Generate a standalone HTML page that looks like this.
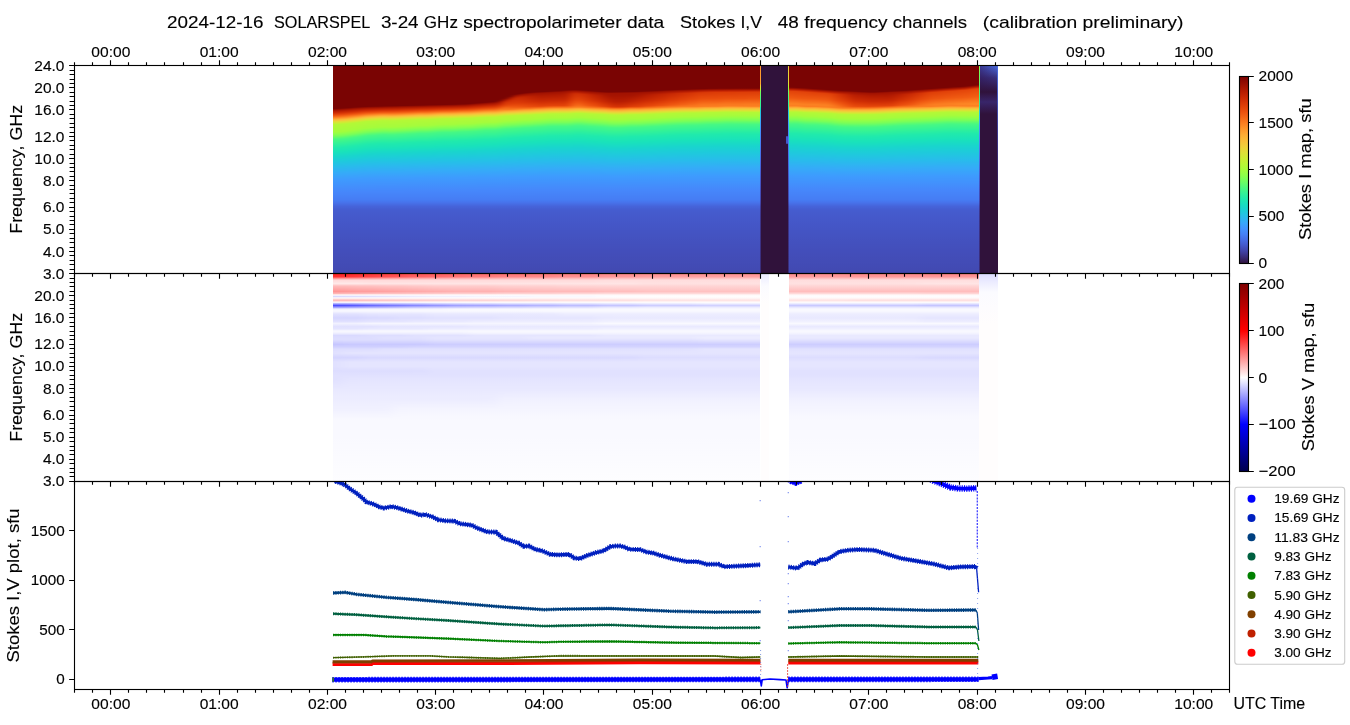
<!DOCTYPE html><html><head><meta charset="utf-8"><title>SOLARSPEL 2024-12-16</title>
<style>html,body{margin:0;padding:0;background:#fff}#f{position:relative;width:1350px;height:725px;overflow:hidden;background:#fff}.hm{position:absolute;left:0;width:1350px;height:207px}.hm i{position:absolute;top:0;height:100%;display:block}.hs{position:absolute;top:0;height:100%;overflow:hidden}.hs div{position:absolute;top:0;height:100%}svg{position:absolute;left:0;top:0;display:block}text{font-family:"Liberation Sans",sans-serif}</style></head><body><div id="f">
<div class="hm" style="top:66px"><svg width="0" height="0" style="position:absolute"><filter id="hb" x="0" y="0" width="1" height="1" color-interpolation-filters="sRGB"><feGaussianBlur stdDeviation="2.6 0"/></filter></svg><div class="hs" style="left:333px;width:427px"><div style="left:-10px;width:447px;filter:url(#hb)"><i style="left:0px;width:15px;background:linear-gradient(#7a0403 -0.8px,#7a0403 42.7px,#8e0a01 43.4px,#a11201 44.1px,#b91e02 45.4px,#cc2b04 46.8px,#dd3d08 48.1px,#ec530f 49.4px,#f76f1a 50.8px,#fd8a26 51.9px,#fea431 53px,#faba39 53.9px,#f1cb3a 54.9px,#e1dd37 55.8px,#cdec34 57.2px,#b4f836 58.5px,#a4fc3c 66px,#8fff49 68px,#79fe59 70px,#5dfc6f 71.8px,#46f884 73.5px,#32f298 77.6px,#20eaac 81.6px,#19e2bb 86.3px,#19d5cd 91px,#1fc9dd 95.8px,#28bceb 100.7px,#35abf8 107.1px,#3e9bfe 113.4px,#4687fb 126px,#467df4 133.6px,#4771e9 137px,#4664da 140.2px,#455ccf 144px,#4559cb 150px,#4454c3 166px,#434eba 186px,#4249b1 207.5px)"></i><i style="left:15px;width:5px;background:linear-gradient(#7a0403 -0.8px,#7a0403 42.3px,#8e0a01 43px,#a11201 43.7px,#b91e02 45.1px,#cc2b04 46.4px,#dd3d08 47.8px,#ec530f 49.1px,#f76f1a 50.5px,#fd8a26 51.6px,#fea431 52.7px,#faba39 53.6px,#f1cb3a 54.6px,#e1dd37 55.5px,#cdec34 56.8px,#b4f836 58.2px,#a4fc3c 65.6px,#8fff49 67.6px,#79fe59 69.6px,#5dfc6f 71.4px,#46f884 73.1px,#32f298 77.2px,#20eaac 81.3px,#19e2bb 86px,#19d5cd 90.7px,#1fc9dd 95.6px,#28bceb 100.5px,#35abf8 106.9px,#3e9bfe 113.3px,#4687fb 125.9px,#467df4 133.6px,#4771e9 137px,#4664da 140.2px,#455ccf 144px,#4559cb 150px,#4454c3 166px,#434eba 186px,#4249b1 207.5px)"></i><i style="left:20px;width:5px;background:linear-gradient(#7a0403 -0.8px,#7a0403 42px,#8e0a01 42.7px,#a11201 43.4px,#b91e02 44.7px,#cc2b04 46.1px,#dd3d08 47.4px,#ec530f 48.8px,#f76f1a 50.1px,#fd8a26 51.3px,#fea431 52.4px,#faba39 53.3px,#f1cb3a 54.3px,#e1dd37 55.2px,#cdec34 56.5px,#b4f836 57.9px,#a4fc3c 65.2px,#8fff49 67.2px,#79fe59 69.2px,#5dfc6f 70.9px,#46f884 72.7px,#32f298 76.8px,#20eaac 80.9px,#19e2bb 85.7px,#19d5cd 90.4px,#1fc9dd 95.4px,#28bceb 100.3px,#35abf8 106.8px,#3e9bfe 113.2px,#4687fb 125.9px,#467df4 133.6px,#4771e9 137px,#4664da 140.2px,#455ccf 144px,#4559cb 150px,#4454c3 166px,#434eba 186px,#4249b1 207.5px)"></i><i style="left:25px;width:5px;background:linear-gradient(#7a0403 -0.8px,#7a0403 41.6px,#8e0a01 42.3px,#a11201 43px,#b91e02 44.3px,#cc2b04 45.7px,#dd3d08 47px,#ec530f 48.3px,#f76f1a 49.6px,#fd8a26 50.8px,#fea431 51.9px,#faba39 52.8px,#f1cb3a 53.7px,#e1dd37 54.7px,#cdec34 56px,#b4f836 57.3px,#a4fc3c 64.4px,#8fff49 66.4px,#79fe59 68.5px,#5dfc6f 70.2px,#46f884 72px,#32f298 76.1px,#20eaac 80.3px,#19e2bb 85.1px,#19d5cd 89.9px,#1fc9dd 95px,#28bceb 100px,#35abf8 106.5px,#3e9bfe 113.1px,#4687fb 125.8px,#467df4 133.6px,#4771e9 137px,#4664da 140.2px,#455ccf 144px,#4559cb 150px,#4454c3 166px,#434eba 186px,#4249b1 207.5px)"></i><i style="left:30px;width:5px;background:linear-gradient(#7a0403 -0.8px,#7a0403 41.2px,#8e0a01 41.9px,#a11201 42.6px,#b91e02 43.9px,#cc2b04 45.3px,#dd3d08 46.6px,#ec530f 47.9px,#f76f1a 49.2px,#fd8a26 50.3px,#fea431 51.4px,#faba39 52.3px,#f1cb3a 53.3px,#e1dd37 54.2px,#cdec34 55.5px,#b4f836 56.8px,#a4fc3c 63.8px,#8fff49 65.8px,#79fe59 67.9px,#5dfc6f 69.6px,#46f884 71.4px,#32f298 75.6px,#20eaac 79.7px,#19e2bb 84.6px,#19d5cd 89.5px,#1fc9dd 94.6px,#28bceb 99.8px,#35abf8 106.4px,#3e9bfe 112.9px,#4687fb 125.7px,#467df4 133.6px,#4771e9 137px,#4664da 140.2px,#455ccf 144px,#4559cb 150px,#4454c3 166px,#434eba 186px,#4249b1 207.5px)"></i><i style="left:35px;width:5px;background:linear-gradient(#7a0403 -0.8px,#7a0403 40.9px,#8e0a01 41.6px,#a11201 42.3px,#b91e02 43.6px,#cc2b04 44.8px,#dd3d08 46.1px,#ec530f 47.4px,#f76f1a 48.7px,#fd8a26 49.8px,#fea431 50.9px,#faba39 51.8px,#f1cb3a 52.7px,#e1dd37 53.7px,#cdec34 55px,#b4f836 56.3px,#a4fc3c 63px,#8fff49 65.1px,#79fe59 67.1px,#5dfc6f 68.9px,#46f884 70.7px,#32f298 74.9px,#20eaac 79.1px,#19e2bb 84px,#19d5cd 89px,#1fc9dd 94.2px,#28bceb 99.5px,#35abf8 106.1px,#3e9bfe 112.8px,#4687fb 125.6px,#467df4 133.6px,#4771e9 137px,#4664da 140.2px,#455ccf 144px,#4559cb 150px,#4454c3 166px,#434eba 186px,#4249b1 207.5px)"></i><i style="left:40px;width:5px;background:linear-gradient(#7a0403 -0.8px,#7a0403 40.6px,#8e0a01 41.3px,#a11201 42px,#b91e02 43.2px,#cc2b04 44.4px,#dd3d08 45.7px,#ec530f 46.9px,#f76f1a 48.2px,#fd8a26 49.2px,#fea431 50.2px,#faba39 51.2px,#f1cb3a 52.1px,#e1dd37 53px,#cdec34 54.3px,#b4f836 55.6px,#a4fc3c 62.2px,#8fff49 64.2px,#79fe59 66.3px,#5dfc6f 68.1px,#46f884 69.9px,#32f298 74.1px,#20eaac 78.3px,#19e2bb 83.3px,#19d5cd 88.4px,#1fc9dd 93.7px,#28bceb 99.1px,#35abf8 105.8px,#3e9bfe 112.6px,#4687fb 125.5px,#467df4 133.6px,#4771e9 137px,#4664da 140.2px,#455ccf 144px,#4559cb 150px,#4454c3 166px,#434eba 186px,#4249b1 207.5px)"></i><i style="left:45px;width:5px;background:linear-gradient(#7a0403 -0.8px,#7a0403 40.4px,#8e0a01 41.1px,#a11201 41.8px,#b91e02 43px,#cc2b04 44.3px,#dd3d08 45.5px,#ec530f 46.7px,#f76f1a 47.9px,#fd8a26 48.9px,#fea431 50px,#faba39 50.9px,#f1cb3a 51.8px,#e1dd37 52.8px,#cdec34 54px,#b4f836 55.3px,#a4fc3c 61.8px,#8fff49 63.8px,#79fe59 65.9px,#5dfc6f 67.7px,#46f884 69.5px,#32f298 73.8px,#20eaac 78px,#19e2bb 83px,#19d5cd 88.1px,#1fc9dd 93.5px,#28bceb 98.9px,#35abf8 105.7px,#3e9bfe 112.5px,#4687fb 125.5px,#467df4 133.6px,#4771e9 137px,#4664da 140.2px,#455ccf 144px,#4559cb 150px,#4454c3 166px,#434eba 186px,#4249b1 207.5px)"></i><i style="left:50px;width:5px;background:linear-gradient(#7a0403 -0.8px,#7a0403 40.3px,#8e0a01 41px,#a11201 41.7px,#b91e02 42.9px,#cc2b04 44.1px,#dd3d08 45.3px,#ec530f 46.5px,#f76f1a 47.7px,#fd8a26 48.7px,#fea431 49.7px,#faba39 50.6px,#f1cb3a 51.6px,#e1dd37 52.5px,#cdec34 53.8px,#b4f836 55px,#a4fc3c 61.4px,#8fff49 63.5px,#79fe59 65.6px,#5dfc6f 67.4px,#46f884 69.2px,#32f298 73.5px,#20eaac 77.7px,#19e2bb 82.8px,#19d5cd 87.9px,#1fc9dd 93.3px,#28bceb 98.8px,#35abf8 105.6px,#3e9bfe 112.4px,#4687fb 125.4px,#467df4 133.6px,#4771e9 137px,#4664da 140.2px,#455ccf 144px,#4559cb 150px,#4454c3 166px,#434eba 186px,#4249b1 207.5px)"></i><i style="left:55px;width:5px;background:linear-gradient(#7a0403 -0.8px,#7a0403 40.2px,#8e0a01 40.9px,#a11201 41.6px,#b91e02 42.7px,#cc2b04 43.9px,#dd3d08 45.1px,#ec530f 46.3px,#f76f1a 47.4px,#fd8a26 48.4px,#fea431 49.4px,#faba39 50.3px,#f1cb3a 51.3px,#e1dd37 52.2px,#cdec34 53.5px,#b4f836 54.7px,#a4fc3c 61px,#8fff49 63.1px,#79fe59 65.2px,#5dfc6f 67px,#46f884 68.8px,#32f298 73.1px,#20eaac 77.3px,#19e2bb 82.5px,#19d5cd 87.6px,#1fc9dd 93.1px,#28bceb 98.6px,#35abf8 105.5px,#3e9bfe 112.3px,#4687fb 125.4px,#467df4 133.6px,#4771e9 137px,#4664da 140.2px,#455ccf 144px,#4559cb 150px,#4454c3 166px,#434eba 186px,#4249b1 207.5px)"></i><i style="left:60px;width:5px;background:linear-gradient(#7a0403 -0.8px,#7a0403 40px,#8e0a01 40.7px,#a11201 41.4px,#b91e02 42.6px,#cc2b04 43.8px,#dd3d08 45px,#ec530f 46.2px,#f76f1a 47.4px,#fd8a26 48.3px,#fea431 49.3px,#faba39 50.3px,#f1cb3a 51.2px,#e1dd37 52.1px,#cdec34 53.4px,#b4f836 54.6px,#a4fc3c 60.9px,#8fff49 63px,#79fe59 65px,#5dfc6f 66.9px,#46f884 68.7px,#32f298 73px,#20eaac 77.3px,#19e2bb 82.4px,#19d5cd 87.5px,#1fc9dd 93px,#28bceb 98.6px,#35abf8 105.4px,#3e9bfe 112.3px,#4687fb 125.4px,#467df4 133.6px,#4771e9 137px,#4664da 140.2px,#455ccf 144px,#4559cb 150px,#4454c3 166px,#434eba 186px,#4249b1 207.5px)"></i><i style="left:65px;width:5px;background:linear-gradient(#7a0403 -0.8px,#7a0403 39.9px,#8e0a01 40.6px,#a11201 41.3px,#b91e02 42.5px,#cc2b04 43.7px,#dd3d08 45px,#ec530f 46.2px,#f76f1a 47.4px,#fd8a26 48.4px,#fea431 49.5px,#faba39 50.4px,#f1cb3a 51.3px,#e1dd37 52.3px,#cdec34 53.5px,#b4f836 54.8px,#a4fc3c 61.1px,#8fff49 63.2px,#79fe59 65.2px,#5dfc6f 67.1px,#46f884 68.9px,#32f298 73.2px,#20eaac 77.4px,#19e2bb 82.5px,#19d5cd 87.6px,#1fc9dd 93.1px,#28bceb 98.6px,#35abf8 105.5px,#3e9bfe 112.4px,#4687fb 125.4px,#467df4 133.6px,#4771e9 137px,#4664da 140.2px,#455ccf 144px,#4559cb 150px,#4454c3 166px,#434eba 186px,#4249b1 207.5px)"></i><i style="left:70px;width:5px;background:linear-gradient(#7a0403 -0.8px,#7a0403 39.8px,#8e0a01 40.5px,#a11201 41.2px,#b91e02 42.4px,#cc2b04 43.6px,#dd3d08 44.9px,#ec530f 46.1px,#f76f1a 47.3px,#fd8a26 48.4px,#fea431 49.4px,#faba39 50.3px,#f1cb3a 51.2px,#e1dd37 52.2px,#cdec34 53.4px,#b4f836 54.7px,#a4fc3c 61px,#8fff49 63px,#79fe59 65.1px,#5dfc6f 66.9px,#46f884 68.8px,#32f298 73px,#20eaac 77.3px,#19e2bb 82.4px,#19d5cd 87.5px,#1fc9dd 93.1px,#28bceb 98.6px,#35abf8 105.5px,#3e9bfe 112.3px,#4687fb 125.4px,#467df4 133.6px,#4771e9 137px,#4664da 140.2px,#455ccf 144px,#4559cb 150px,#4454c3 166px,#434eba 186px,#4249b1 207.5px)"></i><i style="left:75px;width:5px;background:linear-gradient(#7a0403 -0.8px,#7a0403 39.6px,#8e0a01 40.3px,#a11201 41px,#b91e02 42.3px,#cc2b04 43.5px,#dd3d08 44.7px,#ec530f 45.9px,#f76f1a 47.2px,#fd8a26 48.2px,#fea431 49.2px,#faba39 50.1px,#f1cb3a 51.1px,#e1dd37 52px,#cdec34 53.2px,#b4f836 54.5px,#a4fc3c 60.7px,#8fff49 62.8px,#79fe59 64.9px,#5dfc6f 66.7px,#46f884 68.5px,#32f298 72.8px,#20eaac 77.1px,#19e2bb 82.2px,#19d5cd 87.4px,#1fc9dd 92.9px,#28bceb 98.5px,#35abf8 105.4px,#3e9bfe 112.3px,#4687fb 125.3px,#467df4 133.6px,#4771e9 137px,#4664da 140.2px,#455ccf 144px,#4559cb 150px,#4454c3 166px,#434eba 186px,#4249b1 207.5px)"></i><i style="left:80px;width:5px;background:linear-gradient(#7a0403 -0.8px,#7a0403 39.5px,#8e0a01 40.2px,#a11201 40.9px,#b91e02 42.1px,#cc2b04 43.3px,#dd3d08 44.5px,#ec530f 45.8px,#f76f1a 47px,#fd8a26 48px,#fea431 49px,#faba39 49.9px,#f1cb3a 50.8px,#e1dd37 51.8px,#cdec34 53px,#b4f836 54.3px,#a4fc3c 60.4px,#8fff49 62.5px,#79fe59 64.6px,#5dfc6f 66.4px,#46f884 68.2px,#32f298 72.5px,#20eaac 76.8px,#19e2bb 82px,#19d5cd 87.1px,#1fc9dd 92.8px,#28bceb 98.4px,#35abf8 105.3px,#3e9bfe 112.2px,#4687fb 125.3px,#467df4 133.6px,#4771e9 137px,#4664da 140.2px,#455ccf 144px,#4559cb 150px,#4454c3 166px,#434eba 186px,#4249b1 207.5px)"></i><i style="left:85px;width:5px;background:linear-gradient(#7a0403 -0.8px,#7a0403 39.4px,#8e0a01 40.1px,#a11201 40.8px,#b91e02 42px,#cc2b04 43.2px,#dd3d08 44.4px,#ec530f 45.6px,#f76f1a 46.8px,#fd8a26 47.8px,#fea431 48.8px,#faba39 49.7px,#f1cb3a 50.7px,#e1dd37 51.6px,#cdec34 52.8px,#b4f836 54.1px,#a4fc3c 60.1px,#8fff49 62.2px,#79fe59 64.3px,#5dfc6f 66.2px,#46f884 68px,#32f298 72.3px,#20eaac 76.6px,#19e2bb 81.8px,#19d5cd 87px,#1fc9dd 92.6px,#28bceb 98.2px,#35abf8 105.2px,#3e9bfe 112.2px,#4687fb 125.3px,#467df4 133.6px,#4771e9 137px,#4664da 140.2px,#455ccf 144px,#4559cb 150px,#4454c3 166px,#434eba 186px,#4249b1 207.5px)"></i><i style="left:90px;width:5px;background:linear-gradient(#7a0403 -0.8px,#7a0403 39.3px,#8e0a01 40px,#a11201 40.7px,#b91e02 41.9px,#cc2b04 43.1px,#dd3d08 44.2px,#ec530f 45.4px,#f76f1a 46.6px,#fd8a26 47.6px,#fea431 48.6px,#faba39 49.5px,#f1cb3a 50.5px,#e1dd37 51.4px,#cdec34 52.6px,#b4f836 53.9px,#a4fc3c 59.9px,#8fff49 62px,#79fe59 64px,#5dfc6f 65.9px,#46f884 67.7px,#32f298 72.1px,#20eaac 76.4px,#19e2bb 81.6px,#19d5cd 86.8px,#1fc9dd 92.5px,#28bceb 98.1px,#35abf8 105.1px,#3e9bfe 112.1px,#4687fb 125.2px,#467df4 133.6px,#4771e9 137px,#4664da 140.2px,#455ccf 144px,#4559cb 150px,#4454c3 166px,#434eba 186px,#4249b1 207.5px)"></i><i style="left:95px;width:5px;background:linear-gradient(#7a0403 -0.8px,#7a0403 39.2px,#8e0a01 39.9px,#a11201 40.6px,#b91e02 41.7px,#cc2b04 42.9px,#dd3d08 44px,#ec530f 45.2px,#f76f1a 46.4px,#fd8a26 47.3px,#fea431 48.3px,#faba39 49.2px,#f1cb3a 50.2px,#e1dd37 51.1px,#cdec34 52.3px,#b4f836 53.6px,#a4fc3c 59.5px,#8fff49 61.6px,#79fe59 63.7px,#5dfc6f 65.5px,#46f884 67.4px,#32f298 71.7px,#20eaac 76px,#19e2bb 81.3px,#19d5cd 86.5px,#1fc9dd 92.2px,#28bceb 98px,#35abf8 105px,#3e9bfe 112px,#4687fb 125.2px,#467df4 133.6px,#4771e9 137px,#4664da 140.2px,#455ccf 144px,#4559cb 150px,#4454c3 166px,#434eba 186px,#4249b1 207.5px)"></i><i style="left:100px;width:5px;background:linear-gradient(#7a0403 -0.8px,#7a0403 39.1px,#8e0a01 39.8px,#a11201 40.5px,#b91e02 41.6px,#cc2b04 42.8px,#dd3d08 44px,#ec530f 45.2px,#f76f1a 46.4px,#fd8a26 47.4px,#fea431 48.4px,#faba39 49.3px,#f1cb3a 50.3px,#e1dd37 51.2px,#cdec34 52.4px,#b4f836 53.7px,#a4fc3c 59.6px,#8fff49 61.7px,#79fe59 63.8px,#5dfc6f 65.6px,#46f884 67.5px,#32f298 71.8px,#20eaac 76.1px,#19e2bb 81.4px,#19d5cd 86.6px,#1fc9dd 92.3px,#28bceb 98px,#35abf8 105px,#3e9bfe 112px,#4687fb 125.2px,#467df4 133.6px,#4771e9 137px,#4664da 140.2px,#455ccf 144px,#4559cb 150px,#4454c3 166px,#434eba 186px,#4249b1 207.5px)"></i><i style="left:105px;width:5px;background:linear-gradient(#7a0403 -0.8px,#7a0403 38.9px,#8e0a01 39.6px,#a11201 40.3px,#b91e02 41.5px,#cc2b04 42.7px,#dd3d08 43.9px,#ec530f 45px,#f76f1a 46.2px,#fd8a26 47.2px,#fea431 48.2px,#faba39 49.1px,#f1cb3a 50px,#e1dd37 51px,#cdec34 52.2px,#b4f836 53.4px,#a4fc3c 59.3px,#8fff49 61.4px,#79fe59 63.5px,#5dfc6f 65.3px,#46f884 67.2px,#32f298 71.5px,#20eaac 75.9px,#19e2bb 81.1px,#19d5cd 86.4px,#1fc9dd 92.1px,#28bceb 97.9px,#35abf8 104.9px,#3e9bfe 112px,#4687fb 125.2px,#467df4 133.6px,#4771e9 137px,#4664da 140.2px,#455ccf 144px,#4559cb 150px,#4454c3 166px,#434eba 186px,#4249b1 207.5px)"></i><i style="left:110px;width:5px;background:linear-gradient(#7a0403 -0.8px,#7a0403 38.8px,#8e0a01 39.5px,#a11201 40.2px,#b91e02 41.4px,#cc2b04 42.5px,#dd3d08 43.7px,#ec530f 44.8px,#f76f1a 46px,#fd8a26 46.9px,#fea431 47.9px,#faba39 48.8px,#f1cb3a 49.7px,#e1dd37 50.7px,#cdec34 51.9px,#b4f836 53.1px,#a4fc3c 58.9px,#8fff49 61px,#79fe59 63.1px,#5dfc6f 64.9px,#46f884 66.8px,#32f298 71.2px,#20eaac 75.5px,#19e2bb 80.8px,#19d5cd 86.1px,#1fc9dd 91.9px,#28bceb 97.7px,#35abf8 104.8px,#3e9bfe 111.9px,#4687fb 125.1px,#467df4 133.6px,#4771e9 137px,#4664da 140.2px,#455ccf 144px,#4559cb 150px,#4454c3 166px,#434eba 186px,#4249b1 207.5px)"></i><i style="left:115px;width:5px;background:linear-gradient(#7a0403 -0.8px,#7a0403 38.7px,#8e0a01 39.4px,#a11201 40.1px,#b91e02 41.2px,#cc2b04 42.3px,#dd3d08 43.5px,#ec530f 44.6px,#f76f1a 45.8px,#fd8a26 46.7px,#fea431 47.6px,#faba39 48.6px,#f1cb3a 49.5px,#e1dd37 50.4px,#cdec34 51.7px,#b4f836 52.9px,#a4fc3c 58.6px,#8fff49 60.7px,#79fe59 62.8px,#5dfc6f 64.7px,#46f884 66.5px,#32f298 70.9px,#20eaac 75.3px,#19e2bb 80.6px,#19d5cd 85.9px,#1fc9dd 91.7px,#28bceb 97.6px,#35abf8 104.7px,#3e9bfe 111.8px,#4687fb 125.1px,#467df4 133.6px,#4771e9 137px,#4664da 140.2px,#455ccf 144px,#4559cb 150px,#4454c3 166px,#434eba 186px,#4249b1 207.5px)"></i><i style="left:120px;width:5px;background:linear-gradient(#7a0403 -0.8px,#7a0403 38.5px,#8e0a01 39.2px,#a11201 39.9px,#b91e02 41.1px,#cc2b04 42.2px,#dd3d08 43.4px,#ec530f 44.5px,#f76f1a 45.7px,#fd8a26 46.6px,#fea431 47.6px,#faba39 48.5px,#f1cb3a 49.4px,#e1dd37 50.4px,#cdec34 51.6px,#b4f836 52.8px,#a4fc3c 58.4px,#8fff49 60.5px,#79fe59 62.7px,#5dfc6f 64.5px,#46f884 66.4px,#32f298 70.8px,#20eaac 75.2px,#19e2bb 80.5px,#19d5cd 85.8px,#1fc9dd 91.7px,#28bceb 97.5px,#35abf8 104.7px,#3e9bfe 111.8px,#4687fb 125.1px,#467df4 133.6px,#4771e9 137px,#4664da 140.2px,#455ccf 144px,#4559cb 150px,#4454c3 166px,#434eba 186px,#4249b1 207.5px)"></i><i style="left:125px;width:5px;background:linear-gradient(#7a0403 -0.8px,#7a0403 38.4px,#8e0a01 39.1px,#a11201 39.8px,#b91e02 41px,#cc2b04 42.1px,#dd3d08 43.3px,#ec530f 44.4px,#f76f1a 45.6px,#fd8a26 46.6px,#fea431 47.5px,#faba39 48.5px,#f1cb3a 49.4px,#e1dd37 50.3px,#cdec34 51.5px,#b4f836 52.7px,#a4fc3c 58.4px,#8fff49 60.5px,#79fe59 62.6px,#5dfc6f 64.5px,#46f884 66.4px,#32f298 70.7px,#20eaac 75.1px,#19e2bb 80.4px,#19d5cd 85.8px,#1fc9dd 91.6px,#28bceb 97.5px,#35abf8 104.6px,#3e9bfe 111.8px,#4687fb 125px,#467df4 133.6px,#4771e9 137px,#4664da 140.2px,#455ccf 144px,#4559cb 150px,#4454c3 166px,#434eba 186px,#4249b1 207.5px)"></i><i style="left:130px;width:5px;background:linear-gradient(#7a0403 -0.8px,#7a0403 38.3px,#8e0a01 39px,#a11201 39.7px,#b91e02 40.8px,#cc2b04 42px,#dd3d08 43.2px,#ec530f 44.3px,#f76f1a 45.5px,#fd8a26 46.5px,#fea431 47.4px,#faba39 48.4px,#f1cb3a 49.3px,#e1dd37 50.2px,#cdec34 51.4px,#b4f836 52.6px,#a4fc3c 58.2px,#8fff49 60.4px,#79fe59 62.5px,#5dfc6f 64.4px,#46f884 66.2px,#32f298 70.6px,#20eaac 75px,#19e2bb 80.3px,#19d5cd 85.7px,#1fc9dd 91.6px,#28bceb 97.5px,#35abf8 104.6px,#3e9bfe 111.8px,#4687fb 125px,#467df4 133.6px,#4771e9 137px,#4664da 140.2px,#455ccf 144px,#4559cb 150px,#4454c3 166px,#434eba 186px,#4249b1 207.5px)"></i><i style="left:135px;width:5px;background:linear-gradient(#7a0403 -0.8px,#7a0403 38.1px,#8e0a01 38.8px,#a11201 39.5px,#b91e02 40.7px,#cc2b04 41.8px,#dd3d08 43px,#ec530f 44.1px,#f76f1a 45.2px,#fd8a26 46.2px,#fea431 47.1px,#faba39 48.1px,#f1cb3a 49px,#e1dd37 49.9px,#cdec34 51.1px,#b4f836 52.3px,#a4fc3c 57.8px,#8fff49 60px,#79fe59 62.1px,#5dfc6f 64px,#46f884 65.9px,#32f298 70.3px,#20eaac 74.7px,#19e2bb 80px,#19d5cd 85.4px,#1fc9dd 91.3px,#28bceb 97.3px,#35abf8 104.5px,#3e9bfe 111.7px,#4687fb 125px,#467df4 133.6px,#4771e9 137px,#4664da 140.2px,#455ccf 144px,#4559cb 150px,#4454c3 166px,#434eba 186px,#4249b1 207.5px)"></i><i style="left:140px;width:5px;background:linear-gradient(#7a0403 -0.8px,#7a0403 38px,#8e0a01 38.7px,#a11201 39.4px,#b91e02 40.6px,#cc2b04 41.7px,#dd3d08 42.9px,#ec530f 44px,#f76f1a 45.1px,#fd8a26 46.1px,#fea431 47.1px,#faba39 48px,#f1cb3a 48.9px,#e1dd37 49.9px,#cdec34 51.1px,#b4f836 52.2px,#a4fc3c 57.7px,#8fff49 59.9px,#79fe59 62px,#5dfc6f 63.9px,#46f884 65.8px,#32f298 70.2px,#20eaac 74.6px,#19e2bb 79.9px,#19d5cd 85.3px,#1fc9dd 91.3px,#28bceb 97.2px,#35abf8 104.4px,#3e9bfe 111.6px,#4687fb 125px,#467df4 133.6px,#4771e9 137px,#4664da 140.2px,#455ccf 144px,#4559cb 150px,#4454c3 166px,#434eba 186px,#4249b1 207.5px)"></i><i style="left:145px;width:5px;background:linear-gradient(#7a0403 -0.8px,#7a0403 37.6px,#8e0a01 38.3px,#a11201 39px,#b91e02 40.2px,#cc2b04 41.4px,#dd3d08 42.6px,#ec530f 43.8px,#f76f1a 45px,#fd8a26 46px,#fea431 47px,#faba39 47.9px,#f1cb3a 48.8px,#e1dd37 49.8px,#cdec34 51px,#b4f836 52.2px,#a4fc3c 57.6px,#8fff49 59.8px,#79fe59 61.9px,#5dfc6f 63.8px,#46f884 65.6px,#32f298 70.1px,#20eaac 74.5px,#19e2bb 79.9px,#19d5cd 85.2px,#1fc9dd 91.2px,#28bceb 97.2px,#35abf8 104.4px,#3e9bfe 111.6px,#4687fb 125px,#467df4 133.6px,#4771e9 137px,#4664da 140.2px,#455ccf 144px,#4559cb 150px,#4454c3 166px,#434eba 186px,#4249b1 207.5px)"></i><i style="left:150px;width:5px;background:linear-gradient(#7a0403 -0.8px,#7a0403 37.2px,#8e0a01 37.9px,#a11201 38.6px,#b91e02 39.8px,#cc2b04 41px,#dd3d08 42.3px,#ec530f 43.5px,#f76f1a 44.7px,#fd8a26 45.7px,#fea431 46.7px,#faba39 47.6px,#f1cb3a 48.5px,#e1dd37 49.5px,#cdec34 50.7px,#b4f836 51.8px,#a4fc3c 57.2px,#8fff49 59.3px,#79fe59 61.5px,#5dfc6f 63.4px,#46f884 65.3px,#32f298 69.7px,#20eaac 74.1px,#19e2bb 79.5px,#19d5cd 85px,#1fc9dd 91px,#28bceb 97px,#35abf8 104.3px,#3e9bfe 111.5px,#4687fb 124.9px,#467df4 133.6px,#4771e9 137px,#4664da 140.2px,#455ccf 144px,#4559cb 150px,#4454c3 166px,#434eba 186px,#4249b1 207.5px)"></i><i style="left:155px;width:5px;background:linear-gradient(#7a0403 -0.8px,#7a0403 36.8px,#8e0a01 37.5px,#a11201 38.2px,#b91e02 39.5px,#cc2b04 40.7px,#dd3d08 41.9px,#ec530f 43.1px,#f76f1a 44.3px,#fd8a26 45.4px,#fea431 46.4px,#faba39 47.3px,#f1cb3a 48.3px,#e1dd37 49.2px,#cdec34 50.4px,#b4f836 51.5px,#a4fc3c 56.8px,#8fff49 58.9px,#79fe59 61.1px,#5dfc6f 63px,#46f884 64.9px,#32f298 69.3px,#20eaac 73.8px,#19e2bb 79.2px,#19d5cd 84.7px,#1fc9dd 90.8px,#28bceb 96.8px,#35abf8 104.1px,#3e9bfe 111.4px,#4687fb 124.8px,#467df4 133.6px,#4771e9 137px,#4664da 140.2px,#455ccf 144px,#4559cb 150px,#4454c3 166px,#434eba 186px,#4249b1 207.5px)"></i><i style="left:160px;width:5px;background:linear-gradient(#7a0403 -0.8px,#7a0403 36.4px,#8e0a01 37.1px,#a11201 37.8px,#b91e02 39.1px,#cc2b04 40.3px,#dd3d08 41.6px,#ec530f 42.8px,#f76f1a 44.1px,#fd8a26 45.1px,#fea431 46.1px,#faba39 47.1px,#f1cb3a 48px,#e1dd37 48.9px,#cdec34 50.1px,#b4f836 51.3px,#a4fc3c 56.4px,#8fff49 58.6px,#79fe59 60.7px,#5dfc6f 62.6px,#46f884 64.5px,#32f298 69px,#20eaac 73.5px,#19e2bb 79px,#19d5cd 84.4px,#1fc9dd 90.6px,#28bceb 96.7px,#35abf8 104px,#3e9bfe 111.4px,#4687fb 124.8px,#467df4 133.6px,#4771e9 137px,#4664da 140.2px,#455ccf 144px,#4559cb 150px,#4454c3 166px,#434eba 186px,#4249b1 207.5px)"></i><i style="left:165px;width:5px;background:linear-gradient(#7a0403 -0.8px,#7a0403 36px,#8e0a01 36.7px,#a11201 37.4px,#b91e02 38.7px,#cc2b04 40px,#dd3d08 41.3px,#ec530f 42.6px,#f76f1a 43.9px,#fd8a26 44.9px,#fea431 46px,#faba39 46.9px,#f1cb3a 47.9px,#e1dd37 48.8px,#cdec34 50px,#b4f836 51.2px,#a4fc3c 56.3px,#8fff49 58.4px,#79fe59 60.6px,#5dfc6f 62.5px,#46f884 64.4px,#32f298 68.9px,#20eaac 73.3px,#19e2bb 78.8px,#19d5cd 84.3px,#1fc9dd 90.5px,#28bceb 96.6px,#35abf8 104px,#3e9bfe 111.3px,#4687fb 124.8px,#467df4 133.6px,#4771e9 137px,#4664da 140.2px,#455ccf 144px,#4559cb 150px,#4454c3 166px,#434eba 186px,#4249b1 207.5px)"></i><i style="left:170px;width:5px;background:linear-gradient(#7a0403 -0.8px,#7a0403 35.6px,#8e0a01 36.3px,#a11201 37px,#b91e02 38.4px,#cc2b04 39.7px,#dd3d08 41.1px,#ec530f 42.4px,#f76f1a 43.8px,#fd8a26 44.9px,#fea431 46px,#faba39 46.9px,#f1cb3a 47.9px,#e1dd37 48.8px,#cdec34 50px,#b4f836 51.2px,#a4fc3c 56.3px,#8fff49 58.4px,#79fe59 60.6px,#5dfc6f 62.5px,#46f884 64.4px,#32f298 68.9px,#20eaac 73.3px,#19e2bb 78.8px,#19d5cd 84.3px,#1fc9dd 90.5px,#28bceb 96.6px,#35abf8 104px,#3e9bfe 111.3px,#4687fb 124.8px,#467df4 133.6px,#4771e9 137px,#4664da 140.2px,#455ccf 144px,#4559cb 150px,#4454c3 166px,#434eba 186px,#4249b1 207.5px)"></i><i style="left:175px;width:5px;background:linear-gradient(#7a0403 -0.8px,#7a0403 34.2px,#8e0a01 34.9px,#a11201 35.6px,#b91e02 37px,#cc2b04 38.5px,#dd3d08 40px,#ec530f 41.5px,#f76f1a 43px,#fd8a26 44.2px,#fea431 45.5px,#faba39 46.4px,#f1cb3a 47.3px,#e1dd37 48.3px,#cdec34 49.4px,#b4f836 50.6px,#a4fc3c 55.5px,#8fff49 57.7px,#79fe59 59.8px,#5dfc6f 61.8px,#46f884 63.7px,#32f298 68.2px,#20eaac 72.7px,#19e2bb 78.2px,#19d5cd 83.8px,#1fc9dd 90.1px,#28bceb 96.3px,#35abf8 103.7px,#3e9bfe 111.2px,#4687fb 124.7px,#467df4 133.6px,#4771e9 137px,#4664da 140.2px,#455ccf 144px,#4559cb 150px,#4454c3 166px,#434eba 186px,#4249b1 207.5px)"></i><i style="left:180px;width:5px;background:linear-gradient(#7a0403 -0.8px,#7a0403 32.2px,#8e0a01 32.9px,#a11201 33.6px,#bc2002 34.9px,#d23105 36.2px,#e4450a 39.3px,#ed5510 40.6px,#f56918 41.8px,#fb7e21 43.8px,#fe932a 44.4px,#fea431 45px,#faba39 46px,#f1cb3a 46.9px,#e1dd37 47.8px,#cdec34 49px,#b4f836 50.1px,#a4fc3c 54.9px,#8fff49 57.1px,#79fe59 59.3px,#5dfc6f 61.2px,#46f884 63.1px,#32f298 67.7px,#20eaac 72.2px,#19e2bb 77.8px,#19d5cd 83.4px,#1fc9dd 89.7px,#28bceb 96.1px,#35abf8 103.6px,#3e9bfe 111px,#4687fb 124.6px,#467df4 133.6px,#4771e9 137px,#4664da 140.2px,#455ccf 144px,#4559cb 150px,#4454c3 166px,#434eba 186px,#4249b1 207.5px)"></i><i style="left:185px;width:5px;background:linear-gradient(#7a0403 -0.8px,#7a0403 30.3px,#8e0a01 31px,#a11201 31.7px,#b91e02 33px,#ce2d04 34.3px,#e14109 38.3px,#eb500e 40px,#f36315 41.7px,#fb7e21 43.7px,#fe932a 44.3px,#fea431 44.9px,#faba39 45.8px,#f1cb3a 46.7px,#e1dd37 47.7px,#cdec34 48.8px,#b4f836 49.9px,#a4fc3c 54.7px,#8fff49 56.9px,#79fe59 59px,#5dfc6f 61px,#46f884 62.9px,#32f298 67.4px,#20eaac 72px,#19e2bb 77.6px,#19d5cd 83.2px,#1fc9dd 89.6px,#28bceb 96px,#35abf8 103.5px,#3e9bfe 111px,#4687fb 124.6px,#467df4 133.6px,#4771e9 137px,#4664da 140.2px,#455ccf 144px,#4559cb 150px,#4454c3 166px,#434eba 186px,#4249b1 207.5px)"></i><i style="left:190px;width:5px;background:linear-gradient(#7a0403 -0.8px,#7a0403 28.4px,#8e0a01 29.1px,#a11201 29.8px,#b91e02 31.1px,#cc2b04 32.4px,#dd3d08 37.2px,#e84b0c 39.3px,#f15d13 41.4px,#fb7e21 43.4px,#fe932a 44px,#fea431 44.6px,#faba39 45.6px,#f1cb3a 46.5px,#e1dd37 47.4px,#cdec34 48.6px,#b4f836 49.7px,#a4fc3c 54.4px,#8fff49 56.6px,#79fe59 58.7px,#5dfc6f 60.7px,#46f884 62.6px,#32f298 67.2px,#20eaac 71.7px,#19e2bb 77.4px,#19d5cd 83px,#1fc9dd 89.4px,#28bceb 95.8px,#35abf8 103.4px,#3e9bfe 110.9px,#4687fb 124.5px,#467df4 133.6px,#4771e9 137px,#4664da 140.2px,#455ccf 144px,#4559cb 150px,#4454c3 166px,#434eba 186px,#4249b1 207.5px)"></i><i style="left:195px;width:5px;background:linear-gradient(#7a0403 -0.8px,#7a0403 27.5px,#8e0a01 28.2px,#a11201 28.9px,#b71d02 30.2px,#c82803 31.5px,#da3907 36.6px,#e5470b 38.9px,#ef5811 41.1px,#f66c19 42.1px,#fb7e21 43.1px,#fe932a 43.7px,#fea431 44.3px,#faba39 45.3px,#f1cb3a 46.2px,#e1dd37 47.1px,#cdec34 48.3px,#b4f836 49.4px,#a4fc3c 53.9px,#8fff49 56.1px,#79fe59 58.3px,#5dfc6f 60.3px,#46f884 62.2px,#32f298 66.8px,#20eaac 71.3px,#19e2bb 77px,#19d5cd 82.7px,#1fc9dd 89.2px,#28bceb 95.6px,#35abf8 103.2px,#3e9bfe 110.8px,#4687fb 124.5px,#467df4 133.6px,#4771e9 137px,#4664da 140.2px,#455ccf 144px,#4559cb 150px,#4454c3 166px,#434eba 186px,#4249b1 207.5px)"></i><i style="left:200px;width:5px;background:linear-gradient(#7a0403 -0.8px,#7a0403 26.9px,#8e0a01 27.6px,#a11201 28.3px,#b21a01 29.6px,#c32503 30.9px,#d63506 36.2px,#e2430a 38.5px,#ec530f 40.9px,#f56918 41.9px,#fb7e21 42.9px,#fe932a 43.5px,#fea431 44.1px,#faba39 45px,#f1cb3a 45.9px,#e1dd37 46.9px,#cdec34 48px,#b4f836 49.1px,#a4fc3c 53.6px,#8fff49 55.8px,#79fe59 58px,#5dfc6f 59.9px,#46f884 61.8px,#32f298 66.4px,#20eaac 71px,#19e2bb 76.7px,#19d5cd 82.5px,#1fc9dd 89px,#28bceb 95.5px,#35abf8 103.1px,#3e9bfe 110.8px,#4687fb 124.4px,#467df4 133.6px,#4771e9 137px,#4664da 140.2px,#455ccf 144px,#4559cb 150px,#4454c3 166px,#434eba 186px,#4249b1 207.5px)"></i><i style="left:205px;width:5px;background:linear-gradient(#7a0403 -0.8px,#7a0403 26.4px,#8e0a01 27.1px,#a11201 27.8px,#bc2002 30.4px,#d23105 35.9px,#df3f08 38.4px,#ea4e0d 40.8px,#f46617 41.8px,#fb7e21 42.8px,#fe932a 43.4px,#fea431 44px,#faba39 44.9px,#f1cb3a 45.9px,#e1dd37 46.8px,#cdec34 47.9px,#b4f836 49px,#a4fc3c 53.5px,#8fff49 55.7px,#79fe59 57.9px,#5dfc6f 59.8px,#46f884 61.8px,#32f298 66.3px,#20eaac 70.9px,#19e2bb 76.7px,#19d5cd 82.4px,#1fc9dd 88.9px,#28bceb 95.5px,#35abf8 103.1px,#3e9bfe 110.7px,#4687fb 124.4px,#467df4 133.6px,#4771e9 137px,#4664da 140.2px,#455ccf 144px,#4559cb 150px,#4454c3 166px,#434eba 186px,#4249b1 207.5px)"></i><i style="left:210px;width:5px;background:linear-gradient(#7a0403 -0.8px,#7a0403 26px,#8e0a01 26.7px,#a11201 27.4px,#b71d02 30px,#ce2d04 35.5px,#dc3b07 38px,#e7490c 40.4px,#f36315 41.4px,#fb7e21 42.4px,#fe932a 43px,#fea431 43.6px,#faba39 44.6px,#f1cb3a 45.5px,#e1dd37 46.4px,#cdec34 47.5px,#b4f836 48.6px,#a4fc3c 53px,#8fff49 55.2px,#79fe59 57.4px,#5dfc6f 59.3px,#46f884 61.3px,#32f298 65.9px,#20eaac 70.5px,#19e2bb 76.3px,#19d5cd 82px,#1fc9dd 88.6px,#28bceb 95.2px,#35abf8 102.9px,#3e9bfe 110.6px,#4687fb 124.4px,#467df4 133.6px,#4771e9 137px,#4664da 140.2px,#455ccf 144px,#4559cb 150px,#4454c3 166px,#434eba 186px,#4249b1 207.5px)"></i><i style="left:215px;width:5px;background:linear-gradient(#7a0403 -0.8px,#7a0403 25.8px,#8e0a01 26.5px,#a11201 27.2px,#b21a01 29.8px,#ca2a04 35.3px,#d83706 37.8px,#e4450a 40.3px,#f26014 41.3px,#fb7e21 42.3px,#fe932a 42.9px,#fea431 43.5px,#faba39 44.4px,#f1cb3a 45.4px,#e1dd37 46.3px,#cdec34 47.4px,#b4f836 48.5px,#a4fc3c 52.8px,#8fff49 55px,#79fe59 57.2px,#5dfc6f 59.2px,#46f884 61.1px,#32f298 65.8px,#20eaac 70.4px,#19e2bb 76.2px,#19d5cd 81.9px,#1fc9dd 88.5px,#28bceb 95.2px,#35abf8 102.9px,#3e9bfe 110.6px,#4687fb 124.3px,#467df4 133.6px,#4771e9 137px,#4664da 140.2px,#455ccf 144px,#4559cb 150px,#4454c3 166px,#434eba 186px,#4249b1 207.5px)"></i><i style="left:220px;width:5px;background:linear-gradient(#7a0403 -0.8px,#7a0403 25.5px,#8e0a01 26.2px,#a11201 26.9px,#b21a01 29.5px,#ca2a04 35.1px,#d83706 37.6px,#e4450a 40px,#f26014 41px,#fb7e21 42px,#fe932a 42.6px,#fea431 43.2px,#faba39 44.2px,#f1cb3a 45.1px,#e1dd37 46px,#cdec34 47.1px,#b4f836 48.2px,#a4fc3c 52.4px,#8fff49 54.6px,#79fe59 56.8px,#5dfc6f 58.8px,#46f884 60.8px,#32f298 65.4px,#20eaac 70.1px,#19e2bb 75.9px,#19d5cd 81.7px,#1fc9dd 88.3px,#28bceb 95px,#35abf8 102.8px,#3e9bfe 110.5px,#4687fb 124.3px,#467df4 133.6px,#4771e9 137px,#4664da 140.2px,#455ccf 144px,#4559cb 150px,#4454c3 166px,#434eba 186px,#4249b1 207.5px)"></i><i style="left:225px;width:5px;background:linear-gradient(#7a0403 -0.8px,#7a0403 25.3px,#8e0a01 26px,#a11201 26.7px,#b21a01 29.3px,#ca2a04 34.8px,#d83706 37.3px,#e4450a 39.8px,#f26014 40.8px,#fb7e21 41.8px,#fe932a 42.4px,#fea431 43px,#faba39 43.9px,#f1cb3a 44.8px,#e1dd37 45.8px,#cdec34 46.8px,#b4f836 47.9px,#a4fc3c 52px,#8fff49 54.2px,#79fe59 56.5px,#5dfc6f 58.4px,#46f884 60.4px,#32f298 65.1px,#20eaac 69.7px,#19e2bb 75.6px,#19d5cd 81.4px,#1fc9dd 88.1px,#28bceb 94.8px,#35abf8 102.6px,#3e9bfe 110.4px,#4687fb 124.3px,#467df4 133.6px,#4771e9 137px,#4664da 140.2px,#455ccf 144px,#4559cb 150px,#4454c3 166px,#434eba 186px,#4249b1 207.5px)"></i><i style="left:230px;width:5px;background:linear-gradient(#7a0403 -0.8px,#7a0403 25px,#8e0a01 25.7px,#a11201 26.4px,#b21a01 29px,#ca2a04 34.7px,#d83706 37.2px,#e4450a 39.7px,#f26014 40.7px,#fb7e21 41.7px,#fe932a 42.3px,#fea431 42.9px,#faba39 43.8px,#f1cb3a 44.8px,#e1dd37 45.7px,#cdec34 46.8px,#b4f836 47.9px,#a4fc3c 52px,#8fff49 54.2px,#79fe59 56.4px,#5dfc6f 58.4px,#46f884 60.3px,#32f298 65px,#20eaac 69.7px,#19e2bb 75.5px,#19d5cd 81.3px,#1fc9dd 88.1px,#28bceb 94.8px,#35abf8 102.6px,#3e9bfe 110.4px,#4687fb 124.2px,#467df4 133.6px,#4771e9 137px,#4664da 140.2px,#455ccf 144px,#4559cb 150px,#4454c3 166px,#434eba 186px,#4249b1 207.5px)"></i><i style="left:235px;width:5px;background:linear-gradient(#7a0403 -0.8px,#7a0403 24.8px,#8e0a01 25.5px,#a11201 26.2px,#b21a01 28.8px,#ca2a04 34.5px,#d83706 37.1px,#e4450a 39.7px,#f26014 40.7px,#fb7e21 41.7px,#fe932a 42.3px,#fea431 42.9px,#faba39 43.8px,#f1cb3a 44.8px,#e1dd37 45.7px,#cdec34 46.8px,#b4f836 47.9px,#a4fc3c 51.9px,#8fff49 54.2px,#79fe59 56.4px,#5dfc6f 58.4px,#46f884 60.3px,#32f298 65px,#20eaac 69.7px,#19e2bb 75.5px,#19d5cd 81.3px,#1fc9dd 88.1px,#28bceb 94.8px,#35abf8 102.6px,#3e9bfe 110.4px,#4687fb 124.2px,#467df4 133.6px,#4771e9 137px,#4664da 140.2px,#455ccf 144px,#4559cb 150px,#4454c3 166px,#434eba 186px,#4249b1 207.5px)"></i><i style="left:240px;width:5px;background:linear-gradient(#7a0403 -0.8px,#7a0403 24.3px,#8e0a01 25px,#a11201 25.7px,#b41b01 28.3px,#ca2a04 34.3px,#d83706 37px,#e4450a 39.7px,#f26014 40.7px,#fb7e21 41.7px,#fe932a 42.3px,#fea431 42.9px,#faba39 43.9px,#f1cb3a 44.8px,#e1dd37 45.7px,#cdec34 46.8px,#b4f836 47.9px,#a4fc3c 52px,#8fff49 54.2px,#79fe59 56.4px,#5dfc6f 58.4px,#46f884 60.4px,#32f298 65px,#20eaac 69.7px,#19e2bb 75.5px,#19d5cd 81.4px,#1fc9dd 88.1px,#28bceb 94.8px,#35abf8 102.6px,#3e9bfe 110.4px,#4687fb 124.2px,#467df4 133.6px,#4771e9 137px,#4664da 140.2px,#455ccf 144px,#4559cb 150px,#4454c3 166px,#434eba 186px,#4249b1 207.5px)"></i><i style="left:245px;width:5px;background:linear-gradient(#7a0403 -0.8px,#7a0403 23.9px,#8e0a01 24.6px,#a11201 25.3px,#b41b01 26.6px,#c32503 27.9px,#d83706 34.1px,#e4450a 36.8px,#ed5510 39.6px,#f56918 40.6px,#fb7e21 41.6px,#fe932a 42.2px,#fea431 42.8px,#faba39 43.7px,#f1cb3a 44.7px,#e1dd37 45.6px,#cdec34 46.7px,#b4f836 47.8px,#a4fc3c 51.8px,#8fff49 54.1px,#79fe59 56.3px,#5dfc6f 58.2px,#46f884 60.2px,#32f298 64.9px,#20eaac 69.6px,#19e2bb 75.4px,#19d5cd 81.3px,#1fc9dd 88px,#28bceb 94.8px,#35abf8 102.6px,#3e9bfe 110.4px,#4687fb 124.2px,#467df4 133.6px,#4771e9 137px,#4664da 140.2px,#455ccf 144px,#4559cb 150px,#4454c3 166px,#434eba 186px,#4249b1 207.5px)"></i><i style="left:250px;width:5px;background:linear-gradient(#7a0403 -0.8px,#7a0403 23.7px,#8e0a01 24.4px,#a11201 25.1px,#bc2002 26.4px,#d02f05 27.7px,#e2430a 33.8px,#ec530f 36.5px,#f46617 39.2px,#fb7e21 41.2px,#fe932a 41.8px,#fea431 42.4px,#faba39 43.4px,#f1cb3a 44.3px,#e1dd37 45.2px,#cdec34 46.3px,#b4f836 47.4px,#a4fc3c 51.3px,#8fff49 53.5px,#79fe59 55.8px,#5dfc6f 57.7px,#46f884 59.7px,#32f298 64.4px,#20eaac 69.1px,#19e2bb 75px,#19d5cd 80.9px,#1fc9dd 87.7px,#28bceb 94.5px,#35abf8 102.4px,#3e9bfe 110.3px,#4687fb 124.2px,#467df4 133.6px,#4771e9 137px,#4664da 140.2px,#455ccf 144px,#4559cb 150px,#4454c3 166px,#434eba 186px,#4249b1 207.5px)"></i><i style="left:255px;width:5px;background:linear-gradient(#7a0403 -0.8px,#7a0403 24.1px,#8e0a01 24.8px,#a11201 25.5px,#bc2002 26.8px,#d02f05 28.1px,#e2430a 33.9px,#ec530f 36.6px,#f46617 39.2px,#fb7e21 41.2px,#fe932a 41.8px,#fea431 42.4px,#faba39 43.3px,#f1cb3a 44.3px,#e1dd37 45.2px,#cdec34 46.3px,#b4f836 47.4px,#a4fc3c 51.3px,#8fff49 53.5px,#79fe59 55.7px,#5dfc6f 57.7px,#46f884 59.7px,#32f298 64.4px,#20eaac 69.1px,#19e2bb 75px,#19d5cd 80.9px,#1fc9dd 87.7px,#28bceb 94.5px,#35abf8 102.4px,#3e9bfe 110.3px,#4687fb 124.2px,#467df4 133.6px,#4771e9 137px,#4664da 140.2px,#455ccf 144px,#4559cb 150px,#4454c3 166px,#434eba 186px,#4249b1 207.5px)"></i><i style="left:260px;width:5px;background:linear-gradient(#7a0403 -0.8px,#7a0403 24.4px,#8e0a01 25.1px,#a11201 25.8px,#b71d02 27.1px,#cc2b04 28.4px,#dd3d08 34.3px,#e84b0c 36.9px,#f15d13 39.5px,#fb7e21 41.5px,#fe932a 42.1px,#fea431 42.7px,#faba39 43.6px,#f1cb3a 44.6px,#e1dd37 45.5px,#cdec34 46.6px,#b4f836 47.7px,#a4fc3c 51.7px,#8fff49 53.9px,#79fe59 56.1px,#5dfc6f 58.1px,#46f884 60.1px,#32f298 64.7px,#20eaac 69.4px,#19e2bb 75.3px,#19d5cd 81.2px,#1fc9dd 87.9px,#28bceb 94.7px,#35abf8 102.5px,#3e9bfe 110.4px,#4687fb 124.2px,#467df4 133.6px,#4771e9 137px,#4664da 140.2px,#455ccf 144px,#4559cb 150px,#4454c3 166px,#434eba 186px,#4249b1 207.5px)"></i><i style="left:265px;width:5px;background:linear-gradient(#7a0403 -0.8px,#7a0403 24.8px,#8e0a01 25.5px,#a11201 26.2px,#b41b01 27.5px,#c52603 28.8px,#d83706 34.6px,#e4450a 37.2px,#ed5510 39.8px,#f56918 40.8px,#fb7e21 41.8px,#fe932a 42.4px,#fea431 43px,#faba39 43.9px,#f1cb3a 44.8px,#e1dd37 45.8px,#cdec34 46.8px,#b4f836 47.9px,#a4fc3c 52px,#8fff49 54.2px,#79fe59 56.5px,#5dfc6f 58.4px,#46f884 60.4px,#32f298 65.1px,#20eaac 69.7px,#19e2bb 75.6px,#19d5cd 81.4px,#1fc9dd 88.1px,#28bceb 94.8px,#35abf8 102.6px,#3e9bfe 110.4px,#4687fb 124.3px,#467df4 133.6px,#4771e9 137px,#4664da 140.2px,#455ccf 144px,#4559cb 150px,#4454c3 166px,#434eba 186px,#4249b1 207.5px)"></i><i style="left:270px;width:5px;background:linear-gradient(#7a0403 -0.8px,#7a0403 25.2px,#8e0a01 25.9px,#a11201 26.6px,#be2102 29.2px,#d23105 34.9px,#e14109 37.4px,#eb500e 40px,#f46617 41px,#fb7e21 42px,#fe932a 42.6px,#fea431 43.2px,#faba39 44.1px,#f1cb3a 45px,#e1dd37 46px,#cdec34 47.1px,#b4f836 48.2px,#a4fc3c 52.3px,#8fff49 54.5px,#79fe59 56.8px,#5dfc6f 58.7px,#46f884 60.7px,#32f298 65.3px,#20eaac 70px,#19e2bb 75.8px,#19d5cd 81.6px,#1fc9dd 88.3px,#28bceb 95px,#35abf8 102.7px,#3e9bfe 110.5px,#4687fb 124.3px,#467df4 133.6px,#4771e9 137px,#4664da 140.2px,#455ccf 144px,#4559cb 150px,#4454c3 166px,#434eba 186px,#4249b1 207.5px)"></i><i style="left:275px;width:5px;background:linear-gradient(#7a0403 -0.8px,#7a0403 25.5px,#8e0a01 26.2px,#a11201 26.9px,#b71d02 29.5px,#cc2b04 35.1px,#da3907 37.7px,#e5470b 40.2px,#f26014 41.2px,#fb7e21 42.2px,#fe932a 42.8px,#fea431 43.4px,#faba39 44.3px,#f1cb3a 45.2px,#e1dd37 46.2px,#cdec34 47.2px,#b4f836 48.3px,#a4fc3c 52.6px,#8fff49 54.8px,#79fe59 57px,#5dfc6f 59px,#46f884 60.9px,#32f298 65.6px,#20eaac 70.2px,#19e2bb 76px,#19d5cd 81.8px,#1fc9dd 88.4px,#28bceb 95.1px,#35abf8 102.8px,#3e9bfe 110.5px,#4687fb 124.3px,#467df4 133.6px,#4771e9 137px,#4664da 140.2px,#455ccf 144px,#4559cb 150px,#4454c3 166px,#434eba 186px,#4249b1 207.5px)"></i><i style="left:280px;width:5px;background:linear-gradient(#7a0403 -0.8px,#7a0403 25.9px,#8e0a01 26.6px,#a11201 27.3px,#af1801 29.9px,#c52603 35.5px,#d43305 37.9px,#e14109 40.4px,#ec530f 41.1px,#f56918 41.7px,#fb7e21 42.4px,#fe932a 43px,#fea431 43.6px,#faba39 44.5px,#f1cb3a 45.5px,#e1dd37 46.4px,#cdec34 47.5px,#b4f836 48.6px,#a4fc3c 52.9px,#8fff49 55.1px,#79fe59 57.3px,#5dfc6f 59.3px,#46f884 61.3px,#32f298 65.9px,#20eaac 70.5px,#19e2bb 76.3px,#19d5cd 82px,#1fc9dd 88.6px,#28bceb 95.2px,#35abf8 102.9px,#3e9bfe 110.6px,#4687fb 124.4px,#467df4 133.6px,#4771e9 137px,#4664da 140.2px,#455ccf 144px,#4559cb 150px,#4454c3 166px,#434eba 186px,#4249b1 207.5px)"></i><i style="left:285px;width:5px;background:linear-gradient(#7a0403 -0.8px,#7a0403 26px,#8e0a01 26.7px,#a11201 27.4px,#a71401 30px,#be2102 35.7px,#ce2d04 38.3px,#dc3b07 40.8px,#ea4e0d 41.5px,#f46617 42.1px,#fb7e21 42.8px,#fe932a 43.4px,#fea431 44px,#faba39 44.9px,#f1cb3a 45.9px,#e1dd37 46.8px,#cdec34 47.9px,#b4f836 49px,#a4fc3c 53.5px,#8fff49 55.7px,#79fe59 57.9px,#5dfc6f 59.8px,#46f884 61.8px,#32f298 66.4px,#20eaac 71px,#19e2bb 76.7px,#19d5cd 82.4px,#1fc9dd 88.9px,#28bceb 95.5px,#35abf8 103.1px,#3e9bfe 110.7px,#4687fb 124.4px,#467df4 133.6px,#4771e9 137px,#4664da 140.2px,#455ccf 144px,#4559cb 150px,#4454c3 166px,#434eba 186px,#4249b1 207.5px)"></i><i style="left:290px;width:5px;background:linear-gradient(#7a0403 -0.8px,#7a0403 25.9px,#8e0a01 26.6px,#a11201 27.3px,#a71401 29.9px,#b71d02 35.7px,#c82803 38.3px,#d63506 40.9px,#e7490c 41.6px,#f36315 42.2px,#fb7e21 42.9px,#fe932a 43.5px,#fea431 44.1px,#faba39 45px,#f1cb3a 46px,#e1dd37 46.9px,#cdec34 48px,#b4f836 49.1px,#a4fc3c 53.6px,#8fff49 55.8px,#79fe59 58px,#5dfc6f 60px,#46f884 61.9px,#32f298 66.5px,#20eaac 71.1px,#19e2bb 76.8px,#19d5cd 82.5px,#1fc9dd 89px,#28bceb 95.5px,#35abf8 103.1px,#3e9bfe 110.8px,#4687fb 124.5px,#467df4 133.6px,#4771e9 137px,#4664da 140.2px,#455ccf 144px,#4559cb 150px,#4454c3 166px,#434eba 186px,#4249b1 207.5px)"></i><i style="left:295px;width:5px;background:linear-gradient(#7a0403 -0.8px,#7a0403 25.8px,#8e0a01 26.5px,#a11201 27.2px,#a71401 29.8px,#b71d02 35.6px,#c82803 38.3px,#d63506 40.9px,#e7490c 41.6px,#f36315 42.2px,#fb7e21 42.9px,#fe932a 43.5px,#fea431 44.1px,#faba39 45px,#f1cb3a 46px,#e1dd37 46.9px,#cdec34 48px,#b4f836 49.1px,#a4fc3c 53.6px,#8fff49 55.8px,#79fe59 58px,#5dfc6f 59.9px,#46f884 61.9px,#32f298 66.5px,#20eaac 71.1px,#19e2bb 76.8px,#19d5cd 82.5px,#1fc9dd 89px,#28bceb 95.5px,#35abf8 103.1px,#3e9bfe 110.8px,#4687fb 124.4px,#467df4 133.6px,#4771e9 137px,#4664da 140.2px,#455ccf 144px,#4559cb 150px,#4454c3 166px,#434eba 186px,#4249b1 207.5px)"></i><i style="left:300px;width:5px;background:linear-gradient(#7a0403 -0.8px,#7a0403 25.7px,#8e0a01 26.4px,#a11201 27.1px,#a71401 29.7px,#b91e02 35.5px,#ca2a04 38.1px,#d83706 40.7px,#e84b0c 41.4px,#f36315 42px,#fb7e21 42.7px,#fe932a 43.3px,#fea431 43.9px,#faba39 44.8px,#f1cb3a 45.8px,#e1dd37 46.7px,#cdec34 47.8px,#b4f836 48.9px,#a4fc3c 53.4px,#8fff49 55.6px,#79fe59 57.8px,#5dfc6f 59.7px,#46f884 61.6px,#32f298 66.2px,#20eaac 70.9px,#19e2bb 76.6px,#19d5cd 82.3px,#1fc9dd 88.9px,#28bceb 95.4px,#35abf8 103.1px,#3e9bfe 110.7px,#4687fb 124.4px,#467df4 133.6px,#4771e9 137px,#4664da 140.2px,#455ccf 144px,#4559cb 150px,#4454c3 166px,#434eba 186px,#4249b1 207.5px)"></i><i style="left:305px;width:5px;background:linear-gradient(#7a0403 -0.8px,#7a0403 25.6px,#8e0a01 26.3px,#a11201 27px,#a71401 29.6px,#be2102 35.3px,#ce2d04 37.9px,#dc3b07 40.4px,#ea4e0d 41.1px,#f46617 41.8px,#fb7e21 42.4px,#fe932a 43px,#fea431 43.6px,#faba39 44.6px,#f1cb3a 45.5px,#e1dd37 46.4px,#cdec34 47.6px,#b4f836 48.7px,#a4fc3c 53px,#8fff49 55.2px,#79fe59 57.4px,#5dfc6f 59.3px,#46f884 61.3px,#32f298 65.9px,#20eaac 70.5px,#19e2bb 76.3px,#19d5cd 82.1px,#1fc9dd 88.7px,#28bceb 95.3px,#35abf8 102.9px,#3e9bfe 110.6px,#4687fb 124.4px,#467df4 133.6px,#4771e9 137px,#4664da 140.2px,#455ccf 144px,#4559cb 150px,#4454c3 166px,#434eba 186px,#4249b1 207.5px)"></i><i style="left:310px;width:5px;background:linear-gradient(#7a0403 -0.8px,#7a0403 25.5px,#8e0a01 26.2px,#a11201 26.9px,#a91601 29.5px,#c32503 35.2px,#d23105 37.8px,#df3f08 40.4px,#eb500e 41.1px,#f46617 41.8px,#fb7e21 42.4px,#fe932a 43px,#fea431 43.6px,#faba39 44.6px,#f1cb3a 45.5px,#e1dd37 46.4px,#cdec34 47.5px,#b4f836 48.6px,#a4fc3c 53px,#8fff49 55.2px,#79fe59 57.4px,#5dfc6f 59.3px,#46f884 61.3px,#32f298 65.9px,#20eaac 70.5px,#19e2bb 76.3px,#19d5cd 82px,#1fc9dd 88.6px,#28bceb 95.2px,#35abf8 102.9px,#3e9bfe 110.6px,#4687fb 124.4px,#467df4 133.6px,#4771e9 137px,#4664da 140.2px,#455ccf 144px,#4559cb 150px,#4454c3 166px,#434eba 186px,#4249b1 207.5px)"></i><i style="left:315px;width:5px;background:linear-gradient(#7a0403 -0.8px,#7a0403 25.3px,#8e0a01 26px,#a11201 26.7px,#af1801 29.3px,#c82803 35.2px,#d63506 37.8px,#e2430a 40.4px,#f15d13 41.4px,#fb7e21 42.4px,#fe932a 43px,#fea431 43.6px,#faba39 44.5px,#f1cb3a 45.5px,#e1dd37 46.4px,#cdec34 47.5px,#b4f836 48.6px,#a4fc3c 52.9px,#8fff49 55.1px,#79fe59 57.3px,#5dfc6f 59.3px,#46f884 61.2px,#32f298 65.8px,#20eaac 70.5px,#19e2bb 76.2px,#19d5cd 82px,#1fc9dd 88.6px,#28bceb 95.2px,#35abf8 102.9px,#3e9bfe 110.6px,#4687fb 124.4px,#467df4 133.6px,#4771e9 137px,#4664da 140.2px,#455ccf 144px,#4559cb 150px,#4454c3 166px,#434eba 186px,#4249b1 207.5px)"></i><i style="left:320px;width:5px;background:linear-gradient(#7a0403 -0.8px,#7a0403 25.1px,#8e0a01 25.8px,#a11201 26.5px,#b41b01 29.1px,#cc2b04 34.9px,#da3907 37.5px,#e5470b 40.1px,#f26014 41.1px,#fb7e21 42.1px,#fe932a 42.7px,#fea431 43.3px,#faba39 44.3px,#f1cb3a 45.2px,#e1dd37 46.1px,#cdec34 47.2px,#b4f836 48.3px,#a4fc3c 52.6px,#8fff49 54.8px,#79fe59 57px,#5dfc6f 58.9px,#46f884 60.9px,#32f298 65.5px,#20eaac 70.2px,#19e2bb 76px,#19d5cd 81.8px,#1fc9dd 88.4px,#28bceb 95.1px,#35abf8 102.8px,#3e9bfe 110.5px,#4687fb 124.3px,#467df4 133.6px,#4771e9 137px,#4664da 140.2px,#455ccf 144px,#4559cb 150px,#4454c3 166px,#434eba 186px,#4249b1 207.5px)"></i><i style="left:325px;width:5px;background:linear-gradient(#7a0403 -0.8px,#7a0403 24.9px,#8e0a01 25.6px,#a11201 26.3px,#b91e02 28.9px,#ce2d04 34.7px,#dc3b07 37.4px,#e7490c 40px,#f36315 41px,#fb7e21 42px,#fe932a 42.6px,#fea431 43.2px,#faba39 44.1px,#f1cb3a 45.1px,#e1dd37 46px,#cdec34 47.1px,#b4f836 48.2px,#a4fc3c 52.4px,#8fff49 54.6px,#79fe59 56.8px,#5dfc6f 58.7px,#46f884 60.7px,#32f298 65.4px,#20eaac 70px,#19e2bb 75.8px,#19d5cd 81.6px,#1fc9dd 88.3px,#28bceb 95px,#35abf8 102.7px,#3e9bfe 110.5px,#4687fb 124.3px,#467df4 133.6px,#4771e9 137px,#4664da 140.2px,#455ccf 144px,#4559cb 150px,#4454c3 166px,#434eba 186px,#4249b1 207.5px)"></i><i style="left:330px;width:5px;background:linear-gradient(#7a0403 -0.8px,#7a0403 24.6px,#8e0a01 25.3px,#a11201 26px,#bc2002 28.6px,#d23105 34.5px,#df3f08 37.2px,#ea4e0d 39.8px,#f46617 40.8px,#fb7e21 41.8px,#fe932a 42.4px,#fea431 43px,#faba39 44px,#f1cb3a 44.9px,#e1dd37 45.8px,#cdec34 46.9px,#b4f836 48px,#a4fc3c 52.1px,#8fff49 54.4px,#79fe59 56.6px,#5dfc6f 58.5px,#46f884 60.5px,#32f298 65.2px,#20eaac 69.8px,#19e2bb 75.6px,#19d5cd 81.5px,#1fc9dd 88.2px,#28bceb 94.9px,#35abf8 102.7px,#3e9bfe 110.5px,#4687fb 124.3px,#467df4 133.6px,#4771e9 137px,#4664da 140.2px,#455ccf 144px,#4559cb 150px,#4454c3 166px,#434eba 186px,#4249b1 207.5px)"></i><i style="left:335px;width:5px;background:linear-gradient(#7a0403 -0.8px,#7a0403 24.4px,#8e0a01 25.1px,#a11201 25.8px,#b21a01 27.1px,#c12302 28.4px,#d43305 34.3px,#e14109 37px,#ec530f 39.6px,#f56918 40.6px,#fb7e21 41.6px,#fe932a 42.2px,#fea431 42.8px,#faba39 43.7px,#f1cb3a 44.7px,#e1dd37 45.6px,#cdec34 46.7px,#b4f836 47.8px,#a4fc3c 51.8px,#8fff49 54px,#79fe59 56.3px,#5dfc6f 58.2px,#46f884 60.2px,#32f298 64.9px,#20eaac 69.6px,#19e2bb 75.4px,#19d5cd 81.3px,#1fc9dd 88px,#28bceb 94.8px,#35abf8 102.6px,#3e9bfe 110.4px,#4687fb 124.2px,#467df4 133.6px,#4771e9 137px,#4664da 140.2px,#455ccf 144px,#4559cb 150px,#4454c3 166px,#434eba 186px,#4249b1 207.5px)"></i><i style="left:340px;width:5px;background:linear-gradient(#7a0403 -0.8px,#7a0403 24.1px,#8e0a01 24.8px,#a11201 25.5px,#b41b01 26.8px,#c32503 28.1px,#d83706 34.1px,#e4450a 36.8px,#ed5510 39.4px,#f56918 40.4px,#fb7e21 41.4px,#fe932a 42px,#fea431 42.6px,#faba39 43.6px,#f1cb3a 44.5px,#e1dd37 45.4px,#cdec34 46.5px,#b4f836 47.6px,#a4fc3c 51.6px,#8fff49 53.8px,#79fe59 56px,#5dfc6f 58px,#46f884 60px,#32f298 64.7px,#20eaac 69.3px,#19e2bb 75.2px,#19d5cd 81.1px,#1fc9dd 87.9px,#28bceb 94.7px,#35abf8 102.5px,#3e9bfe 110.3px,#4687fb 124.2px,#467df4 133.6px,#4771e9 137px,#4664da 140.2px,#455ccf 144px,#4559cb 150px,#4454c3 166px,#434eba 186px,#4249b1 207.5px)"></i><i style="left:345px;width:5px;background:linear-gradient(#7a0403 -0.8px,#7a0403 23.9px,#8e0a01 24.6px,#a11201 25.3px,#b71d02 26.6px,#c82803 27.9px,#dc3b07 33.9px,#e7490c 36.6px,#f05b12 39.2px,#f66c19 40.2px,#fb7e21 41.2px,#fe932a 41.8px,#fea431 42.4px,#faba39 43.4px,#f1cb3a 44.3px,#e1dd37 45.2px,#cdec34 46.3px,#b4f836 47.4px,#a4fc3c 51.3px,#8fff49 53.5px,#79fe59 55.8px,#5dfc6f 57.8px,#46f884 59.7px,#32f298 64.4px,#20eaac 69.1px,#19e2bb 75px,#19d5cd 80.9px,#1fc9dd 87.7px,#28bceb 94.5px,#35abf8 102.4px,#3e9bfe 110.3px,#4687fb 124.2px,#467df4 133.6px,#4771e9 137px,#4664da 140.2px,#455ccf 144px,#4559cb 150px,#4454c3 166px,#434eba 186px,#4249b1 207.5px)"></i><i style="left:350px;width:5px;background:linear-gradient(#7a0403 -0.8px,#7a0403 23.6px,#8e0a01 24.3px,#a11201 25px,#b71d02 26.3px,#ca2a04 27.6px,#dd3d08 33.7px,#e84b0c 36.4px,#f15d13 39.1px,#fb7e21 41.1px,#fe932a 41.7px,#fea431 42.3px,#faba39 43.2px,#f1cb3a 44.1px,#e1dd37 45.1px,#cdec34 46.1px,#b4f836 47.2px,#a4fc3c 51.1px,#8fff49 53.3px,#79fe59 55.5px,#5dfc6f 57.5px,#46f884 59.5px,#32f298 64.2px,#20eaac 68.9px,#19e2bb 74.8px,#19d5cd 80.7px,#1fc9dd 87.6px,#28bceb 94.5px,#35abf8 102.3px,#3e9bfe 110.2px,#4687fb 124.1px,#467df4 133.6px,#4771e9 137px,#4664da 140.2px,#455ccf 144px,#4559cb 150px,#4454c3 166px,#434eba 186px,#4249b1 207.5px)"></i><i style="left:355px;width:5px;background:linear-gradient(#7a0403 -0.8px,#7a0403 23.4px,#8e0a01 24.1px,#a11201 24.8px,#b91e02 26.1px,#ce2d04 27.4px,#e14109 33.5px,#eb500e 36.2px,#f36315 38.9px,#fb7e21 40.9px,#fe932a 41.5px,#fea431 42.1px,#faba39 43.1px,#f1cb3a 44px,#e1dd37 44.9px,#cdec34 46px,#b4f836 47.1px,#a4fc3c 50.9px,#8fff49 53.1px,#79fe59 55.4px,#5dfc6f 57.3px,#46f884 59.3px,#32f298 64px,#20eaac 68.8px,#19e2bb 74.7px,#19d5cd 80.6px,#1fc9dd 87.5px,#28bceb 94.4px,#35abf8 102.3px,#3e9bfe 110.2px,#4687fb 124.1px,#467df4 133.6px,#4771e9 137px,#4664da 140.2px,#455ccf 144px,#4559cb 150px,#4454c3 166px,#434eba 186px,#4249b1 207.5px)"></i><i style="left:360px;width:5px;background:linear-gradient(#7a0403 -0.8px,#7a0403 23.3px,#8e0a01 24px,#a11201 24.7px,#bc2002 26px,#d23105 27.3px,#e2430a 33.3px,#ec530f 36.1px,#f46617 38.8px,#fb7e21 40.8px,#fe932a 41.4px,#fea431 42px,#faba39 42.9px,#f1cb3a 43.9px,#e1dd37 44.8px,#cdec34 45.9px,#b4f836 46.9px,#a4fc3c 50.7px,#8fff49 52.9px,#79fe59 55.2px,#5dfc6f 57.2px,#46f884 59.2px,#32f298 63.9px,#20eaac 68.6px,#19e2bb 74.5px,#19d5cd 80.5px,#1fc9dd 87.4px,#28bceb 94.3px,#35abf8 102.2px,#3e9bfe 110.1px,#4687fb 124.1px,#467df4 133.6px,#4771e9 137px,#4664da 140.2px,#455ccf 144px,#4559cb 150px,#4454c3 166px,#434eba 186px,#4249b1 207.5px)"></i><i style="left:365px;width:5px;background:linear-gradient(#7a0403 -0.8px,#7a0403 23.1px,#8e0a01 23.8px,#a11201 24.5px,#be2102 25.8px,#d43305 27.1px,#e5470b 33.2px,#ef5811 36px,#f66c19 38.8px,#fb7e21 40.8px,#fe932a 41.4px,#fea431 42px,#faba39 42.9px,#f1cb3a 43.8px,#e1dd37 44.8px,#cdec34 45.8px,#b4f836 46.9px,#a4fc3c 50.7px,#8fff49 52.9px,#79fe59 55.1px,#5dfc6f 57.1px,#46f884 59.1px,#32f298 63.8px,#20eaac 68.6px,#19e2bb 74.5px,#19d5cd 80.4px,#1fc9dd 87.4px,#28bceb 94.3px,#35abf8 102.2px,#3e9bfe 110.1px,#4687fb 124.1px,#467df4 133.6px,#4771e9 137px,#4664da 140.2px,#455ccf 144px,#4559cb 150px,#4454c3 166px,#434eba 186px,#4249b1 207.5px)"></i><i style="left:370px;width:5px;background:linear-gradient(#7a0403 -0.8px,#7a0403 22.9px,#8e0a01 23.6px,#a11201 24.3px,#be2102 25.6px,#d83706 26.9px,#e7490c 33.1px,#f05b12 36px,#f76f1a 38.8px,#fb7e21 40.8px,#fe932a 41.4px,#fea431 42px,#faba39 42.9px,#f1cb3a 43.8px,#e1dd37 44.8px,#cdec34 45.8px,#b4f836 46.9px,#a4fc3c 50.7px,#8fff49 52.9px,#79fe59 55.1px,#5dfc6f 57.1px,#46f884 59.1px,#32f298 63.8px,#20eaac 68.6px,#19e2bb 74.5px,#19d5cd 80.4px,#1fc9dd 87.4px,#28bceb 94.3px,#35abf8 102.2px,#3e9bfe 110.1px,#4687fb 124.1px,#467df4 133.6px,#4771e9 137px,#4664da 140.2px,#455ccf 144px,#4559cb 150px,#4454c3 166px,#434eba 186px,#4249b1 207.5px)"></i><i style="left:375px;width:5px;background:linear-gradient(#7a0403 -0.8px,#7a0403 22.7px,#8e0a01 23.4px,#a11201 24.1px,#b71d02 25px,#ca2a04 25.9px,#da3907 26.7px,#ea4e0d 33px,#f26014 35.8px,#f9751d 38.6px,#fb7e21 40.6px,#fe932a 41.2px,#fea431 41.8px,#faba39 42.8px,#f1cb3a 43.7px,#e1dd37 44.6px,#cdec34 45.7px,#b4f836 46.8px,#a4fc3c 50.5px,#8fff49 52.7px,#79fe59 55px,#5dfc6f 57px,#46f884 58.9px,#32f298 63.7px,#20eaac 68.4px,#19e2bb 74.4px,#19d5cd 80.3px,#1fc9dd 87.3px,#28bceb 94.2px,#35abf8 102.2px,#3e9bfe 110.1px,#4687fb 124.1px,#467df4 133.6px,#4771e9 137px,#4664da 140.2px,#455ccf 144px,#4559cb 150px,#4454c3 166px,#434eba 186px,#4249b1 207.5px)"></i><i style="left:380px;width:5px;background:linear-gradient(#7a0403 -0.8px,#7a0403 22.6px,#8e0a01 23.3px,#a11201 24px,#b71d02 24.8px,#ca2a04 25.7px,#da3907 26.6px,#ea4e0d 32.8px,#f26014 35.6px,#f9751d 38.4px,#fb7e21 40.4px,#fe932a 41px,#fea431 41.6px,#faba39 42.6px,#f1cb3a 43.5px,#e1dd37 44.4px,#cdec34 45.5px,#b4f836 46.6px,#a4fc3c 50.2px,#8fff49 52.5px,#79fe59 54.7px,#5dfc6f 56.7px,#46f884 58.7px,#32f298 63.4px,#20eaac 68.2px,#19e2bb 74.2px,#19d5cd 80.1px,#1fc9dd 87.1px,#28bceb 94.1px,#35abf8 102.1px,#3e9bfe 110px,#4687fb 124px,#467df4 133.6px,#4771e9 137px,#4664da 140.2px,#455ccf 144px,#4559cb 150px,#4454c3 166px,#434eba 186px,#4249b1 207.5px)"></i><i style="left:385px;width:5px;background:linear-gradient(#7a0403 -0.8px,#7a0403 22.4px,#8e0a01 23.1px,#a11201 23.8px,#b71d02 24.7px,#ca2a04 25.5px,#da3907 26.4px,#ea4e0d 32.7px,#f26014 35.6px,#f9751d 38.4px,#fb7e21 40.4px,#fe932a 41px,#fea431 41.6px,#faba39 42.5px,#f1cb3a 43.5px,#e1dd37 44.4px,#cdec34 45.5px,#b4f836 46.5px,#a4fc3c 50.1px,#8fff49 52.4px,#79fe59 54.6px,#5dfc6f 56.6px,#46f884 58.6px,#32f298 63.4px,#20eaac 68.1px,#19e2bb 74.1px,#19d5cd 80.1px,#1fc9dd 87.1px,#28bceb 94.1px,#35abf8 102px,#3e9bfe 110px,#4687fb 124px,#467df4 133.6px,#4771e9 137px,#4664da 140.2px,#455ccf 144px,#4559cb 150px,#4454c3 166px,#434eba 186px,#4249b1 207.5px)"></i><i style="left:390px;width:5px;background:linear-gradient(#7a0403 -0.8px,#7a0403 22.4px,#8e0a01 23.1px,#a11201 23.8px,#b71d02 24.6px,#cc2b04 25.5px,#dc3b07 26.4px,#ea4e0d 32.7px,#f26014 35.5px,#f9751d 38.4px,#fb7e21 40.4px,#fe932a 41px,#fea431 41.6px,#faba39 42.5px,#f1cb3a 43.5px,#e1dd37 44.4px,#cdec34 45.5px,#b4f836 46.5px,#a4fc3c 50.1px,#8fff49 52.4px,#79fe59 54.6px,#5dfc6f 56.6px,#46f884 58.6px,#32f298 63.4px,#20eaac 68.1px,#19e2bb 74.1px,#19d5cd 80.1px,#1fc9dd 87.1px,#28bceb 94.1px,#35abf8 102px,#3e9bfe 110px,#4687fb 124px,#467df4 133.6px,#4771e9 137px,#4664da 140.2px,#455ccf 144px,#4559cb 150px,#4454c3 166px,#434eba 186px,#4249b1 207.5px)"></i><i style="left:395px;width:5px;background:linear-gradient(#7a0403 -0.8px,#7a0403 22.3px,#8e0a01 23px,#a11201 23.7px,#b71d02 24.6px,#cc2b04 25.5px,#dc3b07 26.3px,#ea4e0d 32.6px,#f26014 35.5px,#f9781e 38.3px,#fb7e21 40.3px,#fe932a 40.9px,#fea431 41.5px,#faba39 42.4px,#f1cb3a 43.4px,#e1dd37 44.3px,#cdec34 45.3px,#b4f836 46.4px,#a4fc3c 50px,#8fff49 52.2px,#79fe59 54.5px,#5dfc6f 56.5px,#46f884 58.5px,#32f298 63.2px,#20eaac 68px,#19e2bb 74px,#19d5cd 80px,#1fc9dd 87px,#28bceb 94px,#35abf8 102px,#3e9bfe 110px,#4687fb 124px,#467df4 133.6px,#4771e9 137px,#4664da 140.2px,#455ccf 144px,#4559cb 150px,#4454c3 166px,#434eba 186px,#4249b1 207.5px)"></i><i style="left:400px;width:5px;background:linear-gradient(#7a0403 -0.8px,#7a0403 22.3px,#8e0a01 23px,#a11201 23.7px,#b91e02 24.6px,#cc2b04 25.4px,#dc3b07 26.3px,#eb500e 32.5px,#f36315 35.3px,#f9781e 38.1px,#fb7e21 40.1px,#fe932a 40.7px,#fea431 41.3px,#faba39 42.2px,#f1cb3a 43.1px,#e1dd37 44.1px,#cdec34 45.1px,#b4f836 46.2px,#a4fc3c 49.7px,#8fff49 52px,#79fe59 54.2px,#5dfc6f 56.2px,#46f884 58.2px,#32f298 63px,#20eaac 67.7px,#19e2bb 73.8px,#19d5cd 79.8px,#1fc9dd 86.8px,#28bceb 93.9px,#35abf8 101.9px,#3e9bfe 109.9px,#4687fb 124px,#467df4 133.6px,#4771e9 137px,#4664da 140.2px,#455ccf 144px,#4559cb 150px,#4454c3 166px,#434eba 186px,#4249b1 207.5px)"></i><i style="left:405px;width:5px;background:linear-gradient(#7a0403 -0.8px,#7a0403 22.3px,#8e0a01 23px,#a11201 23.7px,#b91e02 24.5px,#cc2b04 25.4px,#dc3b07 26.3px,#eb500e 32.5px,#f36315 35.3px,#f9781e 38.1px,#fb7e21 40.1px,#fe932a 40.7px,#fea431 41.3px,#faba39 42.2px,#f1cb3a 43.2px,#e1dd37 44.1px,#cdec34 45.2px,#b4f836 46.2px,#a4fc3c 49.7px,#8fff49 52px,#79fe59 54.2px,#5dfc6f 56.2px,#46f884 58.3px,#32f298 63px,#20eaac 67.8px,#19e2bb 73.8px,#19d5cd 79.8px,#1fc9dd 86.9px,#28bceb 93.9px,#35abf8 101.9px,#3e9bfe 109.9px,#4687fb 124px,#467df4 133.6px,#4771e9 137px,#4664da 140.2px,#455ccf 144px,#4559cb 150px,#4454c3 166px,#434eba 186px,#4249b1 207.5px)"></i><i style="left:410px;width:5px;background:linear-gradient(#7a0403 -0.8px,#7a0403 22.2px,#8e0a01 22.9px,#a11201 23.6px,#b91e02 24.5px,#cc2b04 25.4px,#dc3b07 26.2px,#eb500e 32.5px,#f36315 35.3px,#f9781e 38.1px,#fb7e21 40.1px,#fe932a 40.7px,#fea431 41.3px,#faba39 42.3px,#f1cb3a 43.2px,#e1dd37 44.1px,#cdec34 45.2px,#b4f836 46.2px,#a4fc3c 49.8px,#8fff49 52px,#79fe59 54.3px,#5dfc6f 56.3px,#46f884 58.3px,#32f298 63.1px,#20eaac 67.8px,#19e2bb 73.8px,#19d5cd 79.9px,#1fc9dd 86.9px,#28bceb 93.9px,#35abf8 101.9px,#3e9bfe 110px,#4687fb 124px,#467df4 133.6px,#4771e9 137px,#4664da 140.2px,#455ccf 144px,#4559cb 150px,#4454c3 166px,#434eba 186px,#4249b1 207.5px)"></i><i style="left:415px;width:5px;background:linear-gradient(#7a0403 -0.8px,#7a0403 22.2px,#8e0a01 22.9px,#a11201 23.6px,#b91e02 24.5px,#cc2b04 25.4px,#dd3d08 26.2px,#eb500e 32.5px,#f36315 35.3px,#f9781e 38.2px,#fb7e21 40.2px,#fe932a 40.8px,#fea431 41.4px,#faba39 42.3px,#f1cb3a 43.2px,#e1dd37 44.2px,#cdec34 45.2px,#b4f836 46.3px,#a4fc3c 49.8px,#8fff49 52.1px,#79fe59 54.3px,#5dfc6f 56.3px,#46f884 58.3px,#32f298 63.1px,#20eaac 67.9px,#19e2bb 73.9px,#19d5cd 79.9px,#1fc9dd 86.9px,#28bceb 93.9px,#35abf8 101.9px,#3e9bfe 110px,#4687fb 124px,#467df4 133.6px,#4771e9 137px,#4664da 140.2px,#455ccf 144px,#4559cb 150px,#4454c3 166px,#434eba 186px,#4249b1 207.5px)"></i><i style="left:420px;width:5px;background:linear-gradient(#7a0403 -0.8px,#7a0403 22.2px,#8e0a01 22.9px,#a11201 23.6px,#b91e02 24.5px,#cc2b04 25.3px,#dd3d08 26.2px,#eb500e 32.5px,#f46617 35.4px,#fa7b1f 38.2px,#fb7e21 40.2px,#fe932a 40.8px,#fea431 41.4px,#faba39 42.3px,#f1cb3a 43.3px,#e1dd37 44.2px,#cdec34 45.3px,#b4f836 46.3px,#a4fc3c 49.9px,#8fff49 52.1px,#79fe59 54.4px,#5dfc6f 56.4px,#46f884 58.4px,#32f298 63.1px,#20eaac 67.9px,#19e2bb 73.9px,#19d5cd 79.9px,#1fc9dd 86.9px,#28bceb 94px,#35abf8 102px,#3e9bfe 110px,#4687fb 124px,#467df4 133.6px,#4771e9 137px,#4664da 140.2px,#455ccf 144px,#4559cb 150px,#4454c3 166px,#434eba 186px,#4249b1 207.5px)"></i><i style="left:425px;width:5px;background:linear-gradient(#7a0403 -0.8px,#7a0403 22.2px,#8e0a01 22.9px,#a11201 23.6px,#b91e02 24.5px,#ce2d04 25.3px,#dd3d08 26.2px,#ec530f 32.5px,#f46617 35.4px,#fa7b1f 38.3px,#fb7e21 40.3px,#fe932a 40.9px,#fea431 41.5px,#faba39 42.4px,#f1cb3a 43.3px,#e1dd37 44.3px,#cdec34 45.3px,#b4f836 46.4px,#a4fc3c 49.9px,#8fff49 52.2px,#79fe59 54.4px,#5dfc6f 56.4px,#46f884 58.4px,#32f298 63.2px,#20eaac 67.9px,#19e2bb 74px,#19d5cd 80px,#1fc9dd 87px,#28bceb 94px,#35abf8 102px,#3e9bfe 110px,#4687fb 124px,#467df4 133.6px,#4771e9 137px,#4664da 140.2px,#455ccf 144px,#4559cb 150px,#4454c3 166px,#434eba 186px,#4249b1 207.5px)"></i><i style="left:430px;width:17px;background:linear-gradient(#7a0403 -0.8px,#7a0403 22.2px,#8e0a01 22.9px,#a11201 23.6px,#b91e02 24.5px,#ce2d04 25.3px,#dd3d08 26.2px,#ec530f 32.6px,#f46617 35.4px,#fa7b1f 38.3px,#fb7e21 40.3px,#fe932a 40.9px,#fea431 41.5px,#faba39 42.4px,#f1cb3a 43.4px,#e1dd37 44.3px,#cdec34 45.4px,#b4f836 46.4px,#a4fc3c 50px,#8fff49 52.3px,#79fe59 54.5px,#5dfc6f 56.5px,#46f884 58.5px,#32f298 63.3px,#20eaac 68px,#19e2bb 74px,#19d5cd 80px,#1fc9dd 87px,#28bceb 94px,#35abf8 102px,#3e9bfe 110px,#4687fb 124px,#467df4 133.6px,#4771e9 137px,#4664da 140.2px,#455ccf 144px,#4559cb 150px,#4454c3 166px,#434eba 186px,#4249b1 207.5px)"></i></div></div><div class="hs" style="left:789px;width:190px"><div style="left:-10px;width:210px;filter:url(#hb)"><i style="left:0px;width:15px;background:linear-gradient(#7a0403 -0.8px,#7a0403 21.2px,#8e0a01 21.9px,#a11201 22.6px,#bc2002 23.4px,#d02f05 24.3px,#e2430a 25.2px,#f05b12 31.9px,#f76f1a 34.9px,#fc8423 38px,#fb7e21 40px,#fe932a 40.6px,#fea431 41.2px,#faba39 42.1px,#f1cb3a 43px,#e1dd37 44px,#cdec34 45px,#b4f836 46.1px,#a4fc3c 49.5px,#8fff49 51.8px,#79fe59 54.1px,#5dfc6f 56.1px,#46f884 58.1px,#32f298 62.8px,#20eaac 67.6px,#19e2bb 73.7px,#19d5cd 79.7px,#1fc9dd 86.7px,#28bceb 93.8px,#35abf8 101.9px,#3e9bfe 109.9px,#4687fb 123.9px,#467df4 133.6px,#4771e9 137px,#4664da 140.2px,#455ccf 144px,#4559cb 150px,#4454c3 166px,#434eba 186px,#4249b1 207.5px)"></i><i style="left:15px;width:5px;background:linear-gradient(#7a0403 -0.8px,#7a0403 21.5px,#8e0a01 22.2px,#a11201 22.9px,#bc2002 23.7px,#d02f05 24.6px,#e2430a 25.5px,#ef5811 32px,#f66c19 34.9px,#fc8423 37.9px,#fb7e21 39.9px,#fe932a 40.5px,#fea431 41.1px,#faba39 42px,#f1cb3a 43px,#e1dd37 43.9px,#cdec34 44.9px,#b4f836 46px,#a4fc3c 49.4px,#8fff49 51.7px,#79fe59 53.9px,#5dfc6f 55.9px,#46f884 58px,#32f298 62.7px,#20eaac 67.5px,#19e2bb 73.6px,#19d5cd 79.6px,#1fc9dd 86.7px,#28bceb 93.8px,#35abf8 101.8px,#3e9bfe 109.9px,#4687fb 123.9px,#467df4 133.6px,#4771e9 137px,#4664da 140.2px,#455ccf 144px,#4559cb 150px,#4454c3 166px,#434eba 186px,#4249b1 207.5px)"></i><i style="left:20px;width:5px;background:linear-gradient(#7a0403 -0.8px,#7a0403 21.8px,#8e0a01 22.5px,#a11201 23.2px,#bc2002 24px,#d02f05 24.9px,#e2430a 25.8px,#ef5811 32.3px,#f66c19 35.3px,#fb8122 38.3px,#fb7e21 40.3px,#fe932a 40.9px,#fea431 41.5px,#faba39 42.4px,#f1cb3a 43.3px,#e1dd37 44.3px,#cdec34 45.3px,#b4f836 46.4px,#a4fc3c 50px,#8fff49 52.2px,#79fe59 54.5px,#5dfc6f 56.5px,#46f884 58.5px,#32f298 63.2px,#20eaac 68px,#19e2bb 74px,#19d5cd 80px,#1fc9dd 87px,#28bceb 94px,#35abf8 102px,#3e9bfe 110px,#4687fb 124px,#467df4 133.6px,#4771e9 137px,#4664da 140.2px,#455ccf 144px,#4559cb 150px,#4454c3 166px,#434eba 186px,#4249b1 207.5px)"></i><i style="left:25px;width:5px;background:linear-gradient(#7a0403 -0.8px,#7a0403 22.1px,#8e0a01 22.8px,#a11201 23.5px,#bc2002 24.4px,#d02f05 25.2px,#e2430a 26.1px,#ef5811 32.7px,#f66c19 35.6px,#fb8122 38.6px,#fb7e21 40.6px,#fe932a 41.2px,#fea431 41.8px,#faba39 42.8px,#f1cb3a 43.7px,#e1dd37 44.6px,#cdec34 45.7px,#b4f836 46.7px,#a4fc3c 50.4px,#8fff49 52.7px,#79fe59 54.9px,#5dfc6f 56.9px,#46f884 58.9px,#32f298 63.6px,#20eaac 68.4px,#19e2bb 74.3px,#19d5cd 80.3px,#1fc9dd 87.2px,#28bceb 94.2px,#35abf8 102.1px,#3e9bfe 110.1px,#4687fb 124.1px,#467df4 133.6px,#4771e9 137px,#4664da 140.2px,#455ccf 144px,#4559cb 150px,#4454c3 166px,#434eba 186px,#4249b1 207.5px)"></i><i style="left:30px;width:5px;background:linear-gradient(#7a0403 -0.8px,#7a0403 22.5px,#8e0a01 23.2px,#a11201 23.9px,#bc2002 24.7px,#d02f05 25.6px,#e14109 26.5px,#ef5811 32.8px,#f66c19 35.7px,#fb8122 38.6px,#fb7e21 40.6px,#fe932a 41.2px,#fea431 41.8px,#faba39 42.7px,#f1cb3a 43.6px,#e1dd37 44.6px,#cdec34 45.6px,#b4f836 46.7px,#a4fc3c 50.4px,#8fff49 52.6px,#79fe59 54.9px,#5dfc6f 56.9px,#46f884 58.9px,#32f298 63.6px,#20eaac 68.3px,#19e2bb 74.3px,#19d5cd 80.3px,#1fc9dd 87.2px,#28bceb 94.2px,#35abf8 102.1px,#3e9bfe 110.1px,#4687fb 124px,#467df4 133.6px,#4771e9 137px,#4664da 140.2px,#455ccf 144px,#4559cb 150px,#4454c3 166px,#434eba 186px,#4249b1 207.5px)"></i><i style="left:35px;width:5px;background:linear-gradient(#7a0403 -0.8px,#7a0403 22.8px,#8e0a01 23.5px,#a11201 24.2px,#bc2002 25.1px,#d02f05 26px,#e14109 26.8px,#ef5811 33px,#f66c19 35.8px,#fb8122 38.6px,#fb7e21 40.6px,#fe932a 41.2px,#fea431 41.8px,#faba39 42.8px,#f1cb3a 43.7px,#e1dd37 44.6px,#cdec34 45.7px,#b4f836 46.8px,#a4fc3c 50.5px,#8fff49 52.7px,#79fe59 55px,#5dfc6f 57px,#46f884 58.9px,#32f298 63.7px,#20eaac 68.4px,#19e2bb 74.4px,#19d5cd 80.3px,#1fc9dd 87.3px,#28bceb 94.2px,#35abf8 102.2px,#3e9bfe 110.1px,#4687fb 124.1px,#467df4 133.6px,#4771e9 137px,#4664da 140.2px,#455ccf 144px,#4559cb 150px,#4454c3 166px,#434eba 186px,#4249b1 207.5px)"></i><i style="left:40px;width:5px;background:linear-gradient(#7a0403 -0.8px,#7a0403 23.2px,#8e0a01 23.9px,#a11201 24.6px,#bc2002 25.5px,#d02f05 26.3px,#e14109 27.2px,#ef5811 33.4px,#f66c19 36.2px,#fb8122 39px,#fb7e21 41px,#fe932a 41.6px,#fea431 42.2px,#faba39 43.1px,#f1cb3a 44.1px,#e1dd37 45px,#cdec34 46.1px,#b4f836 47.2px,#a4fc3c 51px,#8fff49 53.2px,#79fe59 55.5px,#5dfc6f 57.4px,#46f884 59.4px,#32f298 64.1px,#20eaac 68.8px,#19e2bb 74.8px,#19d5cd 80.7px,#1fc9dd 87.6px,#28bceb 94.4px,#35abf8 102.3px,#3e9bfe 110.2px,#4687fb 124.1px,#467df4 133.6px,#4771e9 137px,#4664da 140.2px,#455ccf 144px,#4559cb 150px,#4454c3 166px,#434eba 186px,#4249b1 207.5px)"></i><i style="left:45px;width:5px;background:linear-gradient(#7a0403 -0.8px,#7a0403 23.6px,#8e0a01 24.3px,#a11201 25px,#bc2002 25.8px,#d02f05 26.7px,#e14109 27.6px,#ef5811 33.6px,#f66c19 36.4px,#fb8122 39.1px,#fb7e21 41.1px,#fe932a 41.7px,#fea431 42.3px,#faba39 43.2px,#f1cb3a 44.2px,#e1dd37 45.1px,#cdec34 46.2px,#b4f836 47.2px,#a4fc3c 51.1px,#8fff49 53.3px,#79fe59 55.6px,#5dfc6f 57.5px,#46f884 59.5px,#32f298 64.2px,#20eaac 68.9px,#19e2bb 74.8px,#19d5cd 80.8px,#1fc9dd 87.6px,#28bceb 94.5px,#35abf8 102.3px,#3e9bfe 110.2px,#4687fb 124.1px,#467df4 133.6px,#4771e9 137px,#4664da 140.2px,#455ccf 144px,#4559cb 150px,#4454c3 166px,#434eba 186px,#4249b1 207.5px)"></i><i style="left:50px;width:5px;background:linear-gradient(#7a0403 -0.8px,#7a0403 23.9px,#8e0a01 24.6px,#a11201 25.3px,#b91e02 26.2px,#ce2d04 27.1px,#df3f08 27.9px,#ec530f 34px,#f46617 36.7px,#fa7b1f 39.4px,#fb7e21 41.4px,#fe932a 42px,#fea431 42.6px,#faba39 43.6px,#f1cb3a 44.5px,#e1dd37 45.4px,#cdec34 46.5px,#b4f836 47.6px,#a4fc3c 51.6px,#8fff49 53.8px,#79fe59 56px,#5dfc6f 58px,#46f884 60px,#32f298 64.6px,#20eaac 69.3px,#19e2bb 75.2px,#19d5cd 81.1px,#1fc9dd 87.9px,#28bceb 94.7px,#35abf8 102.5px,#3e9bfe 110.3px,#4687fb 124.2px,#467df4 133.6px,#4771e9 137px,#4664da 140.2px,#455ccf 144px,#4559cb 150px,#4454c3 166px,#434eba 186px,#4249b1 207.5px)"></i><i style="left:55px;width:5px;background:linear-gradient(#7a0403 -0.8px,#7a0403 24.3px,#8e0a01 25px,#a11201 25.7px,#c12302 27px,#d83706 28.3px,#e7490c 34.4px,#f05b12 37.1px,#f8721c 39.9px,#fb7e21 41.9px,#fe932a 42.5px,#fea431 43.1px,#faba39 44px,#f1cb3a 44.9px,#e1dd37 45.9px,#cdec34 47px,#b4f836 48px,#a4fc3c 52.2px,#8fff49 54.4px,#79fe59 56.6px,#5dfc6f 58.6px,#46f884 60.5px,#32f298 65.2px,#20eaac 69.8px,#19e2bb 75.7px,#19d5cd 81.5px,#1fc9dd 88.2px,#28bceb 94.9px,#35abf8 102.7px,#3e9bfe 110.5px,#4687fb 124.3px,#467df4 133.6px,#4771e9 137px,#4664da 140.2px,#455ccf 144px,#4559cb 150px,#4454c3 166px,#434eba 186px,#4249b1 207.5px)"></i><i style="left:60px;width:5px;background:linear-gradient(#7a0403 -0.8px,#7a0403 24.6px,#8e0a01 25.3px,#a11201 26px,#bc2002 27.3px,#d02f05 28.6px,#e2430a 34.7px,#ec530f 37.4px,#f46617 40.2px,#fb7e21 42.2px,#fe932a 42.8px,#fea431 43.4px,#faba39 44.3px,#f1cb3a 45.2px,#e1dd37 46.2px,#cdec34 47.3px,#b4f836 48.4px,#a4fc3c 52.6px,#8fff49 54.8px,#79fe59 57px,#5dfc6f 59px,#46f884 60.9px,#32f298 65.6px,#20eaac 70.2px,#19e2bb 76px,#19d5cd 81.8px,#1fc9dd 88.4px,#28bceb 95.1px,#35abf8 102.8px,#3e9bfe 110.6px,#4687fb 124.3px,#467df4 133.6px,#4771e9 137px,#4664da 140.2px,#455ccf 144px,#4559cb 150px,#4454c3 166px,#434eba 186px,#4249b1 207.5px)"></i><i style="left:65px;width:5px;background:linear-gradient(#7a0403 -0.8px,#7a0403 24.8px,#8e0a01 25.5px,#a11201 26.2px,#b71d02 27.5px,#c82803 28.8px,#dc3b07 34.9px,#e7490c 37.6px,#f05b12 40.3px,#f66c19 41.3px,#fb7e21 42.3px,#fe932a 42.9px,#fea431 43.5px,#faba39 44.4px,#f1cb3a 45.4px,#e1dd37 46.3px,#cdec34 47.4px,#b4f836 48.5px,#a4fc3c 52.8px,#8fff49 55px,#79fe59 57.2px,#5dfc6f 59.1px,#46f884 61.1px,#32f298 65.7px,#20eaac 70.3px,#19e2bb 76.1px,#19d5cd 81.9px,#1fc9dd 88.5px,#28bceb 95.2px,#35abf8 102.9px,#3e9bfe 110.6px,#4687fb 124.3px,#467df4 133.6px,#4771e9 137px,#4664da 140.2px,#455ccf 144px,#4559cb 150px,#4454c3 166px,#434eba 186px,#4249b1 207.5px)"></i><i style="left:70px;width:5px;background:linear-gradient(#7a0403 -0.8px,#7a0403 25.1px,#8e0a01 25.8px,#a11201 26.5px,#be2102 29.1px,#d43305 35px,#e14109 37.7px,#eb500e 40.4px,#f46617 41.4px,#fb7e21 42.4px,#fe932a 43px,#fea431 43.6px,#faba39 44.5px,#f1cb3a 45.4px,#e1dd37 46.4px,#cdec34 47.5px,#b4f836 48.6px,#a4fc3c 52.9px,#8fff49 55.1px,#79fe59 57.3px,#5dfc6f 59.2px,#46f884 61.2px,#32f298 65.8px,#20eaac 70.4px,#19e2bb 76.2px,#19d5cd 82px,#1fc9dd 88.6px,#28bceb 95.2px,#35abf8 102.9px,#3e9bfe 110.6px,#4687fb 124.4px,#467df4 133.6px,#4771e9 137px,#4664da 140.2px,#455ccf 144px,#4559cb 150px,#4454c3 166px,#434eba 186px,#4249b1 207.5px)"></i><i style="left:75px;width:5px;background:linear-gradient(#7a0403 -0.8px,#7a0403 25.3px,#8e0a01 26px,#a11201 26.7px,#b71d02 29.3px,#ce2d04 35.2px,#dc3b07 37.8px,#e7490c 40.4px,#f36315 41.4px,#fb7e21 42.4px,#fe932a 43px,#fea431 43.6px,#faba39 44.5px,#f1cb3a 45.5px,#e1dd37 46.4px,#cdec34 47.5px,#b4f836 48.6px,#a4fc3c 52.9px,#8fff49 55.1px,#79fe59 57.3px,#5dfc6f 59.3px,#46f884 61.3px,#32f298 65.9px,#20eaac 70.5px,#19e2bb 76.3px,#19d5cd 82px,#1fc9dd 88.6px,#28bceb 95.2px,#35abf8 102.9px,#3e9bfe 110.6px,#4687fb 124.4px,#467df4 133.6px,#4771e9 137px,#4664da 140.2px,#455ccf 144px,#4559cb 150px,#4454c3 166px,#434eba 186px,#4249b1 207.5px)"></i><i style="left:80px;width:5px;background:linear-gradient(#7a0403 -0.8px,#7a0403 25.6px,#8e0a01 26.3px,#a11201 27px,#b71d02 29.6px,#ce2d04 35.3px,#dc3b07 37.8px,#e7490c 40.4px,#f36315 41.4px,#fb7e21 42.4px,#fe932a 43px,#fea431 43.6px,#faba39 44.5px,#f1cb3a 45.5px,#e1dd37 46.4px,#cdec34 47.5px,#b4f836 48.6px,#a4fc3c 52.9px,#8fff49 55.1px,#79fe59 57.3px,#5dfc6f 59.3px,#46f884 61.2px,#32f298 65.9px,#20eaac 70.5px,#19e2bb 76.2px,#19d5cd 82px,#1fc9dd 88.6px,#28bceb 95.2px,#35abf8 102.9px,#3e9bfe 110.6px,#4687fb 124.4px,#467df4 133.6px,#4771e9 137px,#4664da 140.2px,#455ccf 144px,#4559cb 150px,#4454c3 166px,#434eba 186px,#4249b1 207.5px)"></i><i style="left:85px;width:5px;background:linear-gradient(#7a0403 -0.8px,#7a0403 25.8px,#8e0a01 26.5px,#a11201 27.2px,#b41b01 29.8px,#cc2b04 35.4px,#da3907 37.9px,#e5470b 40.4px,#f26014 41.4px,#fb7e21 42.4px,#fe932a 43px,#fea431 43.6px,#faba39 44.5px,#f1cb3a 45.4px,#e1dd37 46.4px,#cdec34 47.5px,#b4f836 48.6px,#a4fc3c 52.9px,#8fff49 55.1px,#79fe59 57.3px,#5dfc6f 59.2px,#46f884 61.2px,#32f298 65.8px,#20eaac 70.4px,#19e2bb 76.2px,#19d5cd 82px,#1fc9dd 88.6px,#28bceb 95.2px,#35abf8 102.9px,#3e9bfe 110.6px,#4687fb 124.4px,#467df4 133.6px,#4771e9 137px,#4664da 140.2px,#455ccf 144px,#4559cb 150px,#4454c3 166px,#434eba 186px,#4249b1 207.5px)"></i><i style="left:90px;width:5px;background:linear-gradient(#7a0403 -0.8px,#7a0403 26.1px,#8e0a01 26.8px,#a11201 27.5px,#b41b01 30.1px,#ca2a04 35.5px,#d83706 37.9px,#e4450a 40.3px,#f26014 41.3px,#fb7e21 42.3px,#fe932a 42.9px,#fea431 43.5px,#faba39 44.5px,#f1cb3a 45.4px,#e1dd37 46.3px,#cdec34 47.4px,#b4f836 48.5px,#a4fc3c 52.8px,#8fff49 55px,#79fe59 57.2px,#5dfc6f 59.2px,#46f884 61.2px,#32f298 65.8px,#20eaac 70.4px,#19e2bb 76.2px,#19d5cd 81.9px,#1fc9dd 88.6px,#28bceb 95.2px,#35abf8 102.9px,#3e9bfe 110.6px,#4687fb 124.4px,#467df4 133.6px,#4771e9 137px,#4664da 140.2px,#455ccf 144px,#4559cb 150px,#4454c3 166px,#434eba 186px,#4249b1 207.5px)"></i><i style="left:95px;width:5px;background:linear-gradient(#7a0403 -0.8px,#7a0403 25.9px,#8e0a01 26.6px,#a11201 27.3px,#b21a01 29.9px,#ca2a04 35.4px,#d83706 37.8px,#e4450a 40.2px,#f26014 41.2px,#fb7e21 42.2px,#fe932a 42.8px,#fea431 43.4px,#faba39 44.4px,#f1cb3a 45.3px,#e1dd37 46.2px,#cdec34 47.3px,#b4f836 48.4px,#a4fc3c 52.7px,#8fff49 54.9px,#79fe59 57.1px,#5dfc6f 59.1px,#46f884 61px,#32f298 65.6px,#20eaac 70.3px,#19e2bb 76.1px,#19d5cd 81.8px,#1fc9dd 88.5px,#28bceb 95.1px,#35abf8 102.8px,#3e9bfe 110.6px,#4687fb 124.3px,#467df4 133.6px,#4771e9 137px,#4664da 140.2px,#455ccf 144px,#4559cb 150px,#4454c3 166px,#434eba 186px,#4249b1 207.5px)"></i><i style="left:100px;width:5px;background:linear-gradient(#7a0403 -0.8px,#7a0403 25.6px,#8e0a01 26.3px,#a11201 27px,#b21a01 29.6px,#c82803 35.1px,#d63506 37.6px,#e2430a 40px,#f15d13 41px,#fb7e21 42px,#fe932a 42.6px,#fea431 43.2px,#faba39 44.2px,#f1cb3a 45.1px,#e1dd37 46px,#cdec34 47.1px,#b4f836 48.2px,#a4fc3c 52.4px,#8fff49 54.6px,#79fe59 56.8px,#5dfc6f 58.8px,#46f884 60.7px,#32f298 65.4px,#20eaac 70px,#19e2bb 75.8px,#19d5cd 81.6px,#1fc9dd 88.3px,#28bceb 95px,#35abf8 102.8px,#3e9bfe 110.5px,#4687fb 124.3px,#467df4 133.6px,#4771e9 137px,#4664da 140.2px,#455ccf 144px,#4559cb 150px,#4454c3 166px,#434eba 186px,#4249b1 207.5px)"></i><i style="left:105px;width:5px;background:linear-gradient(#7a0403 -0.8px,#7a0403 25.4px,#8e0a01 26.1px,#a11201 26.8px,#af1801 29.4px,#c82803 34.9px,#d63506 37.4px,#e2430a 39.8px,#f15d13 40.8px,#fb7e21 41.8px,#fe932a 42.4px,#fea431 43px,#faba39 43.9px,#f1cb3a 44.9px,#e1dd37 45.8px,#cdec34 46.9px,#b4f836 48px,#a4fc3c 52.1px,#8fff49 54.3px,#79fe59 56.5px,#5dfc6f 58.5px,#46f884 60.5px,#32f298 65.1px,#20eaac 69.8px,#19e2bb 75.6px,#19d5cd 81.4px,#1fc9dd 88.2px,#28bceb 94.9px,#35abf8 102.7px,#3e9bfe 110.4px,#4687fb 124.3px,#467df4 133.6px,#4771e9 137px,#4664da 140.2px,#455ccf 144px,#4559cb 150px,#4454c3 166px,#434eba 186px,#4249b1 207.5px)"></i><i style="left:110px;width:5px;background:linear-gradient(#7a0403 -0.8px,#7a0403 25.1px,#8e0a01 25.8px,#a11201 26.5px,#b21a01 29.1px,#c82803 34.7px,#d63506 37.1px,#e2430a 39.6px,#f15d13 40.6px,#fb7e21 41.6px,#fe932a 42.2px,#fea431 42.8px,#faba39 43.7px,#f1cb3a 44.7px,#e1dd37 45.6px,#cdec34 46.7px,#b4f836 47.8px,#a4fc3c 51.8px,#8fff49 54px,#79fe59 56.3px,#5dfc6f 58.2px,#46f884 60.2px,#32f298 64.9px,#20eaac 69.5px,#19e2bb 75.4px,#19d5cd 81.2px,#1fc9dd 88px,#28bceb 94.8px,#35abf8 102.6px,#3e9bfe 110.4px,#4687fb 124.2px,#467df4 133.6px,#4771e9 137px,#4664da 140.2px,#455ccf 144px,#4559cb 150px,#4454c3 166px,#434eba 186px,#4249b1 207.5px)"></i><i style="left:115px;width:5px;background:linear-gradient(#7a0403 -0.8px,#7a0403 24.9px,#8e0a01 25.6px,#a11201 26.3px,#b71d02 28.9px,#ce2d04 34.4px,#dc3b07 36.9px,#e7490c 39.4px,#f36315 40.4px,#fb7e21 41.4px,#fe932a 42px,#fea431 42.6px,#faba39 43.5px,#f1cb3a 44.5px,#e1dd37 45.4px,#cdec34 46.5px,#b4f836 47.6px,#a4fc3c 51.5px,#8fff49 53.8px,#79fe59 56px,#5dfc6f 58px,#46f884 59.9px,#32f298 64.6px,#20eaac 69.3px,#19e2bb 75.2px,#19d5cd 81.1px,#1fc9dd 87.8px,#28bceb 94.6px,#35abf8 102.5px,#3e9bfe 110.3px,#4687fb 124.2px,#467df4 133.6px,#4771e9 137px,#4664da 140.2px,#455ccf 144px,#4559cb 150px,#4454c3 166px,#434eba 186px,#4249b1 207.5px)"></i><i style="left:120px;width:5px;background:linear-gradient(#7a0403 -0.8px,#7a0403 24.6px,#8e0a01 25.3px,#a11201 26px,#be2102 28.6px,#d43305 34.2px,#e14109 36.7px,#eb500e 39.2px,#f46617 40.2px,#fb7e21 41.2px,#fe932a 41.8px,#fea431 42.4px,#faba39 43.3px,#f1cb3a 44.3px,#e1dd37 45.2px,#cdec34 46.3px,#b4f836 47.4px,#a4fc3c 51.3px,#8fff49 53.5px,#79fe59 55.7px,#5dfc6f 57.7px,#46f884 59.7px,#32f298 64.4px,#20eaac 69.1px,#19e2bb 75px,#19d5cd 80.9px,#1fc9dd 87.7px,#28bceb 94.5px,#35abf8 102.4px,#3e9bfe 110.3px,#4687fb 124.2px,#467df4 133.6px,#4771e9 137px,#4664da 140.2px,#455ccf 144px,#4559cb 150px,#4454c3 166px,#434eba 186px,#4249b1 207.5px)"></i><i style="left:125px;width:5px;background:linear-gradient(#7a0403 -0.8px,#7a0403 24.4px,#8e0a01 25.1px,#a11201 25.8px,#b41b01 27.1px,#c52603 28.4px,#d83706 34px,#e4450a 36.6px,#ed5510 39.1px,#f56918 40.1px,#fb7e21 41.1px,#fe932a 41.7px,#fea431 42.3px,#faba39 43.2px,#f1cb3a 44.2px,#e1dd37 45.1px,#cdec34 46.2px,#b4f836 47.2px,#a4fc3c 51.1px,#8fff49 53.3px,#79fe59 55.6px,#5dfc6f 57.5px,#46f884 59.5px,#32f298 64.2px,#20eaac 68.9px,#19e2bb 74.8px,#19d5cd 80.8px,#1fc9dd 87.6px,#28bceb 94.5px,#35abf8 102.3px,#3e9bfe 110.2px,#4687fb 124.1px,#467df4 133.6px,#4771e9 137px,#4664da 140.2px,#455ccf 144px,#4559cb 150px,#4454c3 166px,#434eba 186px,#4249b1 207.5px)"></i><i style="left:130px;width:5px;background:linear-gradient(#7a0403 -0.8px,#7a0403 24px,#8e0a01 24.7px,#a11201 25.4px,#b71d02 26.7px,#ca2a04 28px,#dd3d08 33.8px,#e84b0c 36.4px,#f15d13 39px,#fb7e21 41px,#fe932a 41.6px,#fea431 42.2px,#faba39 43.1px,#f1cb3a 44px,#e1dd37 45px,#cdec34 46px,#b4f836 47.1px,#a4fc3c 50.9px,#8fff49 53.2px,#79fe59 55.4px,#5dfc6f 57.4px,#46f884 59.4px,#32f298 64.1px,#20eaac 68.8px,#19e2bb 74.7px,#19d5cd 80.6px,#1fc9dd 87.5px,#28bceb 94.4px,#35abf8 102.3px,#3e9bfe 110.2px,#4687fb 124.1px,#467df4 133.6px,#4771e9 137px,#4664da 140.2px,#455ccf 144px,#4559cb 150px,#4454c3 166px,#434eba 186px,#4249b1 207.5px)"></i><i style="left:135px;width:5px;background:linear-gradient(#7a0403 -0.8px,#7a0403 23.6px,#8e0a01 24.3px,#a11201 25px,#bc2002 26.3px,#d02f05 27.6px,#e2430a 33.5px,#ec530f 36.2px,#f46617 38.9px,#fb7e21 40.9px,#fe932a 41.5px,#fea431 42.1px,#faba39 43px,#f1cb3a 43.9px,#e1dd37 44.9px,#cdec34 45.9px,#b4f836 47px,#a4fc3c 50.8px,#8fff49 53px,#79fe59 55.3px,#5dfc6f 57.2px,#46f884 59.2px,#32f298 63.9px,#20eaac 68.7px,#19e2bb 74.6px,#19d5cd 80.5px,#1fc9dd 87.4px,#28bceb 94.3px,#35abf8 102.2px,#3e9bfe 110.2px,#4687fb 124.1px,#467df4 133.6px,#4771e9 137px,#4664da 140.2px,#455ccf 144px,#4559cb 150px,#4454c3 166px,#434eba 186px,#4249b1 207.5px)"></i><i style="left:140px;width:5px;background:linear-gradient(#7a0403 -0.8px,#7a0403 23.3px,#8e0a01 24px,#a11201 24.7px,#be2102 26px,#d63506 27.3px,#e7490c 33.3px,#f05b12 36px,#f76f1a 38.7px,#fb7e21 40.7px,#fe932a 41.3px,#fea431 41.9px,#faba39 42.9px,#f1cb3a 43.8px,#e1dd37 44.7px,#cdec34 45.8px,#b4f836 46.9px,#a4fc3c 50.6px,#8fff49 52.9px,#79fe59 55.1px,#5dfc6f 57.1px,#46f884 59.1px,#32f298 63.8px,#20eaac 68.5px,#19e2bb 74.5px,#19d5cd 80.4px,#1fc9dd 87.3px,#28bceb 94.3px,#35abf8 102.2px,#3e9bfe 110.1px,#4687fb 124.1px,#467df4 133.6px,#4771e9 137px,#4664da 140.2px,#455ccf 144px,#4559cb 150px,#4454c3 166px,#434eba 186px,#4249b1 207.5px)"></i><i style="left:145px;width:5px;background:linear-gradient(#7a0403 -0.8px,#7a0403 22.9px,#8e0a01 23.6px,#a11201 24.3px,#b71d02 25.2px,#cc2b04 26px,#dc3b07 26.9px,#ea4e0d 33.1px,#f26014 35.8px,#f9751d 38.6px,#fb7e21 40.6px,#fe932a 41.2px,#fea431 41.8px,#faba39 42.8px,#f1cb3a 43.7px,#e1dd37 44.6px,#cdec34 45.7px,#b4f836 46.7px,#a4fc3c 50.4px,#8fff49 52.7px,#79fe59 54.9px,#5dfc6f 56.9px,#46f884 58.9px,#32f298 63.6px,#20eaac 68.4px,#19e2bb 74.3px,#19d5cd 80.3px,#1fc9dd 87.2px,#28bceb 94.2px,#35abf8 102.1px,#3e9bfe 110.1px,#4687fb 124.1px,#467df4 133.6px,#4771e9 137px,#4664da 140.2px,#455ccf 144px,#4559cb 150px,#4454c3 166px,#434eba 186px,#4249b1 207.5px)"></i><i style="left:150px;width:5px;background:linear-gradient(#7a0403 -0.8px,#7a0403 22.5px,#8e0a01 23.2px,#a11201 23.9px,#b91e02 24.8px,#ce2d04 25.7px,#df3f08 26.5px,#ec530f 32.8px,#f46617 35.7px,#fa7b1f 38.5px,#fb7e21 40.5px,#fe932a 41.1px,#fea431 41.7px,#faba39 42.6px,#f1cb3a 43.6px,#e1dd37 44.5px,#cdec34 45.6px,#b4f836 46.6px,#a4fc3c 50.3px,#8fff49 52.5px,#79fe59 54.8px,#5dfc6f 56.8px,#46f884 58.8px,#32f298 63.5px,#20eaac 68.2px,#19e2bb 74.2px,#19d5cd 80.2px,#1fc9dd 87.2px,#28bceb 94.1px,#35abf8 102.1px,#3e9bfe 110.1px,#4687fb 124px,#467df4 133.6px,#4771e9 137px,#4664da 140.2px,#455ccf 144px,#4559cb 150px,#4454c3 166px,#434eba 186px,#4249b1 207.5px)"></i><i style="left:155px;width:5px;background:linear-gradient(#7a0403 -0.8px,#7a0403 22.2px,#8e0a01 22.9px,#a11201 23.6px,#b91e02 24.4px,#ce2d04 25.3px,#df3f08 26.2px,#ed5510 32.6px,#f56918 35.5px,#fb7e21 38.3px,#fb7e21 40.3px,#fe932a 40.9px,#fea431 41.5px,#faba39 42.5px,#f1cb3a 43.4px,#e1dd37 44.3px,#cdec34 45.4px,#b4f836 46.5px,#a4fc3c 50.1px,#8fff49 52.3px,#79fe59 54.6px,#5dfc6f 56.6px,#46f884 58.6px,#32f298 63.3px,#20eaac 68.1px,#19e2bb 74.1px,#19d5cd 80px,#1fc9dd 87px,#28bceb 94px,#35abf8 102px,#3e9bfe 110px,#4687fb 124px,#467df4 133.6px,#4771e9 137px,#4664da 140.2px,#455ccf 144px,#4559cb 150px,#4454c3 166px,#434eba 186px,#4249b1 207.5px)"></i><i style="left:160px;width:5px;background:linear-gradient(#7a0403 -0.8px,#7a0403 21.8px,#8e0a01 22.5px,#a11201 23.2px,#b91e02 24.1px,#d02f05 24.9px,#e14109 25.8px,#ed5510 32.3px,#f56918 35.2px,#fb7e21 38.2px,#fb7e21 40.2px,#fe932a 40.8px,#fea431 41.4px,#faba39 42.3px,#f1cb3a 43.2px,#e1dd37 44.2px,#cdec34 45.2px,#b4f836 46.3px,#a4fc3c 49.8px,#8fff49 52.1px,#79fe59 54.3px,#5dfc6f 56.3px,#46f884 58.3px,#32f298 63.1px,#20eaac 67.8px,#19e2bb 73.9px,#19d5cd 79.9px,#1fc9dd 86.9px,#28bceb 93.9px,#35abf8 101.9px,#3e9bfe 110px,#4687fb 124px,#467df4 133.6px,#4771e9 137px,#4664da 140.2px,#455ccf 144px,#4559cb 150px,#4454c3 166px,#434eba 186px,#4249b1 207.5px)"></i><i style="left:165px;width:5px;background:linear-gradient(#7a0403 -0.8px,#7a0403 21.5px,#8e0a01 22.2px,#a11201 22.9px,#bc2002 23.7px,#d02f05 24.6px,#e14109 25.5px,#ef5811 32px,#f66c19 35px,#fb8122 38px,#fb7e21 40px,#fe932a 40.6px,#fea431 41.2px,#faba39 42.1px,#f1cb3a 43.1px,#e1dd37 44px,#cdec34 45px,#b4f836 46.1px,#a4fc3c 49.6px,#8fff49 51.8px,#79fe59 54.1px,#5dfc6f 56.1px,#46f884 58.1px,#32f298 62.9px,#20eaac 67.6px,#19e2bb 73.7px,#19d5cd 79.7px,#1fc9dd 86.8px,#28bceb 93.8px,#35abf8 101.9px,#3e9bfe 109.9px,#4687fb 123.9px,#467df4 133.6px,#4771e9 137px,#4664da 140.2px,#455ccf 144px,#4559cb 150px,#4454c3 166px,#434eba 186px,#4249b1 207.5px)"></i><i style="left:170px;width:5px;background:linear-gradient(#7a0403 -0.8px,#7a0403 21.1px,#8e0a01 21.8px,#a11201 22.5px,#bc2002 23.4px,#d02f05 24.3px,#e2430a 25.1px,#ef5811 31.8px,#f66c19 34.9px,#fb8122 37.9px,#fb7e21 39.9px,#fe932a 40.5px,#fea431 41.1px,#faba39 42.1px,#f1cb3a 43px,#e1dd37 43.9px,#cdec34 45px,#b4f836 46px,#a4fc3c 49.5px,#8fff49 51.8px,#79fe59 54px,#5dfc6f 56px,#46f884 58px,#32f298 62.8px,#20eaac 67.6px,#19e2bb 73.6px,#19d5cd 79.7px,#1fc9dd 86.7px,#28bceb 93.8px,#35abf8 101.8px,#3e9bfe 109.9px,#4687fb 123.9px,#467df4 133.6px,#4771e9 137px,#4664da 140.2px,#455ccf 144px,#4559cb 150px,#4454c3 166px,#434eba 186px,#4249b1 207.5px)"></i><i style="left:175px;width:5px;background:linear-gradient(#7a0403 -0.8px,#7a0403 20.8px,#8e0a01 21.5px,#a11201 22.2px,#bc2002 23.1px,#d23105 24px,#e2430a 24.8px,#f05b12 31.7px,#f76f1a 34.9px,#fc8423 38px,#fb7e21 40px,#fe932a 40.6px,#fea431 41.2px,#faba39 42.1px,#f1cb3a 43.1px,#e1dd37 44px,#cdec34 45px,#b4f836 46.1px,#a4fc3c 49.6px,#8fff49 51.8px,#79fe59 54.1px,#5dfc6f 56.1px,#46f884 58.1px,#32f298 62.9px,#20eaac 67.6px,#19e2bb 73.7px,#19d5cd 79.7px,#1fc9dd 86.8px,#28bceb 93.8px,#35abf8 101.9px,#3e9bfe 109.9px,#4687fb 123.9px,#467df4 133.6px,#4771e9 137px,#4664da 140.2px,#455ccf 144px,#4559cb 150px,#4454c3 166px,#434eba 186px,#4249b1 207.5px)"></i><i style="left:180px;width:5px;background:linear-gradient(#7a0403 -0.8px,#7a0403 20.5px,#8e0a01 21.2px,#a11201 21.9px,#bc2002 22.8px,#d23105 23.6px,#e4450a 24.5px,#f05b12 31.6px,#f76f1a 34.8px,#fc8725 38px,#fb7e21 40px,#fe932a 40.6px,#fea431 41.2px,#faba39 42.2px,#f1cb3a 43.1px,#e1dd37 44px,#cdec34 45.1px,#b4f836 46.1px,#a4fc3c 49.7px,#8fff49 51.9px,#79fe59 54.2px,#5dfc6f 56.2px,#46f884 58.2px,#32f298 62.9px,#20eaac 67.7px,#19e2bb 73.7px,#19d5cd 79.8px,#1fc9dd 86.8px,#28bceb 93.9px,#35abf8 101.9px,#3e9bfe 109.9px,#4687fb 124px,#467df4 133.6px,#4771e9 137px,#4664da 140.2px,#455ccf 144px,#4559cb 150px,#4454c3 166px,#434eba 186px,#4249b1 207.5px)"></i><i style="left:185px;width:5px;background:linear-gradient(#7a0403 -0.8px,#7a0403 20.1px,#8e0a01 20.8px,#a11201 21.5px,#bc2002 22.4px,#d23105 23.3px,#e4450a 24.1px,#f15d13 31.4px,#f8721c 34.7px,#fc8725 38.1px,#fb7e21 40.1px,#fe932a 40.7px,#fea431 41.3px,#faba39 42.2px,#f1cb3a 43.1px,#e1dd37 44.1px,#cdec34 45.1px,#b4f836 46.2px,#a4fc3c 49.7px,#8fff49 51.9px,#79fe59 54.2px,#5dfc6f 56.2px,#46f884 58.2px,#32f298 63px,#20eaac 67.7px,#19e2bb 73.8px,#19d5cd 79.8px,#1fc9dd 86.8px,#28bceb 93.9px,#35abf8 101.9px,#3e9bfe 109.9px,#4687fb 124px,#467df4 133.6px,#4771e9 137px,#4664da 140.2px,#455ccf 144px,#4559cb 150px,#4454c3 166px,#434eba 186px,#4249b1 207.5px)"></i><i style="left:190px;width:5px;background:linear-gradient(#7a0403 -0.8px,#7a0403 19.5px,#8e0a01 20.2px,#a11201 20.9px,#bc2002 21.7px,#d43305 22.6px,#e5470b 23.5px,#f15d13 31.1px,#f9751d 34.6px,#fd8a26 38.1px,#fb7e21 40.1px,#fe932a 40.7px,#fea431 41.3px,#faba39 42.2px,#f1cb3a 43.2px,#e1dd37 44.1px,#cdec34 45.1px,#b4f836 46.2px,#a4fc3c 49.7px,#8fff49 52px,#79fe59 54.2px,#5dfc6f 56.2px,#46f884 58.2px,#32f298 63px,#20eaac 67.7px,#19e2bb 73.8px,#19d5cd 79.8px,#1fc9dd 86.8px,#28bceb 93.9px,#35abf8 101.9px,#3e9bfe 109.9px,#4687fb 124px,#467df4 133.6px,#4771e9 137px,#4664da 140.2px,#455ccf 144px,#4559cb 150px,#4454c3 166px,#434eba 186px,#4249b1 207.5px)"></i><i style="left:195px;width:15px;background:linear-gradient(#7a0403 -0.8px,#7a0403 18.8px,#8e0a01 19.5px,#a11201 20.2px,#be2102 21.1px,#d43305 22px,#e5470b 22.8px,#f26014 30.8px,#f9751d 34.4px,#fd8a26 38.1px,#fb7e21 40.1px,#fe932a 40.7px,#fea431 41.3px,#faba39 42.2px,#f1cb3a 43.2px,#e1dd37 44.1px,#cdec34 45.1px,#b4f836 46.2px,#a4fc3c 49.7px,#8fff49 52px,#79fe59 54.2px,#5dfc6f 56.2px,#46f884 58.2px,#32f298 63px,#20eaac 67.8px,#19e2bb 73.8px,#19d5cd 79.8px,#1fc9dd 86.8px,#28bceb 93.9px,#35abf8 101.9px,#3e9bfe 109.9px,#4687fb 124px,#467df4 133.6px,#4771e9 137px,#4664da 140.2px,#455ccf 144px,#4559cb 150px,#4454c3 166px,#434eba 186px,#4249b1 207.5px)"></i></div></div><i style="left:760px;width:1px;background:linear-gradient(#fe932a -0.8px,#fea431 17.6px,#f6c33a 19.2px,#e1dd37 20.8px,#c3f134 22.4px,#a4fc3c 24px,#79fe59 25.6px,#4af880 32.6px,#32f298 38.3px,#32f298 40.3px,#20eaac 41.5px,#19d5cd 44.3px,#23c3e4 46.4px,#28bceb 50px,#35abf8 54.5px,#3e9bfe 58.5px,#458afc 68px,#477bf2 80px,#466be3 94px,#4559cb 110px,#434eba 124px,#4249b1 133.6px,#4143a7 137px,#3f3b97 140.2px,#3e3891 144px,#3d358b 150px,#3c3286 166px,#3b2f80 186px,#3a2d79 207.5px)"></i><i style="left:788px;width:1px;background:linear-gradient(#eecf3a -0.8px,#e1dd37 16.5px,#c3f134 19.2px,#a4fc3c 21.9px,#79fe59 24.5px,#46f884 31.9px,#2ff19b 38px,#32f298 40px,#20eaac 41.2px,#19d5cd 44px,#23c3e4 46.1px,#28bceb 49.6px,#35abf8 54.1px,#3e9bfe 58.1px,#458afc 67.6px,#477bf2 79.7px,#466be3 93.8px,#4559cb 109.9px,#434eba 123.9px,#4249b1 133.6px,#4143a7 137px,#3f3b97 140.2px,#3e3891 144px,#3d358b 150px,#3c3286 166px,#3b2f80 186px,#3a2d79 207.5px)"></i><i style="left:979px;width:1px;background:linear-gradient(#80ff53 -0.8px,#69fd66 14.2px,#4ef97d 22.2px,#43f787 30.7px,#2cf09e 38.1px,#32f298 40.1px,#20eaac 41.3px,#19d5cd 44.1px,#23c3e4 46.2px,#28bceb 49.7px,#35abf8 54.2px,#3e9bfe 58.2px,#458afc 67.8px,#477bf2 79.8px,#466be3 93.9px,#4559cb 109.9px,#434eba 124px,#4249b1 133.6px,#4143a7 137px,#3f3b97 140.2px,#3e3891 144px,#3d358b 150px,#3c3286 166px,#3b2f80 186px,#3a2d79 207.5px)"></i><i style="left:761px;width:27px;background:#30123b"></i><i style="left:980px;width:18px;background:linear-gradient(rgba(48,18,59,0) 0,rgba(50,24,84,.72) 12px,#30123b 26px,#38256a 36px,#30123b 48px),linear-gradient(90deg,#3a3890,#4a6ce0)"></i><i style="left:997px;width:1px;background:linear-gradient(#4a6ce0,#3c358b 70px,#30123b 140px)"></i><i style="left:786px;width:2px;top:70px;height:8px;border-radius:1px;background:#4458cb"></i></div>
<div class="hm" style="top:274px"><svg width="0" height="0" style="position:absolute"><filter id="hv" x="0" y="0" width="1" height="1" color-interpolation-filters="sRGB"><feGaussianBlur stdDeviation="6 0"/></filter></svg><div class="hs" style="left:333px;width:427px"><div style="left:-20px;width:467px;filter:url(#hv)"><i style="left:0px;width:30px;background:linear-gradient(#ff2121 -0.5px,#ff3131 2.8px,#ff9999 4.6px,#ffd9d9 6px,#ffe9e9 9.7px,#ffbdbd 12px,#ff9595 17.5px,#ffb5b5 19.5px,#fffdfd 21px,#d9d9ff 22.5px,#fffdfd 24px,#ffb5b5 26.3px,#fffdfd 28.3px,#b5b5ff 29.5px,#4d4dff 31.5px,#a5a5ff 33.5px,#f1f1ff 35px,#f9f9ff 37px,#e1e1ff 40px,#d5d5ff 44px,#e1e1ff 47.6px,#f1f1ff 49.5px,#e1e1ff 52.6px,#e5e5ff 55px,#f9f9ff 57px,#f1f1ff 59px,#d9d9ff 61.5px,#ddddff 64px,#ddddff 66px,#c5c5ff 70.4px,#d1d1ff 73px,#ddddff 75px,#e1e1ff 79.2px,#d5d5ff 83.6px,#e1e1ff 88px,#e1e1ff 92.4px,#ddddff 96.9px,#e1e1ff 101.3px,#e1e1ff 106px,#e9e9ff 116px,#ededff 126px,#f1f1ff 136px,#f9f9ff 146px,#f9f9ff 161px,#fdfdff 207.5px)"></i><i style="left:30px;width:10px;background:linear-gradient(#ff2525 -0.5px,#ff3535 2.8px,#ff9d9d 4.6px,#ffd9d9 6px,#ffe9e9 9.7px,#ffbdbd 12px,#ff9999 17.5px,#ffb9b9 19.5px,#fffdfd 21px,#ddddff 22.5px,#fffdfd 24px,#ffb5b5 26.3px,#fffdfd 28.3px,#b5b5ff 29.5px,#5555ff 31.5px,#a9a9ff 33.5px,#f1f1ff 35px,#f9f9ff 37px,#e1e1ff 40px,#d5d5ff 44px,#e1e1ff 47.6px,#f1f1ff 49.5px,#e1e1ff 52.6px,#e5e5ff 55px,#f9f9ff 57px,#f1f1ff 59px,#d9d9ff 61.5px,#ddddff 64px,#ddddff 66px,#c9c9ff 70.4px,#d1d1ff 73px,#ddddff 75px,#e5e5ff 79.2px,#d5d5ff 83.6px,#e5e5ff 88px,#e5e5ff 92.4px,#ddddff 96.9px,#e1e1ff 101.3px,#e5e5ff 106px,#e9e9ff 116px,#ededff 126px,#f1f1ff 136px,#f9f9ff 146px,#f9f9ff 161px,#fdfdff 207.5px)"></i><i style="left:40px;width:10px;background:linear-gradient(#ff2d2d -0.5px,#ff3d3d 2.8px,#ff9d9d 4.6px,#ffd9d9 6px,#ffe9e9 9.7px,#ffc1c1 12px,#ff9d9d 17.5px,#ffb9b9 19.5px,#fffdfd 21px,#ddddff 22.5px,#fffdfd 24px,#ffb9b9 26.3px,#fffdfd 28.3px,#b9b9ff 29.5px,#5d5dff 31.5px,#adadff 33.5px,#f5f5ff 35px,#f9f9ff 37px,#e1e1ff 40px,#d5d5ff 44px,#e1e1ff 47.6px,#f1f1ff 49.5px,#e1e1ff 52.6px,#e5e5ff 55px,#f9f9ff 57px,#f1f1ff 59px,#d9d9ff 61.5px,#ddddff 64px,#ddddff 66px,#c9c9ff 70.4px,#d1d1ff 73px,#ddddff 75px,#e5e5ff 79.2px,#d5d5ff 83.6px,#e5e5ff 88px,#e5e5ff 92.4px,#ddddff 96.9px,#e1e1ff 101.3px,#e5e5ff 106px,#e9e9ff 116px,#ededff 126px,#f1f1ff 136px,#f9f9ff 146px,#f9f9ff 161px,#fdfdff 207.5px)"></i><i style="left:50px;width:15px;background:linear-gradient(#ff3535 -0.5px,#ff4545 2.8px,#ffa1a1 4.6px,#ffd9d9 6px,#ffe5e5 9.7px,#ffc1c1 12px,#ff9d9d 17.5px,#ffbdbd 19.5px,#fffdfd 21px,#e1e1ff 22.5px,#fffdfd 24px,#ffbdbd 26.3px,#fffdfd 28.3px,#c1c1ff 29.5px,#6969ff 31.5px,#b5b5ff 33.5px,#f5f5ff 35px,#f9f9ff 37px,#e5e5ff 40px,#d9d9ff 44px,#e5e5ff 47.6px,#f5f5ff 49.5px,#e1e1ff 52.6px,#e9e9ff 55px,#f9f9ff 57px,#f1f1ff 59px,#ddddff 61.5px,#ddddff 66px,#c9c9ff 70.4px,#d1d1ff 73px,#ddddff 75px,#e5e5ff 79.2px,#d9d9ff 83.6px,#e5e5ff 88px,#e5e5ff 92.4px,#ddddff 96.9px,#e1e1ff 101.3px,#e5e5ff 106px,#e9e9ff 116px,#ededff 126px,#f1f1ff 136px,#f9f9ff 146px,#f9f9ff 161px,#fdfdff 207.5px)"></i><i style="left:65px;width:15px;background:linear-gradient(#ff4141 -0.5px,#ff5151 2.8px,#ffa5a5 4.6px,#ffd9d9 6px,#ffe5e5 9.7px,#ffc5c5 12px,#ffa1a1 17.5px,#ffc1c1 19.5px,#fffdfd 21px,#e5e5ff 22.5px,#fffdfd 24px,#ffc1c1 26.3px,#fffdfd 28.3px,#c5c5ff 29.5px,#7575ff 31.5px,#b9b9ff 33.5px,#f5f5ff 35px,#f9f9ff 37px,#e5e5ff 40px,#d9d9ff 44px,#e5e5ff 47.6px,#f5f5ff 49.5px,#e5e5ff 52.6px,#e9e9ff 55px,#f9f9ff 57px,#f1f1ff 59px,#ddddff 61.5px,#e1e1ff 64px,#ddddff 66px,#c9c9ff 70.4px,#d1d1ff 73px,#e1e1ff 75px,#e5e5ff 79.2px,#d9d9ff 83.6px,#e5e5ff 88px,#e5e5ff 92.4px,#ddddff 96.9px,#e1e1ff 101.3px,#e5e5ff 106px,#e9e9ff 116px,#ededff 126px,#f1f1ff 136px,#f9f9ff 146px,#f9f9ff 161px,#fdfdff 207.5px)"></i><i style="left:80px;width:15px;background:linear-gradient(#ff4949 -0.5px,#ff5959 2.8px,#ffa9a9 4.6px,#ffd9d9 6px,#ffe5e5 9.7px,#ffc5c5 12px,#ffa5a5 17.5px,#ffc1c1 19.5px,#fffdfd 21px,#e9e9ff 22.5px,#fffdfd 24px,#ffc5c5 26.3px,#fffdfd 28.3px,#c9c9ff 29.5px,#7d7dff 31.5px,#c1c1ff 33.5px,#f5f5ff 35px,#f9f9ff 37px,#e5e5ff 40px,#ddddff 44px,#e5e5ff 47.6px,#f5f5ff 49.5px,#e5e5ff 52.6px,#e9e9ff 55px,#f9f9ff 57px,#f1f1ff 59px,#ddddff 61.5px,#e1e1ff 64px,#ddddff 66px,#c9c9ff 70.4px,#d1d1ff 73px,#e1e1ff 75px,#e5e5ff 79.2px,#d9d9ff 83.6px,#e5e5ff 88px,#e5e5ff 92.4px,#ddddff 96.9px,#e1e1ff 101.3px,#e5e5ff 106px,#e9e9ff 116px,#ededff 126px,#f5f5ff 136px,#f9f9ff 146px,#f9f9ff 161px,#fdfdff 207.5px)"></i><i style="left:95px;width:20px;background:linear-gradient(#ff5555 -0.5px,#ff6565 2.8px,#ffadad 4.6px,#ffd9d9 6px,#ffe5e5 9.7px,#ffc9c9 12px,#ffa9a9 17.5px,#ffc5c5 19.5px,#fffdfd 21px,#ededff 22.5px,#fffdfd 24px,#ffc9c9 26.3px,#fffdfd 28.3px,#cdcdff 29.5px,#8989ff 31.5px,#c9c9ff 33.5px,#f5f5ff 35px,#f9f9ff 37px,#e5e5ff 40px,#ddddff 44px,#e9e9ff 47.6px,#f5f5ff 49.5px,#e5e5ff 52.6px,#e9e9ff 55px,#f9f9ff 57px,#f1f1ff 59px,#e1e1ff 61.5px,#e1e1ff 64px,#ddddff 66px,#c9c9ff 70.4px,#d5d5ff 73px,#e1e1ff 75px,#e5e5ff 79.2px,#d9d9ff 83.6px,#e5e5ff 88px,#e5e5ff 92.4px,#ddddff 96.9px,#e1e1ff 101.3px,#e5e5ff 106px,#e9e9ff 116px,#ededff 126px,#f5f5ff 136px,#f9f9ff 146px,#f9f9ff 161px,#fdfdff 207.5px)"></i><i style="left:115px;width:20px;background:linear-gradient(#ff5d5d -0.5px,#ff6d6d 2.8px,#ffb1b1 4.6px,#ffd9d9 6px,#ffe5e5 9.7px,#ffcdcd 12px,#ffadad 17.5px,#ffc9c9 19.5px,#fffdfd 21px,#f1f1ff 22.5px,#fffdfd 24px,#ffcdcd 26.3px,#fffdfd 28.3px,#d5d5ff 29.5px,#9595ff 31.5px,#cdcdff 33.5px,#f5f5ff 35px,#f9f9ff 37px,#e9e9ff 40px,#e1e1ff 44px,#e9e9ff 47.6px,#f5f5ff 49.5px,#e5e5ff 52.6px,#ededff 55px,#f9f9ff 57px,#f1f1ff 59px,#e1e1ff 61.5px,#e5e5ff 64px,#e1e1ff 66px,#cdcdff 70.4px,#d5d5ff 73px,#e1e1ff 75px,#e5e5ff 79.2px,#d9d9ff 83.6px,#e5e5ff 88px,#e5e5ff 92.4px,#e1e1ff 96.9px,#e1e1ff 101.3px,#e5e5ff 106px,#e9e9ff 116px,#ededff 126px,#f5f5ff 136px,#f9f9ff 146px,#f9f9ff 161px,#fdfdff 207.5px)"></i><i style="left:135px;width:20px;background:linear-gradient(#ff6565 -0.5px,#ff7575 2.8px,#ffb5b5 4.6px,#ffd9d9 6px,#ffe5e5 9.7px,#ffcdcd 12px,#ffb1b1 17.5px,#ffcdcd 19.5px,#fffdfd 21px,#f1f1ff 22.5px,#fffdfd 24px,#ffd1d1 26.3px,#fffdfd 28.3px,#d9d9ff 29.5px,#a1a1ff 31.5px,#d1d1ff 33.5px,#f9f9ff 35px,#f9f9ff 37px,#e9e9ff 40px,#e1e1ff 44px,#e9e9ff 47.6px,#f5f5ff 49.5px,#e5e5ff 52.6px,#ededff 55px,#f9f9ff 57px,#f1f1ff 59px,#e1e1ff 61.5px,#e5e5ff 64px,#e1e1ff 66px,#cdcdff 70.4px,#d5d5ff 73px,#e1e1ff 75px,#e5e5ff 79.2px,#d9d9ff 83.6px,#e5e5ff 88px,#e5e5ff 92.4px,#e1e1ff 96.9px,#e1e1ff 101.3px,#e5e5ff 106px,#e9e9ff 116px,#ededff 126px,#f5f5ff 136px,#f9f9ff 146px,#f9f9ff 161px,#fdfdff 207.5px)"></i><i style="left:155px;width:30px;background:linear-gradient(#ff6d6d -0.5px,#ff7d7d 2.8px,#ffb5b5 4.6px,#ffd9d9 6px,#ffe5e5 9.7px,#ffcdcd 12px,#ffb1b1 17.5px,#ffcdcd 19.5px,#fffdfd 21px,#f5f5ff 22.5px,#fffdfd 24px,#ffd1d1 26.3px,#fffdfd 28.3px,#ddddff 29.5px,#a5a5ff 31.5px,#d5d5ff 33.5px,#f9f9ff 35px,#f9f9ff 37px,#e9e9ff 40px,#e1e1ff 44px,#ededff 47.6px,#f5f5ff 49.5px,#e9e9ff 52.6px,#ededff 55px,#f9f9ff 57px,#f5f5ff 59px,#e5e5ff 61.5px,#e5e5ff 64px,#e1e1ff 66px,#cdcdff 70.4px,#d5d5ff 73px,#e1e1ff 75px,#e5e5ff 79.2px,#d9d9ff 83.6px,#e5e5ff 88px,#e5e5ff 92.4px,#e1e1ff 96.9px,#e1e1ff 101.3px,#e5e5ff 106px,#e9e9ff 116px,#ededff 126px,#f5f5ff 136px,#f9f9ff 146px,#f9f9ff 161px,#fdfdff 207.5px)"></i><i style="left:185px;width:30px;background:linear-gradient(#ff7171 -0.5px,#ff8585 2.8px,#ffb9b9 4.6px,#ffd9d9 6px,#ffe5e5 9.7px,#ffd1d1 12px,#ffb5b5 17.5px,#ffd1d1 19.5px,#fffdfd 21px,#f5f5ff 22.5px,#fffdfd 24px,#ffd5d5 26.3px,#fffdfd 28.3px,#e1e1ff 29.5px,#adadff 31.5px,#d9d9ff 33.5px,#f9f9ff 35px,#f9f9ff 37px,#e9e9ff 40px,#e5e5ff 44px,#ededff 47.6px,#f5f5ff 49.5px,#e9e9ff 52.6px,#ededff 55px,#f9f9ff 57px,#f5f5ff 59px,#e5e5ff 61.5px,#e5e5ff 64px,#e1e1ff 66px,#cdcdff 70.4px,#d5d5ff 73px,#e1e1ff 75px,#e5e5ff 79.2px,#d9d9ff 83.6px,#e5e5ff 88px,#e5e5ff 92.4px,#e1e1ff 96.9px,#e1e1ff 101.3px,#e5e5ff 106px,#e9e9ff 116px,#f1f1ff 126px,#f5f5ff 136px,#f9f9ff 146px,#f9f9ff 161px,#fdfdff 207.5px)"></i><i style="left:215px;width:30px;background:linear-gradient(#ff7979 -0.5px,#ff8989 2.8px,#ffb9b9 4.6px,#ffd9d9 6px,#ffe5e5 9.7px,#ffd1d1 12px,#ffb9b9 17.5px,#ffd1d1 19.5px,#fff9f9 21px,#f9f9ff 22.5px,#fff9f9 24px,#ffd9d9 26.3px,#fffdfd 28.3px,#e1e1ff 29.5px,#b5b5ff 31.5px,#ddddff 33.5px,#f9f9ff 35px,#f9f9ff 37px,#e9e9ff 40px,#e5e5ff 44px,#ededff 47.6px,#f5f5ff 49.5px,#e9e9ff 52.6px,#ededff 55px,#f9f9ff 57px,#f5f5ff 59px,#e5e5ff 61.5px,#e9e9ff 64px,#e1e1ff 66px,#cdcdff 70.4px,#d5d5ff 73px,#e1e1ff 75px,#e5e5ff 79.2px,#d9d9ff 83.6px,#e5e5ff 88px,#e5e5ff 92.4px,#e1e1ff 96.9px,#e1e1ff 101.3px,#e5e5ff 106px,#e9e9ff 116px,#f1f1ff 126px,#f5f5ff 136px,#f9f9ff 146px,#f9f9ff 161px,#fdfdff 207.5px)"></i><i style="left:245px;width:40px;background:linear-gradient(#ff8181 -0.5px,#ff9191 2.8px,#ffbdbd 4.6px,#ffd9d9 6px,#ffe5e5 9.7px,#ffd5d5 12px,#ffb9b9 17.5px,#ffd5d5 19.5px,#fff9f9 21px,#f9f9ff 22.5px,#fff9f9 24px,#ffdddd 26.3px,#fffdfd 28.3px,#e5e5ff 29.5px,#bdbdff 31.5px,#e1e1ff 33.5px,#f9f9ff 35px,#f9f9ff 37px,#ededff 40px,#e5e5ff 44px,#ededff 47.6px,#f5f5ff 49.5px,#e9e9ff 52.6px,#ededff 55px,#f9f9ff 57px,#f5f5ff 59px,#e5e5ff 61.5px,#e9e9ff 64px,#e1e1ff 66px,#cdcdff 70.4px,#d5d5ff 73px,#e1e1ff 75px,#e5e5ff 79.2px,#d9d9ff 83.6px,#e5e5ff 88px,#e5e5ff 92.4px,#e1e1ff 96.9px,#e1e1ff 101.3px,#e5e5ff 106px,#e9e9ff 116px,#f1f1ff 126px,#f5f5ff 136px,#f9f9ff 146px,#f9f9ff 161px,#fdfdff 207.5px)"></i><i style="left:285px;width:40px;background:linear-gradient(#ff8989 -0.5px,#ff9999 2.8px,#ffc1c1 4.6px,#ffdddd 6px,#ffe5e5 9.7px,#ffd5d5 12px,#ffbdbd 17.5px,#ffd9d9 19.5px,#fff9f9 21px,#fdfdff 22.5px,#fff9f9 24px,#ffdddd 26.3px,#fffdfd 28.3px,#e9e9ff 29.5px,#c5c5ff 31.5px,#e9e9ff 33.5px,#f9f9ff 35px,#f9f9ff 37px,#ededff 40px,#e9e9ff 44px,#f1f1ff 47.6px,#f9f9ff 49.5px,#e9e9ff 52.6px,#f1f1ff 55px,#f9f9ff 57px,#f5f5ff 59px,#e9e9ff 61.5px,#e9e9ff 64px,#e1e1ff 66px,#cdcdff 70.4px,#d5d5ff 73px,#e1e1ff 75px,#e5e5ff 79.2px,#d9d9ff 83.6px,#e5e5ff 88px,#e5e5ff 92.4px,#e1e1ff 96.9px,#e1e1ff 101.3px,#e5e5ff 106px,#e9e9ff 116px,#f1f1ff 126px,#f5f5ff 136px,#f9f9ff 146px,#f9f9ff 161px,#fdfdff 207.5px)"></i><i style="left:325px;width:60px;background:linear-gradient(#ff8d8d -0.5px,#ffa1a1 2.8px,#ffc1c1 4.6px,#ffdddd 6px,#ffe1e1 9.7px,#ffd5d5 12px,#ffc1c1 17.5px,#ffd9d9 19.5px,#fff9f9 21px,#fffdfd 22.5px,#fff9f9 24px,#ffe1e1 26.3px,#fffdfd 28.3px,#ededff 29.5px,#cdcdff 31.5px,#ededff 33.5px,#f9f9ff 35px,#f9f9ff 37px,#ededff 40px,#e9e9ff 44px,#f1f1ff 47.6px,#f9f9ff 49.5px,#e9e9ff 52.6px,#f1f1ff 55px,#f9f9ff 57px,#f5f5ff 59px,#e9e9ff 61.5px,#e9e9ff 64px,#e1e1ff 66px,#cdcdff 70.4px,#d5d5ff 73px,#e1e1ff 75px,#e5e5ff 79.2px,#ddddff 83.6px,#e5e5ff 88px,#e5e5ff 92.4px,#e1e1ff 96.9px,#e1e1ff 101.3px,#e5e5ff 106px,#e9e9ff 116px,#f1f1ff 126px,#f5f5ff 136px,#f9f9ff 146px,#f9f9ff 161px,#fdfdff 207.5px)"></i><i style="left:385px;width:82px;background:linear-gradient(#ff9191 -0.5px,#ffa1a1 2.8px,#ffc5c5 4.6px,#ffdddd 6px,#ffe1e1 9.7px,#ffd5d5 12px,#ffc1c1 17.5px,#ffd9d9 19.5px,#fff9f9 21px,#fffdfd 22.5px,#fff9f9 24px,#ffe1e1 26.3px,#fffdfd 28.3px,#f1f1ff 29.5px,#d1d1ff 31.5px,#ededff 33.5px,#f9f9ff 35px,#f9f9ff 37px,#ededff 40px,#e9e9ff 44px,#f1f1ff 47.6px,#f9f9ff 49.5px,#e9e9ff 52.6px,#f1f1ff 55px,#f9f9ff 57px,#f5f5ff 59px,#e9e9ff 61.5px,#ededff 64px,#e5e5ff 66px,#cdcdff 70.4px,#d5d5ff 73px,#e5e5ff 75px,#e5e5ff 79.2px,#ddddff 83.6px,#e5e5ff 88px,#e5e5ff 92.4px,#e1e1ff 96.9px,#e1e1ff 101.3px,#e5e5ff 106px,#e9e9ff 116px,#f1f1ff 126px,#f5f5ff 136px,#f9f9ff 146px,#f9f9ff 161px,#fdfdff 207.5px)"></i></div></div><div class="hs" style="left:789px;width:190px"><div style="left:-20px;width:230px;filter:url(#hv)"><i style="left:0px;width:81px;background:linear-gradient(#ff8d8d -0.5px,#ff9d9d 2.8px,#ffc1c1 4.6px,#ffdddd 6px,#ffe1e1 9.7px,#ffd5d5 12px,#ffbdbd 17.5px,#ffd9d9 19.5px,#fff9f9 21px,#fdfdff 22.5px,#fff9f9 24px,#ffe1e1 26.3px,#fffdfd 28.3px,#ededff 29.5px,#c9c9ff 31.5px,#e9e9ff 33.5px,#f9f9ff 35px,#f9f9ff 37px,#ededff 40px,#e9e9ff 44px,#f1f1ff 47.6px,#f9f9ff 49.5px,#e9e9ff 52.6px,#f1f1ff 55px,#f9f9ff 57px,#f5f5ff 59px,#e9e9ff 61.5px,#e9e9ff 64px,#e1e1ff 66px,#cdcdff 70.4px,#d5d5ff 73px,#e1e1ff 75px,#e5e5ff 79.2px,#ddddff 83.6px,#e5e5ff 88px,#e5e5ff 92.4px,#e1e1ff 96.9px,#e1e1ff 101.3px,#e5e5ff 106px,#e9e9ff 116px,#f1f1ff 126px,#f5f5ff 136px,#f9f9ff 146px,#f9f9ff 161px,#fdfdff 207.5px)"></i><i style="left:81px;width:70px;background:linear-gradient(#ff8989 -0.5px,#ff9999 2.8px,#ffc1c1 4.6px,#ffdddd 6px,#ffe1e1 9.7px,#ffd5d5 12px,#ffbdbd 17.5px,#ffd9d9 19.5px,#fff9f9 21px,#fdfdff 22.5px,#fff9f9 24px,#ffdddd 26.3px,#fffdfd 28.3px,#ededff 29.5px,#c9c9ff 31.5px,#e9e9ff 33.5px,#f9f9ff 35px,#f9f9ff 37px,#ededff 40px,#e9e9ff 44px,#f1f1ff 47.6px,#f9f9ff 49.5px,#e9e9ff 52.6px,#f1f1ff 55px,#f9f9ff 57px,#f5f5ff 59px,#e9e9ff 61.5px,#e9e9ff 64px,#e1e1ff 66px,#cdcdff 70.4px,#d5d5ff 73px,#e1e1ff 75px,#e5e5ff 79.2px,#ddddff 83.6px,#e5e5ff 88px,#e5e5ff 92.4px,#e1e1ff 96.9px,#e1e1ff 101.3px,#e5e5ff 106px,#e9e9ff 116px,#f1f1ff 126px,#f5f5ff 136px,#f9f9ff 146px,#f9f9ff 161px,#fdfdff 207.5px)"></i><i style="left:151px;width:79px;background:linear-gradient(#ff8585 -0.5px,#ff9999 2.8px,#ffc1c1 4.6px,#ffdddd 6px,#ffe5e5 9.7px,#ffd5d5 12px,#ffbdbd 17.5px,#ffd5d5 19.5px,#fff9f9 21px,#fdfdff 22.5px,#fff9f9 24px,#ffdddd 26.3px,#fffdfd 28.3px,#e9e9ff 29.5px,#c5c5ff 31.5px,#e9e9ff 33.5px,#f9f9ff 35px,#f9f9ff 37px,#ededff 40px,#e5e5ff 44px,#ededff 47.6px,#f9f9ff 49.5px,#e9e9ff 52.6px,#f1f1ff 55px,#f9f9ff 57px,#f5f5ff 59px,#e9e9ff 61.5px,#e9e9ff 64px,#e1e1ff 66px,#cdcdff 70.4px,#d5d5ff 73px,#e1e1ff 75px,#e5e5ff 79.2px,#d9d9ff 83.6px,#e5e5ff 88px,#e5e5ff 92.4px,#e1e1ff 96.9px,#e1e1ff 101.3px,#e5e5ff 106px,#e9e9ff 116px,#f1f1ff 126px,#f5f5ff 136px,#f9f9ff 146px,#f9f9ff 161px,#fdfdff 207.5px)"></i></div></div><i style="left:979px;width:19px;background:linear-gradient(#dcdcff 0,#ececff 8px,#fbfbff 18px,#fffdfd 50px)"></i><i style="left:761px;width:8px;background:linear-gradient(#ececff 0,#fbfbff 12px,#fffdfd 30px)"></i></div>
<svg width="1350" height="725" viewBox="0 0 1350 725">
<clipPath id="c3"><rect x="74.25" y="480.92" width="1155.05" height="207.83"/></clipPath><g clip-path="url(#c3)" fill="none" stroke-linejoin="round"><polyline points="332.6,664.6 371.5,664.6 372.5,663.6 500.0,663.5 640.0,662.9 760.4,663.0" stroke="#ff0000" stroke-width="2.9"/><polyline points="788.3,663.1 978.3,663.1" stroke="#ff0000" stroke-width="2.9"/><polyline points="332.6,663.0 371.5,663.0 372.5,662.1 500.0,662.0 640.0,661.3 760.4,661.4" stroke="#bf2000" stroke-width="1.6"/><polyline points="788.3,661.5 978.3,661.5" stroke="#bf2000" stroke-width="1.6"/><polyline points="332.6,661.6 371.5,661.6 372.5,660.8 500.0,660.5 640.0,659.8 760.4,660.0" stroke="#7f3f00" stroke-width="2.6"/><polyline points="788.3,660.1 978.3,660.1" stroke="#7f3f00" stroke-width="2.6"/><polyline points="333.1,657.7 364.0,656.9 393.0,655.9 430.0,655.9 448.0,656.9 470.0,657.5 500.0,658.4 530.0,657.0 560.0,655.8 714.0,656.0 741.0,657.5 760.4,657.0" stroke="#406000" stroke-width="1.3"/><polyline points="333.1,657.7 364.0,656.9 393.0,655.9 430.0,655.9 448.0,656.9 470.0,657.5 500.0,658.4 530.0,657.0 560.0,655.8 714.0,656.0 741.0,657.5 760.4,657.0" stroke="#406000" stroke-width="1.9" stroke-dasharray="1.1 1.2"/><polyline points="788.3,657.0 840.0,656.0 930.0,657.0 978.3,657.0" stroke="#406000" stroke-width="1.3"/><polyline points="788.3,657.0 840.0,656.0 930.0,657.0 978.3,657.0" stroke="#406000" stroke-width="1.9" stroke-dasharray="1.1 1.2"/><polyline points="975.9,643.2 977.5,645.0 978.9,650.0" stroke="#008000" stroke-width="1.3"/><polyline points="333.1,634.9 363.0,634.9 386.0,636.4 415.0,637.4 448.0,638.6 499.5,641.0 544.4,642.3 560.0,641.8 609.8,641.4 669.7,642.6 760.4,643.2" stroke="#008000" stroke-width="1.6"/><polyline points="333.1,634.9 363.0,634.9 386.0,636.4 415.0,637.4 448.0,638.6 499.5,641.0 544.4,642.3 560.0,641.8 609.8,641.4 669.7,642.6 760.4,643.2" stroke="#008000" stroke-width="2.5" stroke-dasharray="1.1 1.2"/><polyline points="788.3,643.5 839.8,642.3 929.5,643.2 975.9,643.2" stroke="#008000" stroke-width="1.6"/><polyline points="788.3,643.5 839.8,642.3 929.5,643.2 975.9,643.2" stroke="#008000" stroke-width="2.5" stroke-dasharray="1.1 1.2"/><polyline points="975.9,627.0 977.5,630.0 978.9,641.0" stroke="#006040" stroke-width="1.3"/><polyline points="333.1,613.7 357.0,614.7 386.0,616.8 415.0,618.6 448.0,620.5 499.5,624.0 544.4,626.1 560.0,625.8 609.8,624.9 669.7,627.0 714.6,627.9 760.4,627.6" stroke="#006040" stroke-width="1.9"/><polyline points="333.1,613.7 357.0,614.7 386.0,616.8 415.0,618.6 448.0,620.5 499.5,624.0 544.4,626.1 560.0,625.8 609.8,624.9 669.7,627.0 714.6,627.9 760.4,627.6" stroke="#006040" stroke-width="3.0" stroke-dasharray="1.1 1.2"/><polyline points="788.3,627.6 839.8,625.5 869.7,625.5 929.5,627.0 975.9,627.0" stroke="#006040" stroke-width="1.9"/><polyline points="788.3,627.6 839.8,625.5 869.7,625.5 929.5,627.0 975.9,627.0" stroke="#006040" stroke-width="3.0" stroke-dasharray="1.1 1.2"/><polyline points="975.9,610.0 977.3,613.0 978.6,630.0" stroke="#004080" stroke-width="1.3"/><polyline points="333.1,593.0 345.0,592.4 357.0,594.4 386.0,597.3 415.0,599.5 448.0,602.4 499.5,606.7 544.4,609.7 560.0,609.2 609.8,608.5 669.7,611.2 714.6,612.1 760.4,611.8" stroke="#004080" stroke-width="2.3"/><polyline points="333.1,593.0 345.0,592.4 357.0,594.4 386.0,597.3 415.0,599.5 448.0,602.4 499.5,606.7 544.4,609.7 560.0,609.2 609.8,608.5 669.7,611.2 714.6,612.1 760.4,611.8" stroke="#004080" stroke-width="3.6" stroke-dasharray="1.1 1.2"/><polyline points="788.3,611.8 839.8,608.8 869.7,608.8 929.5,610.3 975.9,610.0" stroke="#004080" stroke-width="2.3"/><polyline points="788.3,611.8 839.8,608.8 869.7,608.8 929.5,610.3 975.9,610.0" stroke="#004080" stroke-width="3.6" stroke-dasharray="1.1 1.2"/><polyline points="976.6,568.2 978.6,592.2" stroke="#0020bf" stroke-width="1.3"/><polyline points="335.0,479.0 336.6,481.7 344.3,484.4 349.8,488.8 356.5,493.2 363.1,498.7 366.4,502.0 374.1,504.3 379.6,507.0 384.0,508.1 391.7,506.5 398.4,508.1 407.2,510.9 413.8,512.5 420.4,515.3 424.8,514.4 432.5,516.9 438.0,519.7 445.0,520.7 454.3,521.1 459.7,523.7 471.7,525.1 477.0,528.0 487.7,532.0 495.7,532.0 503.7,538.7 509.0,540.0 518.3,542.9 523.7,546.4 529.0,546.0 535.7,549.6 541.0,550.4 550.3,554.4 558.3,554.9 569.0,554.4 574.3,558.0 579.7,558.7 587.7,555.3 595.7,552.7 603.7,550.7 610.3,546.7 614.3,546.0 620.0,546.0 625.3,547.3 629.3,549.3 640.0,549.6 646.7,552.0 653.3,553.1 660.0,555.3 673.3,558.9 686.7,561.6 697.3,561.6 706.7,564.3 718.7,564.3 724.0,566.7 733.3,566.3 746.7,565.6 760.3,564.7" stroke="#0020bf" stroke-width="3.1"/><polyline points="335.0,479.0 336.6,481.7 344.3,484.4 349.8,488.8 356.5,493.2 363.1,498.7 366.4,502.0 374.1,504.3 379.6,507.0 384.0,508.1 391.7,506.5 398.4,508.1 407.2,510.9 413.8,512.5 420.4,515.3 424.8,514.4 432.5,516.9 438.0,519.7 445.0,520.7 454.3,521.1 459.7,523.7 471.7,525.1 477.0,528.0 487.7,532.0 495.7,532.0 503.7,538.7 509.0,540.0 518.3,542.9 523.7,546.4 529.0,546.0 535.7,549.6 541.0,550.4 550.3,554.4 558.3,554.9 569.0,554.4 574.3,558.0 579.7,558.7 587.7,555.3 595.7,552.7 603.7,550.7 610.3,546.7 614.3,546.0 620.0,546.0 625.3,547.3 629.3,549.3 640.0,549.6 646.7,552.0 653.3,553.1 660.0,555.3 673.3,558.9 686.7,561.6 697.3,561.6 706.7,564.3 718.7,564.3 724.0,566.7 733.3,566.3 746.7,565.6 760.3,564.7" stroke="#0020bf" stroke-width="4.9" stroke-dasharray="1.1 1.2"/><polyline points="788.3,567.0 797.4,568.2 803.2,564.0 807.3,562.4 814.8,563.6 820.6,559.9 828.0,559.1 839.6,551.6 847.9,550.3 857.8,549.5 874.4,550.3 884.3,553.3 900.8,558.3 917.4,561.1 933.9,564.0 948.8,567.9 960.4,566.9 975.3,566.5 976.6,568.2" stroke="#0020bf" stroke-width="3.1"/><polyline points="788.3,567.0 797.4,568.2 803.2,564.0 807.3,562.4 814.8,563.6 820.6,559.9 828.0,559.1 839.6,551.6 847.9,550.3 857.8,549.5 874.4,550.3 884.3,553.3 900.8,558.3 917.4,561.1 933.9,564.0 948.8,567.9 960.4,566.9 975.3,566.5 976.6,568.2" stroke="#0020bf" stroke-width="4.9" stroke-dasharray="1.1 1.2"/><polyline points="787.5,478.5 791.0,481.6 795.8,483.3 800.0,481.6 803.0,478.5" stroke="#0000ff" stroke-width="3.4"/><polyline points="787.5,478.5 791.0,481.6 795.8,483.3 800.0,481.6 803.0,478.5" stroke="#0000ff" stroke-width="5.2" stroke-dasharray="1.1 1.2"/><polyline points="929.0,478.5 933.1,480.6 942.2,484.0 950.5,487.4 958.0,488.4 967.0,488.6 976.3,488.2" stroke="#0000ff" stroke-width="3.8"/><polyline points="929.0,478.5 933.1,480.6 942.2,484.0 950.5,487.4 958.0,488.4 967.0,488.6 976.3,488.2" stroke="#0000ff" stroke-width="6.4" stroke-dasharray="1.1 1.2"/><polyline points="332.4,679.7 760.4,679.4" stroke="#0000ff" stroke-width="4.2"/><polyline points="332.4,679.7 760.4,679.4" stroke="#0000ff" stroke-width="5.6" stroke-dasharray="1.3 1.7"/><polyline points="788.3,679.4 978.5,679.3" stroke="#0000ff" stroke-width="4.2"/><polyline points="788.3,679.4 978.5,679.3" stroke="#0000ff" stroke-width="5.6" stroke-dasharray="1.3 1.7"/><path d="M332.4 677.6h1.6v4.2h-1.6z" fill="#3a7a20" stroke="none"/><polyline points="760.4,679.6 761.3,686.0 762.2,679.8 770.0,679.0 780.0,679.6 786.0,680.0 787.2,688.0 788.4,680.0" stroke="#0000ff" stroke-width="1.6"/><polyline points="978.5,678.6 988.0,678.0 992.0,677.6" stroke="#0000ff" stroke-width="3.2"/><polyline points="992.0,677.2 997.6,676.2" stroke="#0000ff" stroke-width="5.5"/><path d="M760.2 500v1.3M760.2 546v1.3M760.2 600v1.3M760.2 640v1.3M788.3 492v1.3M788.3 516v1.3M788.3 541v1.3M788.3 573v1.3M788.3 583v1.3M788.3 596v1.3M788.3 603v1.3M788.3 620v1.3M788.3 650v1.3" stroke="#8a9af0" stroke-width="1.3"/><path d="M760.6 650V677" stroke="#5070d0" stroke-width="1" stroke-dasharray="1 3" opacity="0.7"/><path d="M977.3 491V548" stroke="#0000ff" stroke-width="1.3" stroke-dasharray="2 1.2" opacity="0.75"/><path d="M977.6 548V676" stroke="#4060e0" stroke-width="1" stroke-dasharray="1 4" opacity="0.6"/><path d="M760.9 664V672" stroke="#e03020" stroke-width="1" stroke-dasharray="1 1.5" opacity="0.6"/><path d="M787.6 664V688" stroke="#e03020" stroke-width="1" stroke-dasharray="2 1" opacity="0.75"/></g>
<path d="M74.50 65.50v-3.28M92.50 65.50v-3.28M110.50 65.50v-5.36M128.50 65.50v-3.28M146.50 65.50v-3.28M164.50 65.50v-3.28M183.50 65.50v-3.28M201.50 65.50v-3.28M219.50 65.50v-5.36M237.50 65.50v-3.28M255.50 65.50v-3.28M273.50 65.50v-3.28M291.50 65.50v-3.28M309.50 65.50v-3.28M327.50 65.50v-5.36M345.50 65.50v-3.28M363.50 65.50v-3.28M381.50 65.50v-3.28M399.50 65.50v-3.28M417.50 65.50v-3.28M435.50 65.50v-5.36M453.50 65.50v-3.28M471.50 65.50v-3.28M489.50 65.50v-3.28M507.50 65.50v-3.28M525.50 65.50v-3.28M543.50 65.50v-5.36M562.50 65.50v-3.28M580.50 65.50v-3.28M598.50 65.50v-3.28M616.50 65.50v-3.28M634.50 65.50v-3.28M652.50 65.50v-5.36M670.50 65.50v-3.28M688.50 65.50v-3.28M706.50 65.50v-3.28M724.50 65.50v-3.28M742.50 65.50v-3.28M760.50 65.50v-5.36M778.50 65.50v-3.28M796.50 65.50v-3.28M814.50 65.50v-3.28M832.50 65.50v-3.28M850.50 65.50v-3.28M868.50 65.50v-5.36M886.50 65.50v-3.28M904.50 65.50v-3.28M922.50 65.50v-3.28M941.50 65.50v-3.28M959.50 65.50v-3.28M977.50 65.50v-5.36M995.50 65.50v-3.28M1013.50 65.50v-3.28M1031.50 65.50v-3.28M1049.50 65.50v-3.28M1067.50 65.50v-3.28M1085.50 65.50v-5.36M1103.50 65.50v-3.28M1121.50 65.50v-3.28M1139.50 65.50v-3.28M1157.50 65.50v-3.28M1175.50 65.50v-3.28M1193.50 65.50v-5.36M1211.50 65.50v-3.28M1229.50 65.50v-3.28M74.50 273.50v3.28M92.50 273.50v3.28M110.50 273.50v5.36M128.50 273.50v3.28M146.50 273.50v3.28M164.50 273.50v3.28M183.50 273.50v3.28M201.50 273.50v3.28M219.50 273.50v5.36M237.50 273.50v3.28M255.50 273.50v3.28M273.50 273.50v3.28M291.50 273.50v3.28M309.50 273.50v3.28M327.50 273.50v5.36M345.50 273.50v3.28M363.50 273.50v3.28M381.50 273.50v3.28M399.50 273.50v3.28M417.50 273.50v3.28M435.50 273.50v5.36M453.50 273.50v3.28M471.50 273.50v3.28M489.50 273.50v3.28M507.50 273.50v3.28M525.50 273.50v3.28M543.50 273.50v5.36M562.50 273.50v3.28M580.50 273.50v3.28M598.50 273.50v3.28M616.50 273.50v3.28M634.50 273.50v3.28M652.50 273.50v5.36M670.50 273.50v3.28M688.50 273.50v3.28M706.50 273.50v3.28M724.50 273.50v3.28M742.50 273.50v3.28M760.50 273.50v5.36M778.50 273.50v3.28M796.50 273.50v3.28M814.50 273.50v3.28M832.50 273.50v3.28M850.50 273.50v3.28M868.50 273.50v5.36M886.50 273.50v3.28M904.50 273.50v3.28M922.50 273.50v3.28M941.50 273.50v3.28M959.50 273.50v3.28M977.50 273.50v5.36M995.50 273.50v3.28M1013.50 273.50v3.28M1031.50 273.50v3.28M1049.50 273.50v3.28M1067.50 273.50v3.28M1085.50 273.50v5.36M1103.50 273.50v3.28M1121.50 273.50v3.28M1139.50 273.50v3.28M1157.50 273.50v3.28M1175.50 273.50v3.28M1193.50 273.50v5.36M1211.50 273.50v3.28M1229.50 273.50v3.28M74.50 481.50v3.28M92.50 481.50v3.28M110.50 481.50v5.36M128.50 481.50v3.28M146.50 481.50v3.28M164.50 481.50v3.28M183.50 481.50v3.28M201.50 481.50v3.28M219.50 481.50v5.36M237.50 481.50v3.28M255.50 481.50v3.28M273.50 481.50v3.28M291.50 481.50v3.28M309.50 481.50v3.28M327.50 481.50v5.36M345.50 481.50v3.28M363.50 481.50v3.28M381.50 481.50v3.28M399.50 481.50v3.28M417.50 481.50v3.28M435.50 481.50v5.36M453.50 481.50v3.28M471.50 481.50v3.28M489.50 481.50v3.28M507.50 481.50v3.28M525.50 481.50v3.28M543.50 481.50v5.36M562.50 481.50v3.28M580.50 481.50v3.28M598.50 481.50v3.28M616.50 481.50v3.28M634.50 481.50v3.28M652.50 481.50v5.36M670.50 481.50v3.28M688.50 481.50v3.28M706.50 481.50v3.28M724.50 481.50v3.28M742.50 481.50v3.28M760.50 481.50v5.36M778.50 481.50v3.28M796.50 481.50v3.28M814.50 481.50v3.28M832.50 481.50v3.28M850.50 481.50v3.28M868.50 481.50v5.36M886.50 481.50v3.28M904.50 481.50v3.28M922.50 481.50v3.28M941.50 481.50v3.28M959.50 481.50v3.28M977.50 481.50v5.36M995.50 481.50v3.28M1013.50 481.50v3.28M1031.50 481.50v3.28M1049.50 481.50v3.28M1067.50 481.50v3.28M1085.50 481.50v5.36M1103.50 481.50v3.28M1121.50 481.50v3.28M1139.50 481.50v3.28M1157.50 481.50v3.28M1175.50 481.50v3.28M1193.50 481.50v5.36M1211.50 481.50v3.28M1229.50 481.50v3.28M74.50 689.50v3.28M92.50 689.50v3.28M110.50 689.50v5.36M128.50 689.50v3.28M146.50 689.50v3.28M164.50 689.50v3.28M183.50 689.50v3.28M201.50 689.50v3.28M219.50 689.50v5.36M237.50 689.50v3.28M255.50 689.50v3.28M273.50 689.50v3.28M291.50 689.50v3.28M309.50 689.50v3.28M327.50 689.50v5.36M345.50 689.50v3.28M363.50 689.50v3.28M381.50 689.50v3.28M399.50 689.50v3.28M417.50 689.50v3.28M435.50 689.50v5.36M453.50 689.50v3.28M471.50 689.50v3.28M489.50 689.50v3.28M507.50 689.50v3.28M525.50 689.50v3.28M543.50 689.50v5.36M562.50 689.50v3.28M580.50 689.50v3.28M598.50 689.50v3.28M616.50 689.50v3.28M634.50 689.50v3.28M652.50 689.50v5.36M670.50 689.50v3.28M688.50 689.50v3.28M706.50 689.50v3.28M724.50 689.50v3.28M742.50 689.50v3.28M760.50 689.50v5.36M778.50 689.50v3.28M796.50 689.50v3.28M814.50 689.50v3.28M832.50 689.50v3.28M850.50 689.50v3.28M868.50 689.50v5.36M886.50 689.50v3.28M904.50 689.50v3.28M922.50 689.50v3.28M941.50 689.50v3.28M959.50 689.50v3.28M977.50 689.50v5.36M995.50 689.50v3.28M1013.50 689.50v3.28M1031.50 689.50v3.28M1049.50 689.50v3.28M1067.50 689.50v3.28M1085.50 689.50v5.36M1103.50 689.50v3.28M1121.50 689.50v3.28M1139.50 689.50v3.28M1157.50 689.50v3.28M1175.50 689.50v3.28M1193.50 689.50v5.36M1211.50 689.50v3.28M1229.50 689.50v3.28M74.50 273.50h-5.40M74.50 269.50h-4.90M74.50 264.50h-4.90M74.50 260.50h-4.90M74.50 255.50h-4.90M74.50 251.50h-5.40M74.50 247.50h-4.90M74.50 242.50h-4.90M74.50 238.50h-4.90M74.50 233.50h-4.90M74.50 229.50h-5.40M74.50 224.50h-4.90M74.50 220.50h-4.90M74.50 216.50h-4.90M74.50 211.50h-4.90M74.50 207.50h-5.40M74.50 202.50h-4.90M74.50 198.50h-4.90M74.50 193.50h-4.90M74.50 189.50h-4.90M74.50 185.50h-4.90M74.50 180.50h-5.40M74.50 176.50h-4.90M74.50 171.50h-4.90M74.50 167.50h-4.90M74.50 163.50h-4.90M74.50 158.50h-5.40M74.50 154.50h-4.90M74.50 149.50h-4.90M74.50 145.50h-4.90M74.50 140.50h-4.90M74.50 136.50h-5.40M74.50 132.50h-4.90M74.50 127.50h-4.90M74.50 123.50h-4.90M74.50 118.50h-4.90M74.50 114.50h-4.90M74.50 109.50h-5.40M74.50 105.50h-4.90M74.50 101.50h-4.90M74.50 96.50h-4.90M74.50 92.50h-4.90M74.50 87.50h-5.40M74.50 83.50h-4.90M74.50 79.50h-4.90M74.50 74.50h-4.90M74.50 70.50h-4.90M74.50 65.50h-5.40M74.50 481.50h-5.40M74.50 476.50h-4.90M74.50 472.50h-4.90M74.50 468.50h-4.90M74.50 463.50h-4.90M74.50 459.50h-5.40M74.50 454.50h-4.90M74.50 450.50h-4.90M74.50 446.50h-4.90M74.50 441.50h-4.90M74.50 437.50h-5.40M74.50 432.50h-4.90M74.50 428.50h-4.90M74.50 423.50h-4.90M74.50 419.50h-4.90M74.50 415.50h-5.40M74.50 410.50h-4.90M74.50 406.50h-4.90M74.50 401.50h-4.90M74.50 397.50h-4.90M74.50 392.50h-4.90M74.50 388.50h-5.40M74.50 384.50h-4.90M74.50 379.50h-4.90M74.50 375.50h-4.90M74.50 370.50h-4.90M74.50 366.50h-5.40M74.50 362.50h-4.90M74.50 357.50h-4.90M74.50 353.50h-4.90M74.50 348.50h-4.90M74.50 344.50h-5.40M74.50 339.50h-4.90M74.50 335.50h-4.90M74.50 331.50h-4.90M74.50 326.50h-4.90M74.50 322.50h-4.90M74.50 317.50h-5.40M74.50 313.50h-4.90M74.50 308.50h-4.90M74.50 304.50h-4.90M74.50 300.50h-4.90M74.50 295.50h-5.40M74.50 291.50h-4.90M74.50 286.50h-4.90M74.50 282.50h-4.90M74.50 278.50h-4.90M74.50 273.50h-5.40M74.50 679.50h-5.36M74.50 629.50h-5.36M74.50 580.50h-5.36M74.50 530.50h-5.36" stroke="#000" stroke-width="1.11" fill="none"/>
<rect x="74.50" y="65.50" width="1155.00" height="208.00" fill="none" stroke="#000" stroke-width="1.11"/>
<rect x="74.50" y="273.50" width="1155.00" height="208.00" fill="none" stroke="#000" stroke-width="1.11"/>
<rect x="74.50" y="481.50" width="1155.00" height="208.00" fill="none" stroke="#000" stroke-width="1.11"/>
<linearGradient id="cbI" x1="0" y1="0" x2="0" y2="1"><stop offset="0.0000" stop-color="#7a0403"/><stop offset="0.0312" stop-color="#920b01"/><stop offset="0.0625" stop-color="#a91601"/><stop offset="0.0938" stop-color="#be2102"/><stop offset="0.1250" stop-color="#d02f05"/><stop offset="0.1562" stop-color="#df3f08"/><stop offset="0.1875" stop-color="#eb500e"/><stop offset="0.2188" stop-color="#f46617"/><stop offset="0.2500" stop-color="#fb7e21"/><stop offset="0.2812" stop-color="#fe962b"/><stop offset="0.3125" stop-color="#fdac34"/><stop offset="0.3438" stop-color="#f8be39"/><stop offset="0.3750" stop-color="#eecf3a"/><stop offset="0.4062" stop-color="#dfdf37"/><stop offset="0.4375" stop-color="#cdec34"/><stop offset="0.4688" stop-color="#b9f635"/><stop offset="0.5000" stop-color="#a4fc3c"/><stop offset="0.5312" stop-color="#8bff4b"/><stop offset="0.5625" stop-color="#6dfe62"/><stop offset="0.5938" stop-color="#4ef97d"/><stop offset="0.6250" stop-color="#32f298"/><stop offset="0.6562" stop-color="#1fe9af"/><stop offset="0.6875" stop-color="#18ddc2"/><stop offset="0.7188" stop-color="#1ccdd8"/><stop offset="0.7500" stop-color="#28bceb"/><stop offset="0.7812" stop-color="#37a8fa"/><stop offset="0.8125" stop-color="#4294ff"/><stop offset="0.8438" stop-color="#4680f6"/><stop offset="0.8750" stop-color="#466be3"/><stop offset="0.9062" stop-color="#4456c7"/><stop offset="0.9375" stop-color="#4040a2"/><stop offset="0.9688" stop-color="#392a73"/><stop offset="1.0000" stop-color="#30123b"/></linearGradient>
<rect x="1239.5" y="76.50" width="9" height="187.00" fill="url(#cbI)" stroke="#000" stroke-width="1.11"/>
<path d="M1248.5 263.50h5.3M1248.5 216.50h5.3M1248.5 169.50h5.3M1248.5 122.50h5.3M1248.5 76.50h5.3" stroke="#000" stroke-width="1.11" fill="none"/>
<linearGradient id="cbV" x1="0" y1="0" x2="0" y2="1"><stop offset="0.0000" stop-color="#800000"/><stop offset="0.0312" stop-color="#8e0000"/><stop offset="0.0625" stop-color="#9e0000"/><stop offset="0.0938" stop-color="#ae0000"/><stop offset="0.1250" stop-color="#be0000"/><stop offset="0.1562" stop-color="#ce0000"/><stop offset="0.1875" stop-color="#de0000"/><stop offset="0.2188" stop-color="#ee0000"/><stop offset="0.2500" stop-color="#fe0000"/><stop offset="0.2812" stop-color="#ff1d1d"/><stop offset="0.3125" stop-color="#ff3d3d"/><stop offset="0.3438" stop-color="#ff5d5d"/><stop offset="0.3750" stop-color="#ff7d7d"/><stop offset="0.4062" stop-color="#ff9d9d"/><stop offset="0.4375" stop-color="#ffbdbd"/><stop offset="0.4688" stop-color="#ffdddd"/><stop offset="0.5000" stop-color="#fffdfd"/><stop offset="0.5312" stop-color="#e1e1ff"/><stop offset="0.5625" stop-color="#c1c1ff"/><stop offset="0.5938" stop-color="#a1a1ff"/><stop offset="0.6250" stop-color="#8181ff"/><stop offset="0.6562" stop-color="#6161ff"/><stop offset="0.6875" stop-color="#4141ff"/><stop offset="0.7188" stop-color="#2121ff"/><stop offset="0.7500" stop-color="#0101ff"/><stop offset="0.7812" stop-color="#0000e9"/><stop offset="0.8125" stop-color="#0000d3"/><stop offset="0.8438" stop-color="#0000bc"/><stop offset="0.8750" stop-color="#0000a6"/><stop offset="0.9062" stop-color="#000090"/><stop offset="0.9375" stop-color="#000079"/><stop offset="0.9688" stop-color="#000063"/><stop offset="1.0000" stop-color="#00004c"/></linearGradient>
<rect x="1239.5" y="283.50" width="9" height="188.00" fill="url(#cbV)" stroke="#000" stroke-width="1.11"/>
<path d="M1248.5 471.50h5.3M1248.5 424.50h5.3M1248.5 377.50h5.3M1248.5 330.50h5.3M1248.5 283.50h5.3" stroke="#000" stroke-width="1.11" fill="none"/>
<rect x="1234.8" y="487.3" width="109.9" height="176.9" rx="2.8" fill="#fff" fill-opacity="0.8" stroke="#ccc" stroke-width="1.1"/>
<circle cx="1251.5" cy="498.70" r="4" fill="#0000ff"/>
<circle cx="1251.5" cy="517.96" r="4" fill="#0020bf"/>
<circle cx="1251.5" cy="537.22" r="4" fill="#004080"/>
<circle cx="1251.5" cy="556.48" r="4" fill="#006040"/>
<circle cx="1251.5" cy="575.74" r="4" fill="#008000"/>
<circle cx="1251.5" cy="595.00" r="4" fill="#406000"/>
<circle cx="1251.5" cy="614.26" r="4" fill="#804000"/>
<circle cx="1251.5" cy="633.52" r="4" fill="#bf2000"/>
<circle cx="1251.5" cy="652.78" r="4" fill="#ff0000"/>
<g style="opacity:.999" stroke="#000" stroke-width=".14"><text x="64.50" y="279.00" font-size="14.52" text-anchor="end" textLength="21.54" lengthAdjust="spacingAndGlyphs" fill="#000">3.0</text><text x="64.50" y="257.00" font-size="14.52" text-anchor="end" textLength="21.54" lengthAdjust="spacingAndGlyphs" fill="#000">4.0</text><text x="64.50" y="234.00" font-size="14.52" text-anchor="end" textLength="21.54" lengthAdjust="spacingAndGlyphs" fill="#000">5.0</text><text x="64.50" y="212.00" font-size="14.52" text-anchor="end" textLength="21.54" lengthAdjust="spacingAndGlyphs" fill="#000">6.0</text><text x="64.50" y="186.00" font-size="14.52" text-anchor="end" textLength="21.54" lengthAdjust="spacingAndGlyphs" fill="#000">8.0</text><text x="64.50" y="164.00" font-size="14.52" text-anchor="end" textLength="30.15" lengthAdjust="spacingAndGlyphs" fill="#000">10.0</text><text x="64.50" y="142.00" font-size="14.52" text-anchor="end" textLength="30.15" lengthAdjust="spacingAndGlyphs" fill="#000">12.0</text><text x="64.50" y="115.00" font-size="14.52" text-anchor="end" textLength="30.15" lengthAdjust="spacingAndGlyphs" fill="#000">16.0</text><text x="64.50" y="93.00" font-size="14.52" text-anchor="end" textLength="30.15" lengthAdjust="spacingAndGlyphs" fill="#000">20.0</text><text x="64.50" y="71.00" font-size="14.52" text-anchor="end" textLength="30.15" lengthAdjust="spacingAndGlyphs" fill="#000">24.0</text><text x="64.50" y="486.00" font-size="14.52" text-anchor="end" textLength="21.54" lengthAdjust="spacingAndGlyphs" fill="#000">3.0</text><text x="64.50" y="464.00" font-size="14.52" text-anchor="end" textLength="21.54" lengthAdjust="spacingAndGlyphs" fill="#000">4.0</text><text x="64.50" y="442.00" font-size="14.52" text-anchor="end" textLength="21.54" lengthAdjust="spacingAndGlyphs" fill="#000">5.0</text><text x="64.50" y="420.00" font-size="14.52" text-anchor="end" textLength="21.54" lengthAdjust="spacingAndGlyphs" fill="#000">6.0</text><text x="64.50" y="394.00" font-size="14.52" text-anchor="end" textLength="21.54" lengthAdjust="spacingAndGlyphs" fill="#000">8.0</text><text x="64.50" y="371.00" font-size="14.52" text-anchor="end" textLength="30.15" lengthAdjust="spacingAndGlyphs" fill="#000">10.0</text><text x="64.50" y="349.00" font-size="14.52" text-anchor="end" textLength="30.15" lengthAdjust="spacingAndGlyphs" fill="#000">12.0</text><text x="64.50" y="323.00" font-size="14.52" text-anchor="end" textLength="30.15" lengthAdjust="spacingAndGlyphs" fill="#000">16.0</text><text x="64.50" y="301.00" font-size="14.52" text-anchor="end" textLength="30.15" lengthAdjust="spacingAndGlyphs" fill="#000">20.0</text><text x="64.80" y="684.00" font-size="14.52" text-anchor="end" textLength="8.48" lengthAdjust="spacingAndGlyphs" fill="#000">0</text><text x="64.80" y="635.00" font-size="14.52" text-anchor="end" textLength="25.45" lengthAdjust="spacingAndGlyphs" fill="#000">500</text><text x="64.80" y="585.00" font-size="14.52" text-anchor="end" textLength="33.94" lengthAdjust="spacingAndGlyphs" fill="#000">1000</text><text x="64.80" y="536.00" font-size="14.52" text-anchor="end" textLength="33.94" lengthAdjust="spacingAndGlyphs" fill="#000">1500</text><text x="110.90" y="57.00" font-size="14.52" text-anchor="middle" textLength="39.03" lengthAdjust="spacingAndGlyphs" fill="#000">00:00</text><text x="110.90" y="709.00" font-size="14.52" text-anchor="middle" textLength="39.03" lengthAdjust="spacingAndGlyphs" fill="#000">00:00</text><text x="219.18" y="57.00" font-size="14.52" text-anchor="middle" textLength="39.03" lengthAdjust="spacingAndGlyphs" fill="#000">01:00</text><text x="219.18" y="709.00" font-size="14.52" text-anchor="middle" textLength="39.03" lengthAdjust="spacingAndGlyphs" fill="#000">01:00</text><text x="327.47" y="57.00" font-size="14.52" text-anchor="middle" textLength="39.03" lengthAdjust="spacingAndGlyphs" fill="#000">02:00</text><text x="327.47" y="709.00" font-size="14.52" text-anchor="middle" textLength="39.03" lengthAdjust="spacingAndGlyphs" fill="#000">02:00</text><text x="435.75" y="57.00" font-size="14.52" text-anchor="middle" textLength="39.03" lengthAdjust="spacingAndGlyphs" fill="#000">03:00</text><text x="435.75" y="709.00" font-size="14.52" text-anchor="middle" textLength="39.03" lengthAdjust="spacingAndGlyphs" fill="#000">03:00</text><text x="544.04" y="57.00" font-size="14.52" text-anchor="middle" textLength="39.03" lengthAdjust="spacingAndGlyphs" fill="#000">04:00</text><text x="544.04" y="709.00" font-size="14.52" text-anchor="middle" textLength="39.03" lengthAdjust="spacingAndGlyphs" fill="#000">04:00</text><text x="652.32" y="57.00" font-size="14.52" text-anchor="middle" textLength="39.03" lengthAdjust="spacingAndGlyphs" fill="#000">05:00</text><text x="652.32" y="709.00" font-size="14.52" text-anchor="middle" textLength="39.03" lengthAdjust="spacingAndGlyphs" fill="#000">05:00</text><text x="760.61" y="57.00" font-size="14.52" text-anchor="middle" textLength="39.03" lengthAdjust="spacingAndGlyphs" fill="#000">06:00</text><text x="760.61" y="709.00" font-size="14.52" text-anchor="middle" textLength="39.03" lengthAdjust="spacingAndGlyphs" fill="#000">06:00</text><text x="868.90" y="57.00" font-size="14.52" text-anchor="middle" textLength="39.03" lengthAdjust="spacingAndGlyphs" fill="#000">07:00</text><text x="868.90" y="709.00" font-size="14.52" text-anchor="middle" textLength="39.03" lengthAdjust="spacingAndGlyphs" fill="#000">07:00</text><text x="977.18" y="57.00" font-size="14.52" text-anchor="middle" textLength="39.03" lengthAdjust="spacingAndGlyphs" fill="#000">08:00</text><text x="977.18" y="709.00" font-size="14.52" text-anchor="middle" textLength="39.03" lengthAdjust="spacingAndGlyphs" fill="#000">08:00</text><text x="1085.47" y="57.00" font-size="14.52" text-anchor="middle" textLength="39.03" lengthAdjust="spacingAndGlyphs" fill="#000">09:00</text><text x="1085.47" y="709.00" font-size="14.52" text-anchor="middle" textLength="39.03" lengthAdjust="spacingAndGlyphs" fill="#000">09:00</text><text x="1193.75" y="57.00" font-size="14.52" text-anchor="middle" textLength="39.03" lengthAdjust="spacingAndGlyphs" fill="#000">10:00</text><text x="1193.75" y="709.00" font-size="14.52" text-anchor="middle" textLength="39.03" lengthAdjust="spacingAndGlyphs" fill="#000">10:00</text><text x="22.30" y="169.30" font-size="17.42" text-anchor="middle" textLength="128.96" lengthAdjust="spacingAndGlyphs" fill="#000" transform="rotate(-90 22.30 169.30)">Frequency, GHz</text><text x="22.30" y="377.30" font-size="17.42" text-anchor="middle" textLength="128.96" lengthAdjust="spacingAndGlyphs" fill="#000" transform="rotate(-90 22.30 377.30)">Frequency, GHz</text><text x="18.80" y="585.50" font-size="17.42" text-anchor="middle" textLength="154.12" lengthAdjust="spacingAndGlyphs" fill="#000" transform="rotate(-90 18.80 585.50)">Stokes I,V plot, sfu</text><text x="1233.40" y="709.00" font-size="15.97" text-anchor="start" textLength="71.82" lengthAdjust="spacingAndGlyphs" fill="#000">UTC Time</text><text x="167.00" y="28.00" font-size="17.42" text-anchor="start" textLength="96.45" lengthAdjust="spacingAndGlyphs" fill="#000">2024-12-16</text><text x="274.00" y="28.00" font-size="17.42" text-anchor="start" textLength="96.38" lengthAdjust="spacingAndGlyphs" fill="#000">SOLARSPEL</text><text x="380.92" y="28.00" font-size="17.42" text-anchor="start" textLength="37.66" lengthAdjust="spacingAndGlyphs" fill="#000">3-24</text><text x="423.86" y="28.00" font-size="17.42" text-anchor="start" textLength="34.05" lengthAdjust="spacingAndGlyphs" fill="#000">GHz</text><text x="463.19" y="28.00" font-size="17.42" text-anchor="start" textLength="158.45" lengthAdjust="spacingAndGlyphs" fill="#000">spectropolarimeter</text><text x="626.91" y="28.00" font-size="17.42" text-anchor="start" textLength="37.38" lengthAdjust="spacingAndGlyphs" fill="#000">data</text><text x="680.12" y="28.00" font-size="17.42" text-anchor="start" textLength="55.07" lengthAdjust="spacingAndGlyphs" fill="#000">Stokes</text><text x="740.47" y="28.00" font-size="17.42" text-anchor="start" textLength="21.52" lengthAdjust="spacingAndGlyphs" fill="#000">I,V</text><text x="777.81" y="28.00" font-size="17.42" text-anchor="start" textLength="21.12" lengthAdjust="spacingAndGlyphs" fill="#000">48</text><text x="804.21" y="28.00" font-size="17.42" text-anchor="start" textLength="83.24" lengthAdjust="spacingAndGlyphs" fill="#000">frequency</text><text x="892.72" y="28.00" font-size="17.42" text-anchor="start" textLength="74.32" lengthAdjust="spacingAndGlyphs" fill="#000">channels</text><text x="982.86" y="28.00" font-size="17.42" text-anchor="start" textLength="94.30" lengthAdjust="spacingAndGlyphs" fill="#000">(calibration</text><text x="1082.44" y="28.00" font-size="17.42" text-anchor="start" textLength="101.01" lengthAdjust="spacingAndGlyphs" fill="#000">preliminary)</text><text x="1258.60" y="268.00" font-size="14.52" text-anchor="start" textLength="8.62" lengthAdjust="spacingAndGlyphs" fill="#000">0</text><text x="1258.60" y="221.00" font-size="14.52" text-anchor="start" textLength="25.85" lengthAdjust="spacingAndGlyphs" fill="#000">500</text><text x="1258.60" y="175.00" font-size="14.52" text-anchor="start" textLength="34.47" lengthAdjust="spacingAndGlyphs" fill="#000">1000</text><text x="1258.60" y="128.00" font-size="14.52" text-anchor="start" textLength="34.47" lengthAdjust="spacingAndGlyphs" fill="#000">1500</text><text x="1258.60" y="81.00" font-size="14.52" text-anchor="start" textLength="34.47" lengthAdjust="spacingAndGlyphs" fill="#000">2000</text><text x="1311.20" y="169.16" font-size="17.42" text-anchor="middle" textLength="141.86" lengthAdjust="spacingAndGlyphs" fill="#000" transform="rotate(-90 1311.20 169.16)">Stokes I map, sfu</text><text x="1258.60" y="476.00" font-size="14.52" text-anchor="start" textLength="37.20" lengthAdjust="spacingAndGlyphs" fill="#000">−200</text><text x="1258.60" y="429.00" font-size="14.52" text-anchor="start" textLength="37.20" lengthAdjust="spacingAndGlyphs" fill="#000">−100</text><text x="1258.60" y="383.00" font-size="14.52" text-anchor="start" textLength="8.62" lengthAdjust="spacingAndGlyphs" fill="#000">0</text><text x="1258.60" y="336.00" font-size="14.52" text-anchor="start" textLength="25.85" lengthAdjust="spacingAndGlyphs" fill="#000">100</text><text x="1258.60" y="289.00" font-size="14.52" text-anchor="start" textLength="25.85" lengthAdjust="spacingAndGlyphs" fill="#000">200</text><text x="1313.60" y="377.00" font-size="17.42" text-anchor="middle" textLength="148.27" lengthAdjust="spacingAndGlyphs" fill="#000" transform="rotate(-90 1313.60 377.00)">Stokes V map, sfu</text><text x="1274.20" y="503.00" font-size="13.06" text-anchor="start" textLength="65.41" lengthAdjust="spacingAndGlyphs" fill="#000">19.69 GHz</text><text x="1274.20" y="522.00" font-size="13.06" text-anchor="start" textLength="65.41" lengthAdjust="spacingAndGlyphs" fill="#000">15.69 GHz</text><text x="1274.20" y="542.00" font-size="13.06" text-anchor="start" textLength="65.41" lengthAdjust="spacingAndGlyphs" fill="#000">11.83 GHz</text><text x="1274.20" y="561.00" font-size="13.06" text-anchor="start" textLength="57.45" lengthAdjust="spacingAndGlyphs" fill="#000">9.83 GHz</text><text x="1274.20" y="580.00" font-size="13.06" text-anchor="start" textLength="57.45" lengthAdjust="spacingAndGlyphs" fill="#000">7.83 GHz</text><text x="1274.20" y="600.00" font-size="13.06" text-anchor="start" textLength="57.45" lengthAdjust="spacingAndGlyphs" fill="#000">5.90 GHz</text><text x="1274.20" y="619.00" font-size="13.06" text-anchor="start" textLength="57.45" lengthAdjust="spacingAndGlyphs" fill="#000">4.90 GHz</text><text x="1274.20" y="638.00" font-size="13.06" text-anchor="start" textLength="57.45" lengthAdjust="spacingAndGlyphs" fill="#000">3.90 GHz</text><text x="1274.20" y="657.00" font-size="13.06" text-anchor="start" textLength="57.45" lengthAdjust="spacingAndGlyphs" fill="#000">3.00 GHz</text></g>
</svg></div></body></html>
